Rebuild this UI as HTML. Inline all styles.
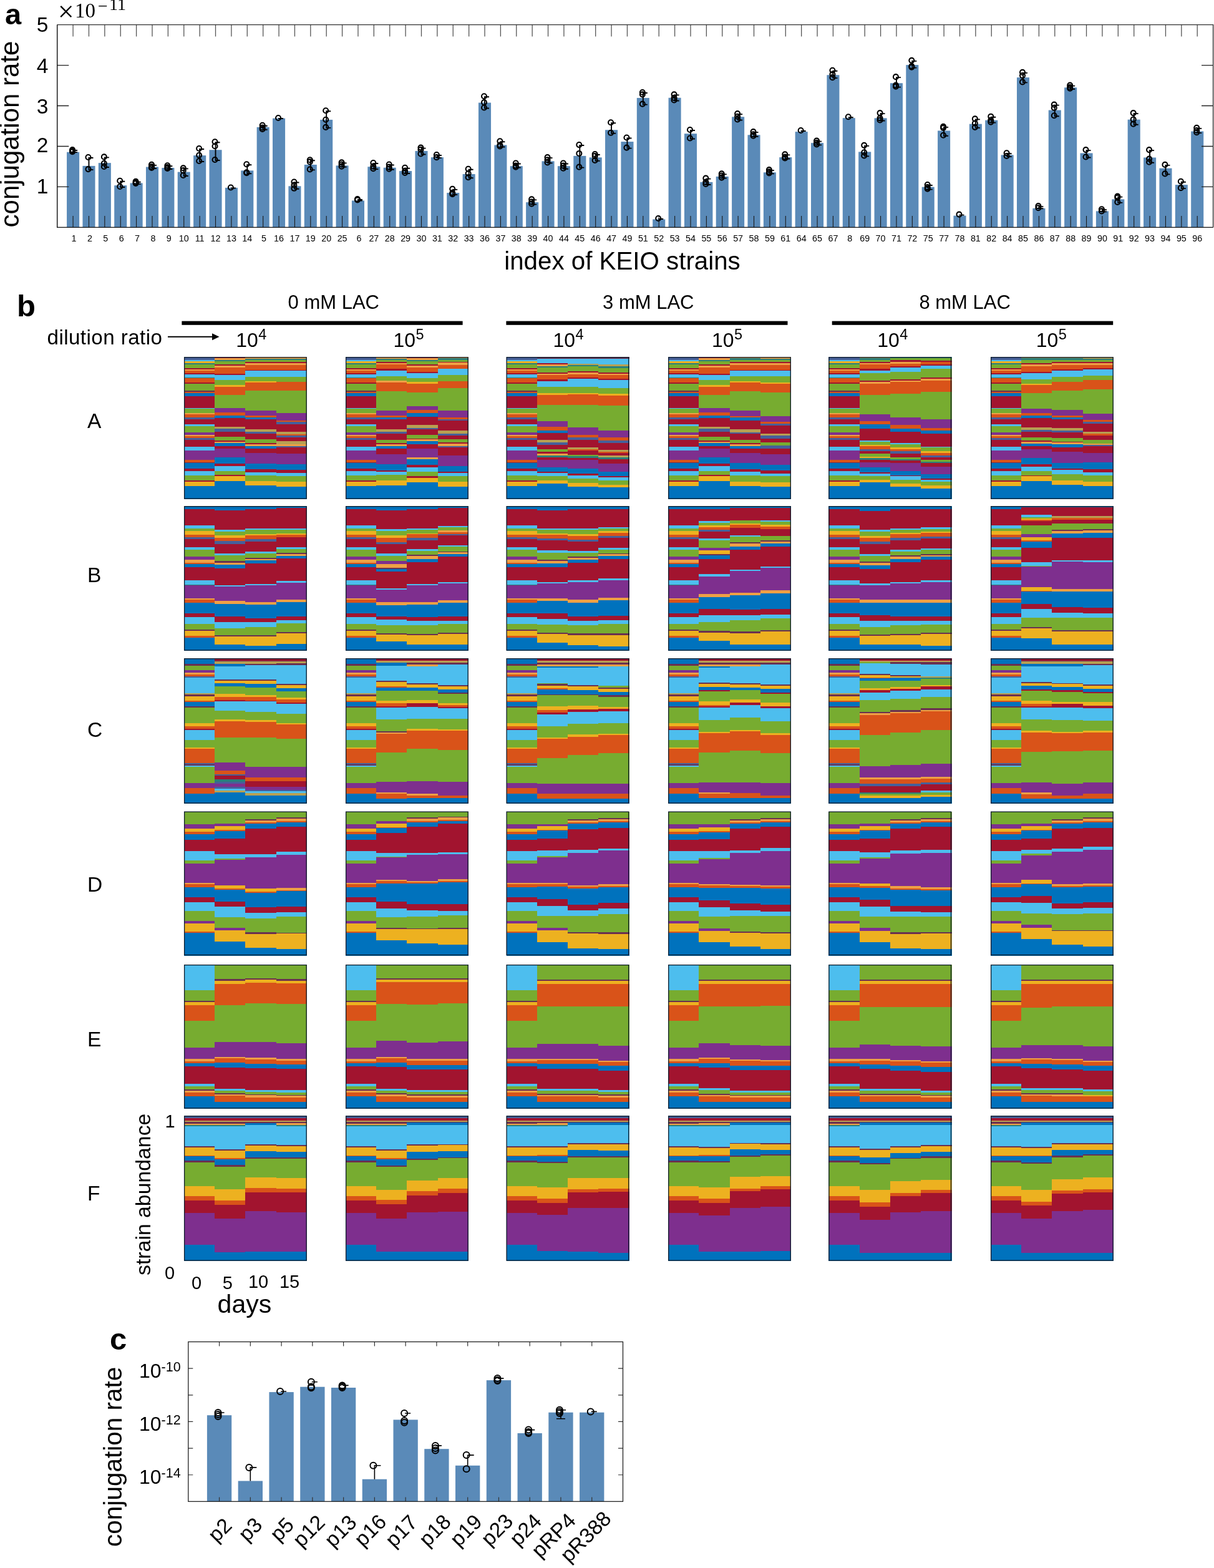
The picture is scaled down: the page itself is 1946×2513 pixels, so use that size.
<!DOCTYPE html>
<html><head><meta charset="utf-8"><title>Figure</title>
<style>html,body{margin:0;padding:0;background:#fff;} svg{display:block;}</style>
</head><body>
<svg width="1946" height="2513" viewBox="0 0 1946 2513"><text x="8" y="39" font-family="'Liberation Sans', Arial, Helvetica, sans-serif" font-weight="bold" font-size="47">a</text>
<rect x="107.06" y="243.75" width="20.05" height="120.65" fill="#5a8ab8"/>
<rect x="132.44" y="265.9" width="20.05" height="98.5" fill="#5a8ab8"/>
<rect x="157.82" y="261.14" width="20.05" height="103.26" fill="#5a8ab8"/>
<rect x="183.2" y="297.16" width="20.05" height="67.24" fill="#5a8ab8"/>
<rect x="208.58" y="293.43" width="20.05" height="70.97" fill="#5a8ab8"/>
<rect x="233.97" y="267.56" width="20.05" height="96.84" fill="#5a8ab8"/>
<rect x="259.35" y="269.01" width="20.05" height="95.39" fill="#5a8ab8"/>
<rect x="284.73" y="275.63" width="20.05" height="88.77" fill="#5a8ab8"/>
<rect x="310.11" y="249.14" width="20.05" height="115.26" fill="#5a8ab8"/>
<rect x="335.5" y="240.24" width="20.05" height="124.16" fill="#5a8ab8"/>
<rect x="360.88" y="300.89" width="20.05" height="63.51" fill="#5a8ab8"/>
<rect x="386.26" y="273.36" width="20.05" height="91.04" fill="#5a8ab8"/>
<rect x="411.64" y="203.8" width="20.05" height="160.6" fill="#5a8ab8"/>
<rect x="437.02" y="189.63" width="20.05" height="174.77" fill="#5a8ab8"/>
<rect x="462.41" y="298.3" width="20.05" height="66.1" fill="#5a8ab8"/>
<rect x="487.79" y="263.94" width="20.05" height="100.46" fill="#5a8ab8"/>
<rect x="513.17" y="191.91" width="20.05" height="172.49" fill="#5a8ab8"/>
<rect x="538.55" y="265.39" width="20.05" height="99.01" fill="#5a8ab8"/>
<rect x="563.94" y="321.49" width="20.05" height="42.91" fill="#5a8ab8"/>
<rect x="589.32" y="267.25" width="20.05" height="97.15" fill="#5a8ab8"/>
<rect x="614.7" y="268.7" width="20.05" height="95.7" fill="#5a8ab8"/>
<rect x="640.08" y="274.08" width="20.05" height="90.32" fill="#5a8ab8"/>
<rect x="665.46" y="242" width="20.05" height="122.4" fill="#5a8ab8"/>
<rect x="690.85" y="252.14" width="20.05" height="112.26" fill="#5a8ab8"/>
<rect x="716.23" y="309.07" width="20.05" height="55.33" fill="#5a8ab8"/>
<rect x="741.61" y="279.05" width="20.05" height="85.35" fill="#5a8ab8"/>
<rect x="766.99" y="164.58" width="20.05" height="199.82" fill="#5a8ab8"/>
<rect x="792.38" y="232.48" width="20.05" height="131.92" fill="#5a8ab8"/>
<rect x="817.76" y="266.22" width="20.05" height="98.18" fill="#5a8ab8"/>
<rect x="843.14" y="324.18" width="20.05" height="40.22" fill="#5a8ab8"/>
<rect x="868.52" y="258.35" width="20.05" height="106.05" fill="#5a8ab8"/>
<rect x="893.9" y="266.22" width="20.05" height="98.18" fill="#5a8ab8"/>
<rect x="919.29" y="249.87" width="20.05" height="114.53" fill="#5a8ab8"/>
<rect x="944.67" y="252.35" width="20.05" height="112.05" fill="#5a8ab8"/>
<rect x="970.05" y="208.26" width="20.05" height="156.14" fill="#5a8ab8"/>
<rect x="995.43" y="227.1" width="20.05" height="137.3" fill="#5a8ab8"/>
<rect x="1020.82" y="156.92" width="20.05" height="207.48" fill="#5a8ab8"/>
<rect x="1046.2" y="351.5" width="20.05" height="12.9" fill="#5a8ab8"/>
<rect x="1071.58" y="156.72" width="20.05" height="207.68" fill="#5a8ab8"/>
<rect x="1096.96" y="214.21" width="20.05" height="150.19" fill="#5a8ab8"/>
<rect x="1122.34" y="291.84" width="20.05" height="72.56" fill="#5a8ab8"/>
<rect x="1147.73" y="282.94" width="20.05" height="81.46" fill="#5a8ab8"/>
<rect x="1173.11" y="187.3" width="20.05" height="177.1" fill="#5a8ab8"/>
<rect x="1198.49" y="216.28" width="20.05" height="148.12" fill="#5a8ab8"/>
<rect x="1223.87" y="276.31" width="20.05" height="88.09" fill="#5a8ab8"/>
<rect x="1249.25" y="252.09" width="20.05" height="112.31" fill="#5a8ab8"/>
<rect x="1274.64" y="211.11" width="20.05" height="153.29" fill="#5a8ab8"/>
<rect x="1300.02" y="229.12" width="20.05" height="135.28" fill="#5a8ab8"/>
<rect x="1325.4" y="120.24" width="20.05" height="244.16" fill="#5a8ab8"/>
<rect x="1350.78" y="189.17" width="20.05" height="175.23" fill="#5a8ab8"/>
<rect x="1376.17" y="243.4" width="20.05" height="121" fill="#5a8ab8"/>
<rect x="1401.55" y="189.37" width="20.05" height="175.03" fill="#5a8ab8"/>
<rect x="1426.93" y="133.28" width="20.05" height="231.12" fill="#5a8ab8"/>
<rect x="1452.31" y="104.09" width="20.05" height="260.31" fill="#5a8ab8"/>
<rect x="1477.69" y="299.7" width="20.05" height="64.7" fill="#5a8ab8"/>
<rect x="1503.08" y="209.45" width="20.05" height="154.95" fill="#5a8ab8"/>
<rect x="1528.46" y="345.66" width="20.05" height="18.74" fill="#5a8ab8"/>
<rect x="1553.84" y="198.69" width="20.05" height="165.71" fill="#5a8ab8"/>
<rect x="1579.22" y="192.68" width="20.05" height="171.72" fill="#5a8ab8"/>
<rect x="1604.61" y="248.37" width="20.05" height="116.03" fill="#5a8ab8"/>
<rect x="1629.99" y="124.17" width="20.05" height="240.23" fill="#5a8ab8"/>
<rect x="1655.37" y="333.86" width="20.05" height="30.54" fill="#5a8ab8"/>
<rect x="1680.75" y="176.54" width="20.05" height="187.86" fill="#5a8ab8"/>
<rect x="1706.13" y="140.31" width="20.05" height="224.09" fill="#5a8ab8"/>
<rect x="1731.52" y="245.47" width="20.05" height="118.93" fill="#5a8ab8"/>
<rect x="1756.9" y="338.41" width="20.05" height="25.99" fill="#5a8ab8"/>
<rect x="1782.28" y="319.37" width="20.05" height="45.03" fill="#5a8ab8"/>
<rect x="1807.66" y="191.65" width="20.05" height="172.75" fill="#5a8ab8"/>
<rect x="1833.05" y="252.51" width="20.05" height="111.89" fill="#5a8ab8"/>
<rect x="1858.43" y="269.69" width="20.05" height="94.71" fill="#5a8ab8"/>
<rect x="1883.81" y="296.18" width="20.05" height="68.22" fill="#5a8ab8"/>
<rect x="1909.19" y="210.49" width="20.05" height="153.91" fill="#5a8ab8"/>
<path d="M117.08 364.4V345.9M142.46 364.4V345.9M167.85 364.4V345.9M193.23 364.4V345.9M218.61 364.4V345.9M243.99 364.4V345.9M269.38 364.4V345.9M294.76 364.4V345.9M320.14 364.4V345.9M345.52 364.4V345.9M370.9 364.4V345.9M396.29 364.4V345.9M421.67 364.4V345.9M447.05 364.4V345.9M472.43 364.4V345.9M497.82 364.4V345.9M523.2 364.4V345.9M548.58 364.4V345.9M573.96 364.4V345.9M599.34 364.4V345.9M624.73 364.4V345.9M650.11 364.4V345.9M675.49 364.4V345.9M700.87 364.4V345.9M726.25 364.4V345.9M751.64 364.4V345.9M777.02 364.4V345.9M802.4 364.4V345.9M827.78 364.4V345.9M853.17 364.4V345.9M878.55 364.4V345.9M903.93 364.4V345.9M929.31 364.4V345.9M954.69 364.4V345.9M980.08 364.4V345.9M1005.46 364.4V345.9M1030.84 364.4V345.9M1056.22 364.4V345.9M1081.61 364.4V345.9M1106.99 364.4V345.9M1132.37 364.4V345.9M1157.75 364.4V345.9M1183.13 364.4V345.9M1208.52 364.4V345.9M1233.9 364.4V345.9M1259.28 364.4V345.9M1284.66 364.4V345.9M1310.05 364.4V345.9M1335.43 364.4V345.9M1360.81 364.4V345.9M1386.19 364.4V345.9M1411.57 364.4V345.9M1436.96 364.4V345.9M1462.34 364.4V345.9M1487.72 364.4V345.9M1513.1 364.4V345.9M1538.48 364.4V345.9M1563.87 364.4V345.9M1589.25 364.4V345.9M1614.63 364.4V345.9M1640.01 364.4V345.9M1665.4 364.4V345.9M1690.78 364.4V345.9M1716.16 364.4V345.9M1741.54 364.4V345.9M1766.92 364.4V345.9M1792.31 364.4V345.9M1817.69 364.4V345.9M1843.07 364.4V345.9M1868.45 364.4V345.9M1893.84 364.4V345.9M1919.22 364.4V345.9" stroke="#1a1a1a" stroke-width="1.1" fill="none"/>
<path d="M117.08 39.6V58.4M142.46 39.6V58.4M167.85 39.6V58.4M193.23 39.6V58.4M218.61 39.6V58.4M243.99 39.6V58.4M269.38 39.6V58.4M294.76 39.6V58.4M320.14 39.6V58.4M345.52 39.6V58.4M370.9 39.6V58.4M396.29 39.6V58.4M421.67 39.6V58.4M447.05 39.6V58.4M472.43 39.6V58.4M497.82 39.6V58.4M523.2 39.6V58.4M548.58 39.6V58.4M573.96 39.6V58.4M599.34 39.6V58.4M624.73 39.6V58.4M650.11 39.6V58.4M675.49 39.6V58.4M700.87 39.6V58.4M726.25 39.6V58.4M751.64 39.6V58.4M777.02 39.6V58.4M802.4 39.6V58.4M827.78 39.6V58.4M853.17 39.6V58.4M878.55 39.6V58.4M903.93 39.6V58.4M929.31 39.6V58.4M954.69 39.6V58.4M980.08 39.6V58.4M1005.46 39.6V58.4M1030.84 39.6V58.4M1056.22 39.6V58.4M1081.61 39.6V58.4M1106.99 39.6V58.4M1132.37 39.6V58.4M1157.75 39.6V58.4M1183.13 39.6V58.4M1208.52 39.6V58.4M1233.9 39.6V58.4M1259.28 39.6V58.4M1284.66 39.6V58.4M1310.05 39.6V58.4M1335.43 39.6V58.4M1360.81 39.6V58.4M1386.19 39.6V58.4M1411.57 39.6V58.4M1436.96 39.6V58.4M1462.34 39.6V58.4M1487.72 39.6V58.4M1513.1 39.6V58.4M1538.48 39.6V58.4M1563.87 39.6V58.4M1589.25 39.6V58.4M1614.63 39.6V58.4M1640.01 39.6V58.4M1665.4 39.6V58.4M1690.78 39.6V58.4M1716.16 39.6V58.4M1741.54 39.6V58.4M1766.92 39.6V58.4M1792.31 39.6V58.4M1817.69 39.6V58.4M1843.07 39.6V58.4M1868.45 39.6V58.4M1893.84 39.6V58.4M1919.22 39.6V58.4" stroke="#555" stroke-width="1.3" fill="none"/>
<path d="M91.7 299.44H110.3M1944.6 299.44H1926M91.7 234.48H110.3M1944.6 234.48H1926M91.7 169.52H110.3M1944.6 169.52H1926M91.7 104.56H110.3M1944.6 104.56H1926" stroke="#222" stroke-width="1.3" fill="none"/>
<path d="M117.08 240.03V243.13M116.08 241.03H124.08M116.08 244.13H124.08M142.46 252.03V271.08M141.46 253.03H149.46M141.46 272.08H149.46M167.85 251.41V266.94M166.85 252.41H174.85M166.85 267.94H174.85M193.23 289.71V299.02M192.23 290.71H200.23M192.23 300.02H200.23M218.61 290.74V293.85M217.61 291.74H225.61M217.61 294.85H225.61M243.99 263.83V269.01M242.99 264.83H250.99M242.99 270.01H250.99M269.38 265.28V270.04M268.38 266.28H276.38M268.38 271.04H276.38M294.76 269.42V281.01M293.76 270.42H301.76M293.76 282.01H301.76M320.14 237.96V258.04M319.14 238.96H327.14M319.14 259.04H327.14M345.52 227.2V255.97M344.52 228.2H352.52M344.52 256.97H352.52M369.9 301.47H377.9M369.9 301.47H377.9M396.29 263.21V277.29M395.29 264.21H403.29M395.29 278.29H403.29M421.67 200.7V206.91M420.67 201.7H428.67M420.67 207.91H428.67M446.05 190.01H454.05M446.05 190.01H454.05M472.43 291.47V301.82M471.43 292.47H479.43M471.43 302.82H479.43M497.82 256.28V271.39M496.82 257.28H504.82M496.82 272.39H504.82M523.2 177.21V203.91M522.2 178.21H530.2M522.2 204.91H530.2M548.58 260.42V266.63M547.58 261.42H555.58M547.58 267.63H555.58M572.96 320H580.96M572.96 321.45H580.96M599.34 261.04V270.15M598.34 262.04H606.34M598.34 271.15H606.34M624.73 263.53V270.77M623.73 264.53H631.73M623.73 271.77H631.73M650.11 268.7V276.98M649.11 269.7H657.11M649.11 277.98H657.11M675.49 236.62V246.55M674.49 237.62H682.49M674.49 247.55H682.49M700.87 248V252.14M699.87 249H707.87M699.87 253.14H707.87M726.25 302.86V311.14M725.25 303.86H733.25M725.25 312.14H733.25M751.64 270.77V284.23M750.64 271.77H758.64M750.64 285.23H758.64M777.02 154.23V172.45M776.02 155.23H784.02M776.02 173.45H784.02M802.4 226.27V234.55M801.4 227.27H809.4M801.4 235.55H809.4M827.78 261.46V267.67M826.78 262.46H834.78M826.78 268.67H834.78M853.17 319.42V326.66M852.17 320.42H860.17M852.17 327.66H860.17M878.55 252.14V260.42M877.55 253.14H885.55M877.55 261.42H885.55M903.93 261.46V269.74M902.93 262.46H910.93M902.93 270.74H910.93M929.31 232.06V267.67M928.31 233.06H936.31M928.31 268.67H936.31M954.69 246.97V256.9M953.69 247.97H961.69M953.69 257.9H961.69M980.08 196.25V212.81M979.08 197.25H987.08M979.08 213.81H987.08M1005.46 220.47V236.62M1004.46 221.47H1012.46M1004.46 237.62H1012.46M1030.84 148.02V166.65M1029.84 149.02H1037.84M1029.84 167.65H1037.84M1055.22 351.05H1063.22M1055.22 351.05H1063.22M1081.61 151.34V160.44M1080.61 152.34H1088.61M1080.61 161.44H1088.61M1106.99 208V221.46M1105.99 209H1113.99M1105.99 222.46H1113.99M1132.37 285.63V294.94M1131.37 286.63H1139.37M1131.37 295.94H1139.37M1157.75 278.38V284.59M1156.75 279.38H1164.75M1156.75 285.59H1164.75M1183.13 182.13V191.44M1182.13 183.13H1190.13M1182.13 192.44H1190.13M1208.52 211.11V217.73M1207.52 212.11H1215.52M1207.52 218.73H1215.52M1233.9 272.17V277.35M1232.9 273.17H1240.9M1232.9 278.35H1240.9M1259.28 247.33V253.54M1258.28 248.33H1266.28M1258.28 254.54H1266.28M1283.66 210.04H1291.66M1283.66 210.04H1291.66M1310.05 225.6V231.39M1309.05 226.6H1317.05M1309.05 232.39H1317.05M1335.43 112.78V124.17M1334.43 113.78H1342.43M1334.43 125.17H1342.43M1359.81 188.3H1367.81M1359.81 188.3H1367.81M1386.19 232.84V249.4M1385.19 233.84H1393.19M1385.19 250.4H1393.19M1411.57 181.09V192.48M1410.57 182.09H1418.57M1410.57 193.48H1418.57M1436.96 123.13V138.66M1435.96 124.13H1443.96M1435.96 139.66H1443.96M1462.34 96.85V107.61M1461.34 97.85H1469.34M1461.34 108.61H1469.34M1487.72 295.98V302.6M1486.72 296.98H1494.72M1486.72 303.6H1494.72M1513.1 202.83V216.7M1512.1 203.83H1520.1M1512.1 217.7H1520.1M1537.48 344.59H1545.48M1537.48 344.59H1545.48M1563.87 190.41V203.86M1562.87 191.41H1570.87M1562.87 204.86H1570.87M1589.25 186.68V195.58M1588.25 187.68H1596.25M1588.25 196.58H1596.25M1614.63 245.26V250.02M1613.63 246.26H1621.63M1613.63 251.02H1621.63M1640.01 115.89V131.41M1639.01 116.89H1647.01M1639.01 132.41H1647.01M1665.4 330.13V333.24M1664.4 331.13H1672.4M1664.4 334.24H1672.4M1690.78 167.64V185.23M1689.78 168.64H1697.78M1689.78 186.23H1697.78M1716.16 136.59V141.76M1715.16 137.59H1723.16M1715.16 142.76H1723.16M1741.54 240.09V251.47M1740.54 241.09H1748.54M1740.54 252.47H1748.54M1766.92 335.31V338.41M1765.92 336.31H1773.92M1765.92 339.41H1773.92M1792.31 314.61V323.92M1791.31 315.61H1799.31M1791.31 324.92H1799.31M1817.69 181.09V198.69M1816.69 182.09H1824.69M1816.69 199.69H1824.69M1843.07 240.09V259.75M1842.07 241.09H1850.07M1842.07 260.75H1850.07M1868.45 263.89V278.38M1867.45 264.89H1875.45M1867.45 279.38H1875.45M1893.84 290.8V301.15M1892.84 291.8H1900.84M1892.84 302.15H1900.84M1919.22 204.9V212.14M1918.22 205.9H1926.22M1918.22 213.14H1926.22" stroke="#000" stroke-width="1.9" fill="none"/>
<g fill="none" stroke="#000" stroke-width="2.1"><circle cx="116.08" cy="240.03" r="4"/><circle cx="116.08" cy="242.1" r="4"/><circle cx="116.08" cy="243.13" r="4"/><circle cx="141.46" cy="252.03" r="4"/><circle cx="141.46" cy="271.08" r="4"/><circle cx="166.85" cy="251.41" r="4"/><circle cx="166.85" cy="261.76" r="4"/><circle cx="166.85" cy="266.94" r="4"/><circle cx="192.23" cy="289.71" r="4"/><circle cx="192.23" cy="299.02" r="4"/><circle cx="217.61" cy="290.74" r="4"/><circle cx="217.61" cy="292.81" r="4"/><circle cx="217.61" cy="293.85" r="4"/><circle cx="242.99" cy="263.83" r="4"/><circle cx="242.99" cy="266.94" r="4"/><circle cx="242.99" cy="269.01" r="4"/><circle cx="268.38" cy="265.28" r="4"/><circle cx="268.38" cy="267.97" r="4"/><circle cx="268.38" cy="270.04" r="4"/><circle cx="293.76" cy="269.42" r="4"/><circle cx="293.76" cy="273.15" r="4"/><circle cx="293.76" cy="281.01" r="4"/><circle cx="319.14" cy="237.96" r="4"/><circle cx="319.14" cy="248.72" r="4"/><circle cx="319.14" cy="258.04" r="4"/><circle cx="344.52" cy="227.2" r="4"/><circle cx="344.52" cy="234.23" r="4"/><circle cx="344.52" cy="255.97" r="4"/><circle cx="369.9" cy="300.47" r="4"/><circle cx="395.29" cy="263.21" r="4"/><circle cx="395.29" cy="276.25" r="4"/><circle cx="395.29" cy="277.29" r="4"/><circle cx="420.67" cy="200.7" r="4"/><circle cx="420.67" cy="204.43" r="4"/><circle cx="420.67" cy="206.91" r="4"/><circle cx="446.05" cy="189.01" r="4"/><circle cx="471.43" cy="291.47" r="4"/><circle cx="471.43" cy="296.65" r="4"/><circle cx="471.43" cy="301.82" r="4"/><circle cx="496.82" cy="256.28" r="4"/><circle cx="496.82" cy="259.39" r="4"/><circle cx="496.82" cy="271.39" r="4"/><circle cx="522.2" cy="177.21" r="4"/><circle cx="522.2" cy="191.7" r="4"/><circle cx="522.2" cy="203.91" r="4"/><circle cx="547.58" cy="260.42" r="4"/><circle cx="547.58" cy="263.53" r="4"/><circle cx="547.58" cy="266.63" r="4"/><circle cx="572.96" cy="319" r="4"/><circle cx="572.96" cy="320.45" r="4"/><circle cx="598.34" cy="261.04" r="4"/><circle cx="598.34" cy="266.63" r="4"/><circle cx="598.34" cy="270.15" r="4"/><circle cx="623.73" cy="263.53" r="4"/><circle cx="623.73" cy="267.67" r="4"/><circle cx="623.73" cy="270.77" r="4"/><circle cx="649.11" cy="268.7" r="4"/><circle cx="649.11" cy="273.88" r="4"/><circle cx="649.11" cy="276.98" r="4"/><circle cx="674.49" cy="236.62" r="4"/><circle cx="674.49" cy="239.72" r="4"/><circle cx="674.49" cy="246.55" r="4"/><circle cx="699.87" cy="248" r="4"/><circle cx="699.87" cy="252.14" r="4"/><circle cx="725.25" cy="302.86" r="4"/><circle cx="725.25" cy="309.07" r="4"/><circle cx="725.25" cy="311.14" r="4"/><circle cx="750.64" cy="270.77" r="4"/><circle cx="750.64" cy="278.02" r="4"/><circle cx="750.64" cy="284.23" r="4"/><circle cx="776.02" cy="154.23" r="4"/><circle cx="776.02" cy="164.17" r="4"/><circle cx="776.02" cy="172.45" r="4"/><circle cx="801.4" cy="226.27" r="4"/><circle cx="801.4" cy="232.48" r="4"/><circle cx="801.4" cy="234.55" r="4"/><circle cx="826.78" cy="261.46" r="4"/><circle cx="826.78" cy="265.6" r="4"/><circle cx="826.78" cy="267.67" r="4"/><circle cx="852.17" cy="319.42" r="4"/><circle cx="852.17" cy="323.56" r="4"/><circle cx="852.17" cy="326.66" r="4"/><circle cx="877.55" cy="252.14" r="4"/><circle cx="877.55" cy="256.28" r="4"/><circle cx="877.55" cy="260.42" r="4"/><circle cx="902.93" cy="261.46" r="4"/><circle cx="902.93" cy="265.6" r="4"/><circle cx="902.93" cy="269.74" r="4"/><circle cx="928.31" cy="232.06" r="4"/><circle cx="928.31" cy="245.93" r="4"/><circle cx="928.31" cy="267.67" r="4"/><circle cx="953.69" cy="246.97" r="4"/><circle cx="953.69" cy="250.07" r="4"/><circle cx="953.69" cy="256.9" r="4"/><circle cx="979.08" cy="196.25" r="4"/><circle cx="979.08" cy="212.81" r="4"/><circle cx="1004.46" cy="220.47" r="4"/><circle cx="1004.46" cy="236.62" r="4"/><circle cx="1029.84" cy="148.02" r="4"/><circle cx="1029.84" cy="151.34" r="4"/><circle cx="1029.84" cy="166.65" r="4"/><circle cx="1055.22" cy="350.05" r="4"/><circle cx="1080.61" cy="151.34" r="4"/><circle cx="1080.61" cy="156.92" r="4"/><circle cx="1080.61" cy="160.44" r="4"/><circle cx="1105.99" cy="208" r="4"/><circle cx="1105.99" cy="221.46" r="4"/><circle cx="1131.37" cy="285.63" r="4"/><circle cx="1131.37" cy="291.84" r="4"/><circle cx="1131.37" cy="294.94" r="4"/><circle cx="1156.75" cy="278.38" r="4"/><circle cx="1156.75" cy="281.49" r="4"/><circle cx="1156.75" cy="284.59" r="4"/><circle cx="1182.13" cy="182.13" r="4"/><circle cx="1182.13" cy="186.68" r="4"/><circle cx="1182.13" cy="191.44" r="4"/><circle cx="1207.52" cy="211.11" r="4"/><circle cx="1207.52" cy="215.25" r="4"/><circle cx="1207.52" cy="217.73" r="4"/><circle cx="1232.9" cy="272.17" r="4"/><circle cx="1232.9" cy="275.28" r="4"/><circle cx="1232.9" cy="277.35" r="4"/><circle cx="1258.28" cy="247.33" r="4"/><circle cx="1258.28" cy="251.47" r="4"/><circle cx="1258.28" cy="253.54" r="4"/><circle cx="1283.66" cy="209.04" r="4"/><circle cx="1309.05" cy="225.6" r="4"/><circle cx="1309.05" cy="228.7" r="4"/><circle cx="1309.05" cy="231.39" r="4"/><circle cx="1334.43" cy="112.78" r="4"/><circle cx="1334.43" cy="118.99" r="4"/><circle cx="1334.43" cy="124.17" r="4"/><circle cx="1359.81" cy="187.3" r="4"/><circle cx="1385.19" cy="232.84" r="4"/><circle cx="1385.19" cy="244.23" r="4"/><circle cx="1385.19" cy="249.4" r="4"/><circle cx="1410.57" cy="181.09" r="4"/><circle cx="1410.57" cy="189.37" r="4"/><circle cx="1410.57" cy="192.48" r="4"/><circle cx="1435.96" cy="123.13" r="4"/><circle cx="1435.96" cy="136.59" r="4"/><circle cx="1435.96" cy="138.66" r="4"/><circle cx="1461.34" cy="96.85" r="4"/><circle cx="1461.34" cy="105.95" r="4"/><circle cx="1461.34" cy="107.61" r="4"/><circle cx="1486.72" cy="295.98" r="4"/><circle cx="1486.72" cy="300.12" r="4"/><circle cx="1486.72" cy="302.6" r="4"/><circle cx="1512.1" cy="202.83" r="4"/><circle cx="1512.1" cy="204.9" r="4"/><circle cx="1512.1" cy="216.7" r="4"/><circle cx="1537.48" cy="343.59" r="4"/><circle cx="1562.87" cy="190.41" r="4"/><circle cx="1562.87" cy="197.65" r="4"/><circle cx="1562.87" cy="203.86" r="4"/><circle cx="1588.25" cy="186.68" r="4"/><circle cx="1588.25" cy="192.48" r="4"/><circle cx="1588.25" cy="195.58" r="4"/><circle cx="1613.63" cy="245.26" r="4"/><circle cx="1613.63" cy="250.02" r="4"/><circle cx="1639.01" cy="115.89" r="4"/><circle cx="1639.01" cy="121.06" r="4"/><circle cx="1639.01" cy="131.41" r="4"/><circle cx="1664.4" cy="330.13" r="4"/><circle cx="1664.4" cy="333.24" r="4"/><circle cx="1689.78" cy="167.64" r="4"/><circle cx="1689.78" cy="172.81" r="4"/><circle cx="1689.78" cy="185.23" r="4"/><circle cx="1715.16" cy="136.59" r="4"/><circle cx="1715.16" cy="139.69" r="4"/><circle cx="1715.16" cy="141.76" r="4"/><circle cx="1740.54" cy="240.09" r="4"/><circle cx="1740.54" cy="251.47" r="4"/><circle cx="1765.92" cy="335.31" r="4"/><circle cx="1765.92" cy="338.41" r="4"/><circle cx="1791.31" cy="314.61" r="4"/><circle cx="1791.31" cy="316.68" r="4"/><circle cx="1791.31" cy="323.92" r="4"/><circle cx="1816.69" cy="181.09" r="4"/><circle cx="1816.69" cy="191.44" r="4"/><circle cx="1816.69" cy="198.69" r="4"/><circle cx="1842.07" cy="240.09" r="4"/><circle cx="1842.07" cy="254.58" r="4"/><circle cx="1842.07" cy="259.75" r="4"/><circle cx="1867.45" cy="263.89" r="4"/><circle cx="1867.45" cy="278.38" r="4"/><circle cx="1892.84" cy="290.8" r="4"/><circle cx="1892.84" cy="301.15" r="4"/><circle cx="1918.22" cy="204.9" r="4"/><circle cx="1918.22" cy="209.04" r="4"/><circle cx="1918.22" cy="212.14" r="4"/></g>
<path d="M91.7 39.6V364.4H1944.6" stroke="#111" stroke-width="1.4" fill="none"/>
<path d="M91.7 39.6H1944.6V364.4" stroke="#333" stroke-width="1.4" fill="none"/>
<text x="77.3" y="50.8" text-anchor="end" font-family="'Liberation Sans', Arial, Helvetica, sans-serif" font-size="33.5">5</text>
<text x="77.3" y="116.6" text-anchor="end" font-family="'Liberation Sans', Arial, Helvetica, sans-serif" font-size="33.5">4</text>
<text x="77.3" y="181.7" text-anchor="end" font-family="'Liberation Sans', Arial, Helvetica, sans-serif" font-size="33.5">3</text>
<text x="77.3" y="243.6" text-anchor="end" font-family="'Liberation Sans', Arial, Helvetica, sans-serif" font-size="33.5">2</text>
<text x="77.3" y="309.5" text-anchor="end" font-family="'Liberation Sans', Arial, Helvetica, sans-serif" font-size="33.5">1</text>
<g font-family="'Liberation Sans', Arial, Helvetica, sans-serif" font-size="14.3" text-anchor="middle"><text x="118.48" y="387.4">1</text><text x="143.86" y="387.4">2</text><text x="169.25" y="387.4">5</text><text x="194.63" y="387.4">6</text><text x="220.01" y="387.4">7</text><text x="245.39" y="387.4">8</text><text x="270.78" y="387.4">9</text><text x="294.76" y="387.4">10</text><text x="320.14" y="387.4">11</text><text x="345.52" y="387.4">12</text><text x="370.9" y="387.4">13</text><text x="396.29" y="387.4">14</text><text x="423.07" y="387.4">5</text><text x="447.05" y="387.4">16</text><text x="472.43" y="387.4">17</text><text x="497.82" y="387.4">19</text><text x="523.2" y="387.4">20</text><text x="548.58" y="387.4">25</text><text x="575.36" y="387.4">6</text><text x="599.34" y="387.4">27</text><text x="624.73" y="387.4">28</text><text x="650.11" y="387.4">29</text><text x="675.49" y="387.4">30</text><text x="700.87" y="387.4">31</text><text x="726.25" y="387.4">32</text><text x="751.64" y="387.4">33</text><text x="777.02" y="387.4">36</text><text x="802.4" y="387.4">37</text><text x="827.78" y="387.4">38</text><text x="853.17" y="387.4">39</text><text x="878.55" y="387.4">40</text><text x="903.93" y="387.4">44</text><text x="929.31" y="387.4">45</text><text x="954.69" y="387.4">46</text><text x="980.08" y="387.4">47</text><text x="1005.46" y="387.4">49</text><text x="1030.84" y="387.4">51</text><text x="1056.22" y="387.4">52</text><text x="1081.61" y="387.4">53</text><text x="1106.99" y="387.4">54</text><text x="1132.37" y="387.4">55</text><text x="1157.75" y="387.4">56</text><text x="1183.13" y="387.4">57</text><text x="1208.52" y="387.4">58</text><text x="1233.9" y="387.4">59</text><text x="1259.28" y="387.4">61</text><text x="1284.66" y="387.4">64</text><text x="1310.05" y="387.4">65</text><text x="1335.43" y="387.4">67</text><text x="1362.21" y="387.4">8</text><text x="1386.19" y="387.4">69</text><text x="1411.57" y="387.4">70</text><text x="1436.96" y="387.4">71</text><text x="1462.34" y="387.4">72</text><text x="1487.72" y="387.4">75</text><text x="1513.1" y="387.4">77</text><text x="1538.48" y="387.4">78</text><text x="1563.87" y="387.4">81</text><text x="1589.25" y="387.4">82</text><text x="1614.63" y="387.4">84</text><text x="1640.01" y="387.4">85</text><text x="1665.4" y="387.4">86</text><text x="1690.78" y="387.4">87</text><text x="1716.16" y="387.4">88</text><text x="1741.54" y="387.4">89</text><text x="1766.92" y="387.4">90</text><text x="1792.31" y="387.4">91</text><text x="1817.69" y="387.4">92</text><text x="1843.07" y="387.4">93</text><text x="1868.45" y="387.4">94</text><text x="1893.84" y="387.4">95</text><text x="1919.22" y="387.4">96</text></g>
<text x="92.8" y="34.3" font-family="'Liberation Serif', 'Times New Roman', serif" font-size="46">&#215;</text>
<text x="120" y="27.6" font-family="'Liberation Serif', 'Times New Roman', serif" font-size="33">10</text>
<text x="157" y="18.5" font-family="'Liberation Serif', 'Times New Roman', serif" font-size="28">&#8722;</text>
<text x="175" y="15.6" font-family="'Liberation Serif', 'Times New Roman', serif" font-size="28">11</text>
<text transform="translate(30.3 215) rotate(-90)" text-anchor="middle" font-family="'Liberation Sans', Arial, Helvetica, sans-serif" font-size="42">conjugation rate</text>
<text x="997.5" y="431.6" text-anchor="middle" font-family="'Liberation Sans', Arial, Helvetica, sans-serif" font-size="40.3">index of KEIO strains</text>
<text x="27" y="507" font-family="'Liberation Sans', Arial, Helvetica, sans-serif" font-weight="bold" font-size="49">b</text>
<rect x="291.4" y="514.6" width="450.2" height="6.2" fill="#000"/>
<rect x="811.4" y="514.6" width="451.1" height="6.2" fill="#000"/>
<rect x="1333.7" y="514.6" width="450.5" height="6.2" fill="#000"/>
<text x="534.8" y="495.3" text-anchor="middle" font-family="'Liberation Sans', Arial, Helvetica, sans-serif" font-size="31">0 mM LAC</text>
<text x="1039.3" y="495.3" text-anchor="middle" font-family="'Liberation Sans', Arial, Helvetica, sans-serif" font-size="31">3 mM LAC</text>
<text x="1546.6" y="495.3" text-anchor="middle" font-family="'Liberation Sans', Arial, Helvetica, sans-serif" font-size="31">8 mM LAC</text>
<text x="378.3" y="556" font-family="'Liberation Sans', Arial, Helvetica, sans-serif" font-size="32">10</text><text x="414.3" y="544.3" font-family="'Liberation Sans', Arial, Helvetica, sans-serif" font-size="23.5">4</text>
<text x="630.5" y="556" font-family="'Liberation Sans', Arial, Helvetica, sans-serif" font-size="32">10</text><text x="666.5" y="544.3" font-family="'Liberation Sans', Arial, Helvetica, sans-serif" font-size="23.5">5</text>
<text x="886.4" y="556" font-family="'Liberation Sans', Arial, Helvetica, sans-serif" font-size="32">10</text><text x="922.4" y="544.3" font-family="'Liberation Sans', Arial, Helvetica, sans-serif" font-size="23.5">4</text>
<text x="1140.9" y="556" font-family="'Liberation Sans', Arial, Helvetica, sans-serif" font-size="32">10</text><text x="1176.9" y="544.3" font-family="'Liberation Sans', Arial, Helvetica, sans-serif" font-size="23.5">5</text>
<text x="1406.3" y="556" font-family="'Liberation Sans', Arial, Helvetica, sans-serif" font-size="32">10</text><text x="1442.3" y="544.3" font-family="'Liberation Sans', Arial, Helvetica, sans-serif" font-size="23.5">4</text>
<text x="1660.8" y="556" font-family="'Liberation Sans', Arial, Helvetica, sans-serif" font-size="32">10</text><text x="1696.8" y="544.3" font-family="'Liberation Sans', Arial, Helvetica, sans-serif" font-size="23.5">5</text>
<text x="75.5" y="551.6" font-family="'Liberation Sans', Arial, Helvetica, sans-serif" font-size="33.2" textLength="184.5" lengthAdjust="spacing">dilution ratio</text>
<path d="M269 539.8H342" stroke="#000" stroke-width="2"/><path d="M340 534.3L351.5 539.8L340 545.3Z" fill="#000"/>
<text x="140" y="685.8" font-family="'Liberation Sans', Arial, Helvetica, sans-serif" font-size="33.5">A</text>
<text x="140" y="932.7" font-family="'Liberation Sans', Arial, Helvetica, sans-serif" font-size="33.5">B</text>
<text x="140" y="1181.1" font-family="'Liberation Sans', Arial, Helvetica, sans-serif" font-size="33.5">C</text>
<text x="140" y="1429.1" font-family="'Liberation Sans', Arial, Helvetica, sans-serif" font-size="33.5">D</text>
<text x="140" y="1677" font-family="'Liberation Sans', Arial, Helvetica, sans-serif" font-size="33.5">E</text>
<text x="140" y="1923.8" font-family="'Liberation Sans', Arial, Helvetica, sans-serif" font-size="33.5">F</text>
<g shape-rendering="crispEdges"><rect x="295" y="572.15" width="49.7" height="5.73" fill="#46609a"/><rect x="295" y="577.38" width="49.7" height="2.24" fill="#4DBEEE"/><rect x="295" y="579.13" width="49.7" height="3.41" fill="#EDB120"/><rect x="295" y="582.03" width="49.7" height="2.83" fill="#2a7f7a"/><rect x="295" y="584.36" width="49.7" height="5.73" fill="#77AC30"/><rect x="295" y="589.59" width="49.7" height="2.59" fill="#A2142F"/><rect x="295" y="591.68" width="49.7" height="3.06" fill="#eea045"/><rect x="295" y="594.24" width="49.7" height="4.57" fill="#D95319"/><rect x="295" y="598.31" width="49.7" height="2.24" fill="#A2142F"/><rect x="295" y="600.06" width="49.7" height="5.15" fill="#4DBEEE"/><rect x="295" y="604.71" width="49.7" height="2.24" fill="#2a7f7a"/><rect x="295" y="606.45" width="49.7" height="7.48" fill="#D95319"/><rect x="295" y="613.43" width="49.7" height="1.66" fill="#A2142F"/><rect x="295" y="614.59" width="49.7" height="11.55" fill="#77AC30"/><rect x="295" y="625.64" width="49.7" height="2.59" fill="#6a3050"/><rect x="295" y="627.73" width="49.7" height="3.06" fill="#D95319"/><rect x="295" y="630.29" width="49.7" height="5.15" fill="#0072BD"/><rect x="295" y="634.94" width="49.7" height="19.1" fill="#A2142F"/><rect x="295" y="653.54" width="49.7" height="2.24" fill="#4DBEEE"/><rect x="295" y="655.29" width="49.7" height="6.9" fill="#77AC30"/><rect x="295" y="661.68" width="49.7" height="2.83" fill="#eea045"/><rect x="295" y="664.01" width="49.7" height="5.15" fill="#D95319"/><rect x="295" y="668.66" width="49.7" height="3.41" fill="#46609a"/><rect x="295" y="671.57" width="49.7" height="9.22" fill="#A2142F"/><rect x="295" y="680.29" width="49.7" height="2.83" fill="#4DBEEE"/><rect x="295" y="682.61" width="49.7" height="10.96" fill="#77AC30"/><rect x="295" y="693.08" width="49.7" height="4.57" fill="#7E2F8E"/><rect x="295" y="697.15" width="49.7" height="2.83" fill="#eea045"/><rect x="295" y="699.47" width="49.7" height="2.83" fill="#D95319"/><rect x="295" y="701.8" width="49.7" height="3.99" fill="#46609a"/><rect x="295" y="705.28" width="49.7" height="11.55" fill="#A2142F"/><rect x="295" y="716.33" width="49.7" height="5.73" fill="#4DBEEE"/><rect x="295" y="721.56" width="49.7" height="16.2" fill="#7E2F8E"/><rect x="295" y="737.26" width="49.7" height="3.99" fill="#D95319"/><rect x="295" y="740.75" width="49.7" height="2.24" fill="#6a3050"/><rect x="295" y="742.49" width="49.7" height="8.64" fill="#0072BD"/><rect x="295" y="750.63" width="49.7" height="4.57" fill="#A2142F"/><rect x="295" y="754.7" width="49.7" height="7.48" fill="#4DBEEE"/><rect x="295" y="761.68" width="49.7" height="8.64" fill="#77AC30"/><rect x="295" y="769.82" width="49.7" height="2.83" fill="#A2142F"/><rect x="295" y="772.14" width="49.7" height="7.48" fill="#EDB120"/><rect x="295" y="779.12" width="49.7" height="21.08" fill="#0072BD"/><rect x="344.2" y="572.15" width="49.7" height="2.83" fill="#A2142F"/><rect x="344.2" y="574.48" width="49.7" height="2.83" fill="#eea045"/><rect x="344.2" y="576.8" width="49.7" height="2.83" fill="#2a7f7a"/><rect x="344.2" y="579.13" width="49.7" height="5.15" fill="#77AC30"/><rect x="344.2" y="583.78" width="49.7" height="2.59" fill="#A2142F"/><rect x="344.2" y="585.87" width="49.7" height="3.64" fill="#eea045"/><rect x="344.2" y="589.01" width="49.7" height="10.38" fill="#D95319"/><rect x="344.2" y="598.89" width="49.7" height="2.24" fill="#A2142F"/><rect x="344.2" y="600.64" width="49.7" height="9.22" fill="#4DBEEE"/><rect x="344.2" y="609.36" width="49.7" height="8.06" fill="#77AC30"/><rect x="344.2" y="616.92" width="49.7" height="3.41" fill="#EDB120"/><rect x="344.2" y="619.82" width="49.7" height="13.87" fill="#D95319"/><rect x="344.2" y="633.19" width="49.7" height="21.43" fill="#77AC30"/><rect x="344.2" y="654.12" width="49.7" height="7.48" fill="#7E2F8E"/><rect x="344.2" y="661.1" width="49.7" height="5.15" fill="#D95319"/><rect x="344.2" y="665.75" width="49.7" height="5.15" fill="#0072BD"/><rect x="344.2" y="670.4" width="49.7" height="14.45" fill="#A2142F"/><rect x="344.2" y="684.36" width="49.7" height="3.41" fill="#b8a052"/><rect x="344.2" y="687.26" width="49.7" height="5.15" fill="#46609a"/><rect x="344.2" y="691.91" width="49.7" height="8.64" fill="#A2142F"/><rect x="344.2" y="700.05" width="49.7" height="6.31" fill="#77AC30"/><rect x="344.2" y="705.87" width="49.7" height="2.24" fill="#A2142F"/><rect x="344.2" y="707.61" width="49.7" height="2.83" fill="#eea045"/><rect x="344.2" y="709.94" width="49.7" height="5.15" fill="#0072BD"/><rect x="344.2" y="714.59" width="49.7" height="5.15" fill="#A2142F"/><rect x="344.2" y="719.24" width="49.7" height="14.45" fill="#7E2F8E"/><rect x="344.2" y="733.19" width="49.7" height="10.38" fill="#0072BD"/><rect x="344.2" y="743.07" width="49.7" height="4.57" fill="#A2142F"/><rect x="344.2" y="747.14" width="49.7" height="8.06" fill="#4DBEEE"/><rect x="344.2" y="754.7" width="49.7" height="6.9" fill="#77AC30"/><rect x="344.2" y="761.1" width="49.7" height="2.83" fill="#A2142F"/><rect x="344.2" y="763.42" width="49.7" height="8.06" fill="#EDB120"/><rect x="344.2" y="770.98" width="49.7" height="29.22" fill="#0072BD"/><rect x="393.4" y="572.15" width="49.7" height="3.41" fill="#eea045"/><rect x="393.4" y="575.06" width="49.7" height="2.24" fill="#2a7f7a"/><rect x="393.4" y="576.8" width="49.7" height="3.99" fill="#77AC30"/><rect x="393.4" y="580.29" width="49.7" height="2.24" fill="#A2142F"/><rect x="393.4" y="582.03" width="49.7" height="3.41" fill="#eea045"/><rect x="393.4" y="584.94" width="49.7" height="8.64" fill="#D95319"/><rect x="393.4" y="593.08" width="49.7" height="1.66" fill="#A2142F"/><rect x="393.4" y="594.24" width="49.7" height="9.8" fill="#4DBEEE"/><rect x="393.4" y="603.54" width="49.7" height="8.06" fill="#77AC30"/><rect x="393.4" y="611.1" width="49.7" height="2.83" fill="#EDB120"/><rect x="393.4" y="613.43" width="49.7" height="13.29" fill="#D95319"/><rect x="393.4" y="626.22" width="49.7" height="31.89" fill="#77AC30"/><rect x="393.4" y="657.61" width="49.7" height="9.22" fill="#7E2F8E"/><rect x="393.4" y="666.33" width="49.7" height="3.41" fill="#D95319"/><rect x="393.4" y="669.24" width="49.7" height="3.41" fill="#0072BD"/><rect x="393.4" y="672.15" width="49.7" height="16.78" fill="#A2142F"/><rect x="393.4" y="688.42" width="49.7" height="4.57" fill="#b8a052"/><rect x="393.4" y="692.49" width="49.7" height="3.41" fill="#46609a"/><rect x="393.4" y="695.4" width="49.7" height="9.22" fill="#A2142F"/><rect x="393.4" y="704.12" width="49.7" height="6.31" fill="#77AC30"/><rect x="393.4" y="709.94" width="49.7" height="2.24" fill="#A2142F"/><rect x="393.4" y="711.68" width="49.7" height="3.41" fill="#eea045"/><rect x="393.4" y="714.59" width="49.7" height="5.15" fill="#0072BD"/><rect x="393.4" y="719.24" width="49.7" height="7.48" fill="#A2142F"/><rect x="393.4" y="726.21" width="49.7" height="17.36" fill="#7E2F8E"/><rect x="393.4" y="743.07" width="49.7" height="9.22" fill="#0072BD"/><rect x="393.4" y="751.79" width="49.7" height="5.73" fill="#A2142F"/><rect x="393.4" y="757.03" width="49.7" height="5.15" fill="#4DBEEE"/><rect x="393.4" y="761.68" width="49.7" height="9.8" fill="#77AC30"/><rect x="393.4" y="770.98" width="49.7" height="7.48" fill="#EDB120"/><rect x="393.4" y="777.96" width="49.7" height="22.24" fill="#0072BD"/><rect x="442.6" y="572.15" width="49.7" height="3.41" fill="#eea045"/><rect x="442.6" y="575.06" width="49.7" height="2.24" fill="#2a7f7a"/><rect x="442.6" y="576.8" width="49.7" height="3.99" fill="#77AC30"/><rect x="442.6" y="580.29" width="49.7" height="2.24" fill="#A2142F"/><rect x="442.6" y="582.03" width="49.7" height="3.41" fill="#eea045"/><rect x="442.6" y="584.94" width="49.7" height="8.06" fill="#D95319"/><rect x="442.6" y="592.5" width="49.7" height="2.24" fill="#A2142F"/><rect x="442.6" y="594.24" width="49.7" height="9.8" fill="#4DBEEE"/><rect x="442.6" y="603.54" width="49.7" height="8.64" fill="#77AC30"/><rect x="442.6" y="611.68" width="49.7" height="14.45" fill="#D95319"/><rect x="442.6" y="625.64" width="49.7" height="36.55" fill="#77AC30"/><rect x="442.6" y="661.68" width="49.7" height="12.71" fill="#7E2F8E"/><rect x="442.6" y="673.89" width="49.7" height="2.83" fill="#D95319"/><rect x="442.6" y="676.22" width="49.7" height="3.99" fill="#46609a"/><rect x="442.6" y="679.7" width="49.7" height="13.29" fill="#A2142F"/><rect x="442.6" y="692.49" width="49.7" height="3.99" fill="#b8a052"/><rect x="442.6" y="695.98" width="49.7" height="2.83" fill="#D95319"/><rect x="442.6" y="698.31" width="49.7" height="2.83" fill="#46609a"/><rect x="442.6" y="700.63" width="49.7" height="6.9" fill="#A2142F"/><rect x="442.6" y="707.03" width="49.7" height="5.15" fill="#b8a052"/><rect x="442.6" y="711.68" width="49.7" height="3.41" fill="#eea045"/><rect x="442.6" y="714.59" width="49.7" height="3.41" fill="#46609a"/><rect x="442.6" y="717.49" width="49.7" height="9.8" fill="#A2142F"/><rect x="442.6" y="726.8" width="49.7" height="17.36" fill="#7E2F8E"/><rect x="442.6" y="743.66" width="49.7" height="9.8" fill="#0072BD"/><rect x="442.6" y="752.96" width="49.7" height="5.15" fill="#A2142F"/><rect x="442.6" y="757.61" width="49.7" height="5.73" fill="#4DBEEE"/><rect x="442.6" y="762.84" width="49.7" height="9.8" fill="#77AC30"/><rect x="442.6" y="772.14" width="49.7" height="8.06" fill="#EDB120"/><rect x="442.6" y="779.7" width="49.7" height="20.5" fill="#0072BD"/></g><rect x="295.6" y="572.75" width="195.6" height="226.35" fill="none" stroke="#0d1b2a" stroke-width="1.3"/>
<g shape-rendering="crispEdges"><rect x="554" y="572.15" width="49.7" height="5.73" fill="#46609a"/><rect x="554" y="577.38" width="49.7" height="2.24" fill="#4DBEEE"/><rect x="554" y="579.13" width="49.7" height="3.41" fill="#EDB120"/><rect x="554" y="582.03" width="49.7" height="2.83" fill="#2a7f7a"/><rect x="554" y="584.36" width="49.7" height="5.73" fill="#77AC30"/><rect x="554" y="589.59" width="49.7" height="2.59" fill="#A2142F"/><rect x="554" y="591.68" width="49.7" height="3.06" fill="#eea045"/><rect x="554" y="594.24" width="49.7" height="4.57" fill="#D95319"/><rect x="554" y="598.31" width="49.7" height="2.24" fill="#A2142F"/><rect x="554" y="600.06" width="49.7" height="5.15" fill="#4DBEEE"/><rect x="554" y="604.71" width="49.7" height="2.24" fill="#2a7f7a"/><rect x="554" y="606.45" width="49.7" height="7.48" fill="#D95319"/><rect x="554" y="613.43" width="49.7" height="1.66" fill="#A2142F"/><rect x="554" y="614.59" width="49.7" height="11.55" fill="#77AC30"/><rect x="554" y="625.64" width="49.7" height="2.59" fill="#6a3050"/><rect x="554" y="627.73" width="49.7" height="3.06" fill="#D95319"/><rect x="554" y="630.29" width="49.7" height="5.15" fill="#0072BD"/><rect x="554" y="634.94" width="49.7" height="19.1" fill="#A2142F"/><rect x="554" y="653.54" width="49.7" height="2.24" fill="#4DBEEE"/><rect x="554" y="655.29" width="49.7" height="6.9" fill="#77AC30"/><rect x="554" y="661.68" width="49.7" height="2.83" fill="#eea045"/><rect x="554" y="664.01" width="49.7" height="5.15" fill="#D95319"/><rect x="554" y="668.66" width="49.7" height="3.41" fill="#46609a"/><rect x="554" y="671.57" width="49.7" height="9.22" fill="#A2142F"/><rect x="554" y="680.29" width="49.7" height="2.83" fill="#4DBEEE"/><rect x="554" y="682.61" width="49.7" height="10.96" fill="#77AC30"/><rect x="554" y="693.08" width="49.7" height="4.57" fill="#7E2F8E"/><rect x="554" y="697.15" width="49.7" height="2.83" fill="#eea045"/><rect x="554" y="699.47" width="49.7" height="2.83" fill="#D95319"/><rect x="554" y="701.8" width="49.7" height="3.99" fill="#46609a"/><rect x="554" y="705.28" width="49.7" height="11.55" fill="#A2142F"/><rect x="554" y="716.33" width="49.7" height="5.73" fill="#4DBEEE"/><rect x="554" y="721.56" width="49.7" height="16.2" fill="#7E2F8E"/><rect x="554" y="737.26" width="49.7" height="3.99" fill="#D95319"/><rect x="554" y="740.75" width="49.7" height="2.24" fill="#6a3050"/><rect x="554" y="742.49" width="49.7" height="8.64" fill="#0072BD"/><rect x="554" y="750.63" width="49.7" height="4.57" fill="#A2142F"/><rect x="554" y="754.7" width="49.7" height="7.48" fill="#4DBEEE"/><rect x="554" y="761.68" width="49.7" height="8.64" fill="#77AC30"/><rect x="554" y="769.82" width="49.7" height="2.83" fill="#A2142F"/><rect x="554" y="772.14" width="49.7" height="7.48" fill="#EDB120"/><rect x="554" y="779.12" width="49.7" height="21.08" fill="#0072BD"/><rect x="603.2" y="572.15" width="49.7" height="3.41" fill="#eea045"/><rect x="603.2" y="575.06" width="49.7" height="2.83" fill="#2a7f7a"/><rect x="603.2" y="577.38" width="49.7" height="2.83" fill="#77AC30"/><rect x="603.2" y="579.71" width="49.7" height="2.83" fill="#A2142F"/><rect x="603.2" y="582.03" width="49.7" height="2.83" fill="#eea045"/><rect x="603.2" y="584.36" width="49.7" height="7.48" fill="#D95319"/><rect x="603.2" y="591.34" width="49.7" height="2.83" fill="#A2142F"/><rect x="603.2" y="593.66" width="49.7" height="9.8" fill="#4DBEEE"/><rect x="603.2" y="602.96" width="49.7" height="7.48" fill="#77AC30"/><rect x="603.2" y="609.94" width="49.7" height="3.41" fill="#eea045"/><rect x="603.2" y="612.85" width="49.7" height="14.45" fill="#D95319"/><rect x="603.2" y="626.8" width="49.7" height="31.31" fill="#77AC30"/><rect x="603.2" y="657.61" width="49.7" height="9.22" fill="#7E2F8E"/><rect x="603.2" y="666.33" width="49.7" height="3.41" fill="#D95319"/><rect x="603.2" y="669.24" width="49.7" height="3.41" fill="#0072BD"/><rect x="603.2" y="672.15" width="49.7" height="16.2" fill="#A2142F"/><rect x="603.2" y="687.84" width="49.7" height="5.15" fill="#b8a052"/><rect x="603.2" y="692.49" width="49.7" height="3.41" fill="#46609a"/><rect x="603.2" y="695.4" width="49.7" height="9.8" fill="#A2142F"/><rect x="603.2" y="704.7" width="49.7" height="5.73" fill="#77AC30"/><rect x="603.2" y="709.94" width="49.7" height="2.24" fill="#A2142F"/><rect x="603.2" y="711.68" width="49.7" height="3.41" fill="#eea045"/><rect x="603.2" y="714.59" width="49.7" height="5.15" fill="#0072BD"/><rect x="603.2" y="719.24" width="49.7" height="9.22" fill="#A2142F"/><rect x="603.2" y="727.96" width="49.7" height="16.78" fill="#7E2F8E"/><rect x="603.2" y="744.24" width="49.7" height="9.8" fill="#0072BD"/><rect x="603.2" y="753.54" width="49.7" height="2.83" fill="#A2142F"/><rect x="603.2" y="755.86" width="49.7" height="5.73" fill="#4DBEEE"/><rect x="603.2" y="761.1" width="49.7" height="9.22" fill="#77AC30"/><rect x="603.2" y="769.82" width="49.7" height="8.64" fill="#EDB120"/><rect x="603.2" y="777.96" width="49.7" height="22.24" fill="#0072BD"/><rect x="652.4" y="572.15" width="49.7" height="2.83" fill="#A2142F"/><rect x="652.4" y="574.48" width="49.7" height="2.83" fill="#eea045"/><rect x="652.4" y="576.8" width="49.7" height="2.24" fill="#2a7f7a"/><rect x="652.4" y="578.55" width="49.7" height="5.73" fill="#77AC30"/><rect x="652.4" y="583.78" width="49.7" height="2.83" fill="#A2142F"/><rect x="652.4" y="586.1" width="49.7" height="3.41" fill="#eea045"/><rect x="652.4" y="589.01" width="49.7" height="7.48" fill="#D95319"/><rect x="652.4" y="595.99" width="49.7" height="2.83" fill="#A2142F"/><rect x="652.4" y="598.31" width="49.7" height="8.06" fill="#4DBEEE"/><rect x="652.4" y="605.87" width="49.7" height="6.9" fill="#77AC30"/><rect x="652.4" y="612.26" width="49.7" height="3.41" fill="#EDB120"/><rect x="652.4" y="615.17" width="49.7" height="13.87" fill="#D95319"/><rect x="652.4" y="628.54" width="49.7" height="23.17" fill="#77AC30"/><rect x="652.4" y="651.22" width="49.7" height="6.31" fill="#7E2F8E"/><rect x="652.4" y="657.03" width="49.7" height="5.73" fill="#D95319"/><rect x="652.4" y="662.26" width="49.7" height="5.73" fill="#0072BD"/><rect x="652.4" y="667.5" width="49.7" height="13.87" fill="#A2142F"/><rect x="652.4" y="680.87" width="49.7" height="5.15" fill="#b8a052"/><rect x="652.4" y="685.52" width="49.7" height="3.41" fill="#46609a"/><rect x="652.4" y="688.42" width="49.7" height="9.22" fill="#A2142F"/><rect x="652.4" y="697.15" width="49.7" height="6.31" fill="#77AC30"/><rect x="652.4" y="702.96" width="49.7" height="1.66" fill="#A2142F"/><rect x="652.4" y="704.12" width="49.7" height="3.41" fill="#eea045"/><rect x="652.4" y="707.03" width="49.7" height="5.15" fill="#0072BD"/><rect x="652.4" y="711.68" width="49.7" height="8.06" fill="#A2142F"/><rect x="652.4" y="719.24" width="49.7" height="13.87" fill="#7E2F8E"/><rect x="652.4" y="732.61" width="49.7" height="3.41" fill="#eea045"/><rect x="652.4" y="735.52" width="49.7" height="9.8" fill="#0072BD"/><rect x="652.4" y="744.82" width="49.7" height="5.15" fill="#A2142F"/><rect x="652.4" y="749.47" width="49.7" height="7.48" fill="#4DBEEE"/><rect x="652.4" y="756.45" width="49.7" height="7.48" fill="#77AC30"/><rect x="652.4" y="763.42" width="49.7" height="2.83" fill="#A2142F"/><rect x="652.4" y="765.75" width="49.7" height="8.06" fill="#EDB120"/><rect x="652.4" y="773.31" width="49.7" height="26.89" fill="#0072BD"/><rect x="701.6" y="572.15" width="49.7" height="2.83" fill="#eea045"/><rect x="701.6" y="574.48" width="49.7" height="2.83" fill="#2a7f7a"/><rect x="701.6" y="576.8" width="49.7" height="3.41" fill="#77AC30"/><rect x="701.6" y="579.71" width="49.7" height="2.24" fill="#A2142F"/><rect x="701.6" y="581.45" width="49.7" height="3.99" fill="#eea045"/><rect x="701.6" y="584.94" width="49.7" height="6.31" fill="#D95319"/><rect x="701.6" y="590.75" width="49.7" height="10.96" fill="#4DBEEE"/><rect x="701.6" y="601.22" width="49.7" height="9.8" fill="#77AC30"/><rect x="701.6" y="610.52" width="49.7" height="12.13" fill="#D95319"/><rect x="701.6" y="622.15" width="49.7" height="36.55" fill="#77AC30"/><rect x="701.6" y="658.19" width="49.7" height="10.96" fill="#7E2F8E"/><rect x="701.6" y="668.66" width="49.7" height="3.41" fill="#D95319"/><rect x="701.6" y="671.57" width="49.7" height="3.41" fill="#46609a"/><rect x="701.6" y="674.47" width="49.7" height="16.2" fill="#A2142F"/><rect x="701.6" y="690.17" width="49.7" height="5.15" fill="#b8a052"/><rect x="701.6" y="694.82" width="49.7" height="3.41" fill="#46609a"/><rect x="701.6" y="697.73" width="49.7" height="6.9" fill="#A2142F"/><rect x="701.6" y="704.12" width="49.7" height="5.73" fill="#77AC30"/><rect x="701.6" y="709.35" width="49.7" height="2.24" fill="#A2142F"/><rect x="701.6" y="711.1" width="49.7" height="3.99" fill="#eea045"/><rect x="701.6" y="714.59" width="49.7" height="3.41" fill="#46609a"/><rect x="701.6" y="717.49" width="49.7" height="12.71" fill="#A2142F"/><rect x="701.6" y="729.7" width="49.7" height="17.36" fill="#7E2F8E"/><rect x="701.6" y="746.56" width="49.7" height="9.8" fill="#0072BD"/><rect x="701.6" y="755.86" width="49.7" height="2.83" fill="#A2142F"/><rect x="701.6" y="758.19" width="49.7" height="5.73" fill="#4DBEEE"/><rect x="701.6" y="763.42" width="49.7" height="9.22" fill="#77AC30"/><rect x="701.6" y="772.14" width="49.7" height="8.64" fill="#EDB120"/><rect x="701.6" y="780.28" width="49.7" height="19.92" fill="#0072BD"/></g><rect x="554.6" y="572.75" width="195.6" height="226.35" fill="none" stroke="#0d1b2a" stroke-width="1.3"/>
<g shape-rendering="crispEdges"><rect x="811.5" y="572.15" width="49.7" height="5.73" fill="#46609a"/><rect x="811.5" y="577.38" width="49.7" height="2.24" fill="#4DBEEE"/><rect x="811.5" y="579.13" width="49.7" height="3.41" fill="#EDB120"/><rect x="811.5" y="582.03" width="49.7" height="2.83" fill="#2a7f7a"/><rect x="811.5" y="584.36" width="49.7" height="5.73" fill="#77AC30"/><rect x="811.5" y="589.59" width="49.7" height="2.59" fill="#A2142F"/><rect x="811.5" y="591.68" width="49.7" height="3.06" fill="#eea045"/><rect x="811.5" y="594.24" width="49.7" height="4.57" fill="#D95319"/><rect x="811.5" y="598.31" width="49.7" height="2.24" fill="#A2142F"/><rect x="811.5" y="600.06" width="49.7" height="5.15" fill="#4DBEEE"/><rect x="811.5" y="604.71" width="49.7" height="2.24" fill="#2a7f7a"/><rect x="811.5" y="606.45" width="49.7" height="7.48" fill="#D95319"/><rect x="811.5" y="613.43" width="49.7" height="1.66" fill="#A2142F"/><rect x="811.5" y="614.59" width="49.7" height="11.55" fill="#77AC30"/><rect x="811.5" y="625.64" width="49.7" height="2.59" fill="#6a3050"/><rect x="811.5" y="627.73" width="49.7" height="3.06" fill="#D95319"/><rect x="811.5" y="630.29" width="49.7" height="5.15" fill="#0072BD"/><rect x="811.5" y="634.94" width="49.7" height="19.1" fill="#A2142F"/><rect x="811.5" y="653.54" width="49.7" height="2.24" fill="#4DBEEE"/><rect x="811.5" y="655.29" width="49.7" height="6.9" fill="#77AC30"/><rect x="811.5" y="661.68" width="49.7" height="2.83" fill="#eea045"/><rect x="811.5" y="664.01" width="49.7" height="5.15" fill="#D95319"/><rect x="811.5" y="668.66" width="49.7" height="3.41" fill="#46609a"/><rect x="811.5" y="671.57" width="49.7" height="9.22" fill="#A2142F"/><rect x="811.5" y="680.29" width="49.7" height="2.83" fill="#4DBEEE"/><rect x="811.5" y="682.61" width="49.7" height="10.96" fill="#77AC30"/><rect x="811.5" y="693.08" width="49.7" height="4.57" fill="#7E2F8E"/><rect x="811.5" y="697.15" width="49.7" height="2.83" fill="#eea045"/><rect x="811.5" y="699.47" width="49.7" height="2.83" fill="#D95319"/><rect x="811.5" y="701.8" width="49.7" height="3.99" fill="#46609a"/><rect x="811.5" y="705.28" width="49.7" height="11.55" fill="#A2142F"/><rect x="811.5" y="716.33" width="49.7" height="5.73" fill="#4DBEEE"/><rect x="811.5" y="721.56" width="49.7" height="16.2" fill="#7E2F8E"/><rect x="811.5" y="737.26" width="49.7" height="3.99" fill="#D95319"/><rect x="811.5" y="740.75" width="49.7" height="2.24" fill="#6a3050"/><rect x="811.5" y="742.49" width="49.7" height="8.64" fill="#0072BD"/><rect x="811.5" y="750.63" width="49.7" height="4.57" fill="#A2142F"/><rect x="811.5" y="754.7" width="49.7" height="7.48" fill="#4DBEEE"/><rect x="811.5" y="761.68" width="49.7" height="8.64" fill="#77AC30"/><rect x="811.5" y="769.82" width="49.7" height="2.83" fill="#A2142F"/><rect x="811.5" y="772.14" width="49.7" height="7.48" fill="#EDB120"/><rect x="811.5" y="779.12" width="49.7" height="21.08" fill="#0072BD"/><rect x="860.7" y="572.15" width="49.7" height="3.41" fill="#6a3050"/><rect x="860.7" y="575.06" width="49.7" height="7.48" fill="#4DBEEE"/><rect x="860.7" y="582.03" width="49.7" height="2.83" fill="#A2142F"/><rect x="860.7" y="584.36" width="49.7" height="2.83" fill="#eea045"/><rect x="860.7" y="586.68" width="49.7" height="2.83" fill="#2a7f7a"/><rect x="860.7" y="589.01" width="49.7" height="8.06" fill="#77AC30"/><rect x="860.7" y="596.57" width="49.7" height="2.83" fill="#A2142F"/><rect x="860.7" y="598.89" width="49.7" height="2.83" fill="#eea045"/><rect x="860.7" y="601.22" width="49.7" height="7.48" fill="#D95319"/><rect x="860.7" y="608.2" width="49.7" height="2.83" fill="#A2142F"/><rect x="860.7" y="610.52" width="49.7" height="9.8" fill="#4DBEEE"/><rect x="860.7" y="619.82" width="49.7" height="10.38" fill="#77AC30"/><rect x="860.7" y="629.71" width="49.7" height="3.41" fill="#EDB120"/><rect x="860.7" y="632.61" width="49.7" height="16.78" fill="#D95319"/><rect x="860.7" y="648.89" width="49.7" height="26.66" fill="#77AC30"/><rect x="860.7" y="675.05" width="49.7" height="9.8" fill="#7E2F8E"/><rect x="860.7" y="684.36" width="49.7" height="5.73" fill="#D95319"/><rect x="860.7" y="689.59" width="49.7" height="5.15" fill="#0072BD"/><rect x="860.7" y="694.24" width="49.7" height="11.55" fill="#A2142F"/><rect x="860.7" y="705.28" width="49.7" height="4.57" fill="#b8a052"/><rect x="860.7" y="709.35" width="49.7" height="4.57" fill="#46609a"/><rect x="860.7" y="713.42" width="49.7" height="6.9" fill="#A2142F"/><rect x="860.7" y="719.82" width="49.7" height="5.15" fill="#77AC30"/><rect x="860.7" y="724.47" width="49.7" height="3.41" fill="#A2142F"/><rect x="860.7" y="727.38" width="49.7" height="2.83" fill="#eea045"/><rect x="860.7" y="729.7" width="49.7" height="3.99" fill="#2a7f7a"/><rect x="860.7" y="733.19" width="49.7" height="4.57" fill="#A2142F"/><rect x="860.7" y="737.26" width="49.7" height="12.71" fill="#7E2F8E"/><rect x="860.7" y="749.47" width="49.7" height="6.9" fill="#0072BD"/><rect x="860.7" y="755.86" width="49.7" height="2.83" fill="#A2142F"/><rect x="860.7" y="758.19" width="49.7" height="5.15" fill="#4DBEEE"/><rect x="860.7" y="762.84" width="49.7" height="7.48" fill="#77AC30"/><rect x="860.7" y="769.82" width="49.7" height="5.73" fill="#EDB120"/><rect x="860.7" y="775.05" width="49.7" height="25.15" fill="#0072BD"/><rect x="909.9" y="572.15" width="49.7" height="3.41" fill="#6a3050"/><rect x="909.9" y="575.06" width="49.7" height="8.06" fill="#4DBEEE"/><rect x="909.9" y="582.61" width="49.7" height="2.83" fill="#b8a052"/><rect x="909.9" y="584.94" width="49.7" height="2.83" fill="#2a7f7a"/><rect x="909.9" y="587.27" width="49.7" height="8.06" fill="#77AC30"/><rect x="909.9" y="594.82" width="49.7" height="2.83" fill="#A2142F"/><rect x="909.9" y="597.15" width="49.7" height="3.41" fill="#eea045"/><rect x="909.9" y="600.06" width="49.7" height="5.73" fill="#D95319"/><rect x="909.9" y="605.29" width="49.7" height="2.24" fill="#A2142F"/><rect x="909.9" y="607.03" width="49.7" height="13.29" fill="#4DBEEE"/><rect x="909.9" y="619.82" width="49.7" height="10.38" fill="#77AC30"/><rect x="909.9" y="629.71" width="49.7" height="2.83" fill="#EDB120"/><rect x="909.9" y="632.03" width="49.7" height="17.94" fill="#D95319"/><rect x="909.9" y="649.47" width="49.7" height="35.96" fill="#77AC30"/><rect x="909.9" y="684.94" width="49.7" height="12.71" fill="#7E2F8E"/><rect x="909.9" y="697.15" width="49.7" height="4.57" fill="#D95319"/><rect x="909.9" y="701.22" width="49.7" height="3.99" fill="#46609a"/><rect x="909.9" y="704.7" width="49.7" height="12.71" fill="#A2142F"/><rect x="909.9" y="716.91" width="49.7" height="3.41" fill="#b8a052"/><rect x="909.9" y="719.82" width="49.7" height="2.24" fill="#D95319"/><rect x="909.9" y="721.56" width="49.7" height="8.06" fill="#A2142F"/><rect x="909.9" y="729.12" width="49.7" height="2.83" fill="#77AC30"/><rect x="909.9" y="731.45" width="49.7" height="3.41" fill="#2a7f7a"/><rect x="909.9" y="734.35" width="49.7" height="3.41" fill="#A2142F"/><rect x="909.9" y="737.26" width="49.7" height="14.45" fill="#7E2F8E"/><rect x="909.9" y="751.21" width="49.7" height="8.64" fill="#0072BD"/><rect x="909.9" y="759.35" width="49.7" height="2.83" fill="#A2142F"/><rect x="909.9" y="761.68" width="49.7" height="6.31" fill="#4DBEEE"/><rect x="909.9" y="767.49" width="49.7" height="7.48" fill="#77AC30"/><rect x="909.9" y="774.47" width="49.7" height="5.73" fill="#EDB120"/><rect x="909.9" y="779.7" width="49.7" height="20.5" fill="#0072BD"/><rect x="959.1" y="572.15" width="49.7" height="3.41" fill="#6a3050"/><rect x="959.1" y="575.06" width="49.7" height="9.22" fill="#4DBEEE"/><rect x="959.1" y="583.78" width="49.7" height="3.99" fill="#b8a052"/><rect x="959.1" y="587.27" width="49.7" height="2.83" fill="#2a7f7a"/><rect x="959.1" y="589.59" width="49.7" height="7.48" fill="#77AC30"/><rect x="959.1" y="596.57" width="49.7" height="2.83" fill="#A2142F"/><rect x="959.1" y="598.89" width="49.7" height="2.83" fill="#eea045"/><rect x="959.1" y="601.22" width="49.7" height="6.31" fill="#D95319"/><rect x="959.1" y="607.03" width="49.7" height="2.83" fill="#A2142F"/><rect x="959.1" y="609.36" width="49.7" height="12.71" fill="#4DBEEE"/><rect x="959.1" y="621.57" width="49.7" height="9.8" fill="#77AC30"/><rect x="959.1" y="630.87" width="49.7" height="3.41" fill="#EDB120"/><rect x="959.1" y="633.78" width="49.7" height="16.78" fill="#D95319"/><rect x="959.1" y="650.05" width="49.7" height="40.03" fill="#77AC30"/><rect x="959.1" y="689.59" width="49.7" height="12.13" fill="#7E2F8E"/><rect x="959.1" y="701.22" width="49.7" height="5.15" fill="#D95319"/><rect x="959.1" y="705.87" width="49.7" height="4.57" fill="#46609a"/><rect x="959.1" y="709.94" width="49.7" height="11.55" fill="#A2142F"/><rect x="959.1" y="720.98" width="49.7" height="3.41" fill="#b8a052"/><rect x="959.1" y="723.89" width="49.7" height="2.83" fill="#D95319"/><rect x="959.1" y="726.21" width="49.7" height="4.57" fill="#A2142F"/><rect x="959.1" y="730.28" width="49.7" height="2.83" fill="#b8a052"/><rect x="959.1" y="732.61" width="49.7" height="3.99" fill="#2a7f7a"/><rect x="959.1" y="736.1" width="49.7" height="7.48" fill="#A2142F"/><rect x="959.1" y="743.07" width="49.7" height="13.29" fill="#7E2F8E"/><rect x="959.1" y="755.86" width="49.7" height="7.48" fill="#0072BD"/><rect x="959.1" y="762.84" width="49.7" height="2.83" fill="#A2142F"/><rect x="959.1" y="765.17" width="49.7" height="5.15" fill="#4DBEEE"/><rect x="959.1" y="769.82" width="49.7" height="7.48" fill="#77AC30"/><rect x="959.1" y="776.79" width="49.7" height="5.15" fill="#EDB120"/><rect x="959.1" y="781.44" width="49.7" height="18.76" fill="#0072BD"/></g><rect x="812.1" y="572.75" width="195.6" height="226.35" fill="none" stroke="#0d1b2a" stroke-width="1.3"/>
<g shape-rendering="crispEdges"><rect x="1071.1" y="572.15" width="49.7" height="5.73" fill="#46609a"/><rect x="1071.1" y="577.38" width="49.7" height="2.24" fill="#4DBEEE"/><rect x="1071.1" y="579.13" width="49.7" height="3.41" fill="#EDB120"/><rect x="1071.1" y="582.03" width="49.7" height="2.83" fill="#2a7f7a"/><rect x="1071.1" y="584.36" width="49.7" height="5.73" fill="#77AC30"/><rect x="1071.1" y="589.59" width="49.7" height="2.59" fill="#A2142F"/><rect x="1071.1" y="591.68" width="49.7" height="3.06" fill="#eea045"/><rect x="1071.1" y="594.24" width="49.7" height="4.57" fill="#D95319"/><rect x="1071.1" y="598.31" width="49.7" height="2.24" fill="#A2142F"/><rect x="1071.1" y="600.06" width="49.7" height="5.15" fill="#4DBEEE"/><rect x="1071.1" y="604.71" width="49.7" height="2.24" fill="#2a7f7a"/><rect x="1071.1" y="606.45" width="49.7" height="7.48" fill="#D95319"/><rect x="1071.1" y="613.43" width="49.7" height="1.66" fill="#A2142F"/><rect x="1071.1" y="614.59" width="49.7" height="11.55" fill="#77AC30"/><rect x="1071.1" y="625.64" width="49.7" height="2.59" fill="#6a3050"/><rect x="1071.1" y="627.73" width="49.7" height="3.06" fill="#D95319"/><rect x="1071.1" y="630.29" width="49.7" height="5.15" fill="#0072BD"/><rect x="1071.1" y="634.94" width="49.7" height="19.1" fill="#A2142F"/><rect x="1071.1" y="653.54" width="49.7" height="2.24" fill="#4DBEEE"/><rect x="1071.1" y="655.29" width="49.7" height="6.9" fill="#77AC30"/><rect x="1071.1" y="661.68" width="49.7" height="2.83" fill="#eea045"/><rect x="1071.1" y="664.01" width="49.7" height="5.15" fill="#D95319"/><rect x="1071.1" y="668.66" width="49.7" height="3.41" fill="#46609a"/><rect x="1071.1" y="671.57" width="49.7" height="9.22" fill="#A2142F"/><rect x="1071.1" y="680.29" width="49.7" height="2.83" fill="#4DBEEE"/><rect x="1071.1" y="682.61" width="49.7" height="10.96" fill="#77AC30"/><rect x="1071.1" y="693.08" width="49.7" height="4.57" fill="#7E2F8E"/><rect x="1071.1" y="697.15" width="49.7" height="2.83" fill="#eea045"/><rect x="1071.1" y="699.47" width="49.7" height="2.83" fill="#D95319"/><rect x="1071.1" y="701.8" width="49.7" height="3.99" fill="#46609a"/><rect x="1071.1" y="705.28" width="49.7" height="11.55" fill="#A2142F"/><rect x="1071.1" y="716.33" width="49.7" height="5.73" fill="#4DBEEE"/><rect x="1071.1" y="721.56" width="49.7" height="16.2" fill="#7E2F8E"/><rect x="1071.1" y="737.26" width="49.7" height="3.99" fill="#D95319"/><rect x="1071.1" y="740.75" width="49.7" height="2.24" fill="#6a3050"/><rect x="1071.1" y="742.49" width="49.7" height="8.64" fill="#0072BD"/><rect x="1071.1" y="750.63" width="49.7" height="4.57" fill="#A2142F"/><rect x="1071.1" y="754.7" width="49.7" height="7.48" fill="#4DBEEE"/><rect x="1071.1" y="761.68" width="49.7" height="8.64" fill="#77AC30"/><rect x="1071.1" y="769.82" width="49.7" height="2.83" fill="#A2142F"/><rect x="1071.1" y="772.14" width="49.7" height="7.48" fill="#EDB120"/><rect x="1071.1" y="779.12" width="49.7" height="21.08" fill="#0072BD"/><rect x="1120.3" y="572.15" width="49.7" height="2.83" fill="#A2142F"/><rect x="1120.3" y="574.48" width="49.7" height="2.83" fill="#eea045"/><rect x="1120.3" y="576.8" width="49.7" height="2.83" fill="#2a7f7a"/><rect x="1120.3" y="579.13" width="49.7" height="5.15" fill="#77AC30"/><rect x="1120.3" y="583.78" width="49.7" height="2.59" fill="#A2142F"/><rect x="1120.3" y="585.87" width="49.7" height="3.64" fill="#eea045"/><rect x="1120.3" y="589.01" width="49.7" height="10.38" fill="#D95319"/><rect x="1120.3" y="598.89" width="49.7" height="2.24" fill="#A2142F"/><rect x="1120.3" y="600.64" width="49.7" height="9.22" fill="#4DBEEE"/><rect x="1120.3" y="609.36" width="49.7" height="8.06" fill="#77AC30"/><rect x="1120.3" y="616.92" width="49.7" height="3.41" fill="#EDB120"/><rect x="1120.3" y="619.82" width="49.7" height="13.87" fill="#D95319"/><rect x="1120.3" y="633.19" width="49.7" height="21.43" fill="#77AC30"/><rect x="1120.3" y="654.12" width="49.7" height="7.48" fill="#7E2F8E"/><rect x="1120.3" y="661.1" width="49.7" height="5.15" fill="#D95319"/><rect x="1120.3" y="665.75" width="49.7" height="5.15" fill="#0072BD"/><rect x="1120.3" y="670.4" width="49.7" height="14.45" fill="#A2142F"/><rect x="1120.3" y="684.36" width="49.7" height="3.41" fill="#b8a052"/><rect x="1120.3" y="687.26" width="49.7" height="5.15" fill="#46609a"/><rect x="1120.3" y="691.91" width="49.7" height="8.64" fill="#A2142F"/><rect x="1120.3" y="700.05" width="49.7" height="6.31" fill="#77AC30"/><rect x="1120.3" y="705.87" width="49.7" height="2.24" fill="#A2142F"/><rect x="1120.3" y="707.61" width="49.7" height="2.83" fill="#eea045"/><rect x="1120.3" y="709.94" width="49.7" height="5.15" fill="#0072BD"/><rect x="1120.3" y="714.59" width="49.7" height="5.15" fill="#A2142F"/><rect x="1120.3" y="719.24" width="49.7" height="14.45" fill="#7E2F8E"/><rect x="1120.3" y="733.19" width="49.7" height="10.38" fill="#0072BD"/><rect x="1120.3" y="743.07" width="49.7" height="4.57" fill="#A2142F"/><rect x="1120.3" y="747.14" width="49.7" height="8.06" fill="#4DBEEE"/><rect x="1120.3" y="754.7" width="49.7" height="6.9" fill="#77AC30"/><rect x="1120.3" y="761.1" width="49.7" height="2.83" fill="#A2142F"/><rect x="1120.3" y="763.42" width="49.7" height="8.06" fill="#EDB120"/><rect x="1120.3" y="770.98" width="49.7" height="29.22" fill="#0072BD"/><rect x="1169.5" y="572.15" width="49.7" height="2.24" fill="#eea045"/><rect x="1169.5" y="573.89" width="49.7" height="3.41" fill="#2a7f7a"/><rect x="1169.5" y="576.8" width="49.7" height="3.99" fill="#77AC30"/><rect x="1169.5" y="580.29" width="49.7" height="2.24" fill="#A2142F"/><rect x="1169.5" y="582.03" width="49.7" height="3.41" fill="#eea045"/><rect x="1169.5" y="584.94" width="49.7" height="8.06" fill="#D95319"/><rect x="1169.5" y="592.5" width="49.7" height="2.24" fill="#A2142F"/><rect x="1169.5" y="594.24" width="49.7" height="9.22" fill="#4DBEEE"/><rect x="1169.5" y="602.96" width="49.7" height="8.64" fill="#77AC30"/><rect x="1169.5" y="611.1" width="49.7" height="2.83" fill="#EDB120"/><rect x="1169.5" y="613.43" width="49.7" height="14.45" fill="#D95319"/><rect x="1169.5" y="627.38" width="49.7" height="31.31" fill="#77AC30"/><rect x="1169.5" y="658.19" width="49.7" height="9.22" fill="#7E2F8E"/><rect x="1169.5" y="666.91" width="49.7" height="2.83" fill="#D95319"/><rect x="1169.5" y="669.24" width="49.7" height="5.73" fill="#0072BD"/><rect x="1169.5" y="674.47" width="49.7" height="14.45" fill="#A2142F"/><rect x="1169.5" y="688.42" width="49.7" height="5.15" fill="#b8a052"/><rect x="1169.5" y="693.08" width="49.7" height="2.83" fill="#46609a"/><rect x="1169.5" y="695.4" width="49.7" height="9.8" fill="#A2142F"/><rect x="1169.5" y="704.7" width="49.7" height="5.73" fill="#77AC30"/><rect x="1169.5" y="709.94" width="49.7" height="2.24" fill="#A2142F"/><rect x="1169.5" y="711.68" width="49.7" height="3.41" fill="#eea045"/><rect x="1169.5" y="714.59" width="49.7" height="5.15" fill="#0072BD"/><rect x="1169.5" y="719.24" width="49.7" height="7.48" fill="#A2142F"/><rect x="1169.5" y="726.21" width="49.7" height="16.2" fill="#7E2F8E"/><rect x="1169.5" y="741.91" width="49.7" height="10.38" fill="#0072BD"/><rect x="1169.5" y="751.79" width="49.7" height="5.15" fill="#A2142F"/><rect x="1169.5" y="756.45" width="49.7" height="5.73" fill="#4DBEEE"/><rect x="1169.5" y="761.68" width="49.7" height="10.38" fill="#77AC30"/><rect x="1169.5" y="771.56" width="49.7" height="7.48" fill="#EDB120"/><rect x="1169.5" y="778.54" width="49.7" height="21.66" fill="#0072BD"/><rect x="1218.7" y="572.15" width="49.7" height="3.41" fill="#eea045"/><rect x="1218.7" y="575.06" width="49.7" height="2.83" fill="#2a7f7a"/><rect x="1218.7" y="577.38" width="49.7" height="3.41" fill="#77AC30"/><rect x="1218.7" y="580.29" width="49.7" height="2.24" fill="#A2142F"/><rect x="1218.7" y="582.03" width="49.7" height="3.41" fill="#eea045"/><rect x="1218.7" y="584.94" width="49.7" height="8.06" fill="#D95319"/><rect x="1218.7" y="592.5" width="49.7" height="2.24" fill="#A2142F"/><rect x="1218.7" y="594.24" width="49.7" height="9.22" fill="#4DBEEE"/><rect x="1218.7" y="602.96" width="49.7" height="10.38" fill="#77AC30"/><rect x="1218.7" y="612.85" width="49.7" height="2.83" fill="#EDB120"/><rect x="1218.7" y="615.17" width="49.7" height="14.45" fill="#D95319"/><rect x="1218.7" y="629.12" width="49.7" height="38.29" fill="#77AC30"/><rect x="1218.7" y="666.91" width="49.7" height="9.8" fill="#7E2F8E"/><rect x="1218.7" y="676.22" width="49.7" height="2.83" fill="#D95319"/><rect x="1218.7" y="678.54" width="49.7" height="3.99" fill="#46609a"/><rect x="1218.7" y="682.03" width="49.7" height="13.29" fill="#A2142F"/><rect x="1218.7" y="694.82" width="49.7" height="3.99" fill="#b8a052"/><rect x="1218.7" y="698.31" width="49.7" height="5.15" fill="#46609a"/><rect x="1218.7" y="702.96" width="49.7" height="6.9" fill="#A2142F"/><rect x="1218.7" y="709.35" width="49.7" height="5.15" fill="#77AC30"/><rect x="1218.7" y="714.01" width="49.7" height="5.15" fill="#46609a"/><rect x="1218.7" y="718.66" width="49.7" height="9.8" fill="#A2142F"/><rect x="1218.7" y="727.96" width="49.7" height="17.94" fill="#7E2F8E"/><rect x="1218.7" y="745.4" width="49.7" height="9.22" fill="#0072BD"/><rect x="1218.7" y="754.12" width="49.7" height="5.15" fill="#A2142F"/><rect x="1218.7" y="758.77" width="49.7" height="5.15" fill="#4DBEEE"/><rect x="1218.7" y="763.42" width="49.7" height="10.38" fill="#77AC30"/><rect x="1218.7" y="773.31" width="49.7" height="7.48" fill="#EDB120"/><rect x="1218.7" y="780.28" width="49.7" height="19.92" fill="#0072BD"/></g><rect x="1071.7" y="572.75" width="195.6" height="226.35" fill="none" stroke="#0d1b2a" stroke-width="1.3"/>
<g shape-rendering="crispEdges"><rect x="1328.3" y="572.15" width="49.7" height="5.73" fill="#46609a"/><rect x="1328.3" y="577.38" width="49.7" height="2.24" fill="#4DBEEE"/><rect x="1328.3" y="579.13" width="49.7" height="3.41" fill="#EDB120"/><rect x="1328.3" y="582.03" width="49.7" height="2.83" fill="#2a7f7a"/><rect x="1328.3" y="584.36" width="49.7" height="5.73" fill="#77AC30"/><rect x="1328.3" y="589.59" width="49.7" height="2.59" fill="#A2142F"/><rect x="1328.3" y="591.68" width="49.7" height="3.06" fill="#eea045"/><rect x="1328.3" y="594.24" width="49.7" height="4.57" fill="#D95319"/><rect x="1328.3" y="598.31" width="49.7" height="2.24" fill="#A2142F"/><rect x="1328.3" y="600.06" width="49.7" height="5.15" fill="#4DBEEE"/><rect x="1328.3" y="604.71" width="49.7" height="2.24" fill="#2a7f7a"/><rect x="1328.3" y="606.45" width="49.7" height="7.48" fill="#D95319"/><rect x="1328.3" y="613.43" width="49.7" height="1.66" fill="#A2142F"/><rect x="1328.3" y="614.59" width="49.7" height="11.55" fill="#77AC30"/><rect x="1328.3" y="625.64" width="49.7" height="2.59" fill="#6a3050"/><rect x="1328.3" y="627.73" width="49.7" height="3.06" fill="#D95319"/><rect x="1328.3" y="630.29" width="49.7" height="5.15" fill="#0072BD"/><rect x="1328.3" y="634.94" width="49.7" height="19.1" fill="#A2142F"/><rect x="1328.3" y="653.54" width="49.7" height="2.24" fill="#4DBEEE"/><rect x="1328.3" y="655.29" width="49.7" height="6.9" fill="#77AC30"/><rect x="1328.3" y="661.68" width="49.7" height="2.83" fill="#eea045"/><rect x="1328.3" y="664.01" width="49.7" height="5.15" fill="#D95319"/><rect x="1328.3" y="668.66" width="49.7" height="3.41" fill="#46609a"/><rect x="1328.3" y="671.57" width="49.7" height="9.22" fill="#A2142F"/><rect x="1328.3" y="680.29" width="49.7" height="2.83" fill="#4DBEEE"/><rect x="1328.3" y="682.61" width="49.7" height="10.96" fill="#77AC30"/><rect x="1328.3" y="693.08" width="49.7" height="4.57" fill="#7E2F8E"/><rect x="1328.3" y="697.15" width="49.7" height="2.83" fill="#eea045"/><rect x="1328.3" y="699.47" width="49.7" height="2.83" fill="#D95319"/><rect x="1328.3" y="701.8" width="49.7" height="3.99" fill="#46609a"/><rect x="1328.3" y="705.28" width="49.7" height="11.55" fill="#A2142F"/><rect x="1328.3" y="716.33" width="49.7" height="5.73" fill="#4DBEEE"/><rect x="1328.3" y="721.56" width="49.7" height="16.2" fill="#7E2F8E"/><rect x="1328.3" y="737.26" width="49.7" height="3.99" fill="#D95319"/><rect x="1328.3" y="740.75" width="49.7" height="2.24" fill="#6a3050"/><rect x="1328.3" y="742.49" width="49.7" height="8.64" fill="#0072BD"/><rect x="1328.3" y="750.63" width="49.7" height="4.57" fill="#A2142F"/><rect x="1328.3" y="754.7" width="49.7" height="7.48" fill="#4DBEEE"/><rect x="1328.3" y="761.68" width="49.7" height="8.64" fill="#77AC30"/><rect x="1328.3" y="769.82" width="49.7" height="2.83" fill="#A2142F"/><rect x="1328.3" y="772.14" width="49.7" height="7.48" fill="#EDB120"/><rect x="1328.3" y="779.12" width="49.7" height="21.08" fill="#0072BD"/><rect x="1377.5" y="572.15" width="49.7" height="2.83" fill="#b8a052"/><rect x="1377.5" y="574.48" width="49.7" height="2.83" fill="#2a7f7a"/><rect x="1377.5" y="576.8" width="49.7" height="3.41" fill="#77AC30"/><rect x="1377.5" y="579.71" width="49.7" height="2.83" fill="#A2142F"/><rect x="1377.5" y="582.03" width="49.7" height="2.83" fill="#eea045"/><rect x="1377.5" y="584.36" width="49.7" height="7.48" fill="#D95319"/><rect x="1377.5" y="591.34" width="49.7" height="2.83" fill="#A2142F"/><rect x="1377.5" y="593.66" width="49.7" height="5.15" fill="#4DBEEE"/><rect x="1377.5" y="598.31" width="49.7" height="12.13" fill="#77AC30"/><rect x="1377.5" y="609.94" width="49.7" height="2.83" fill="#A2142F"/><rect x="1377.5" y="612.26" width="49.7" height="3.41" fill="#eea045"/><rect x="1377.5" y="615.17" width="49.7" height="17.94" fill="#D95319"/><rect x="1377.5" y="632.61" width="49.7" height="31.89" fill="#77AC30"/><rect x="1377.5" y="664.01" width="49.7" height="11.55" fill="#7E2F8E"/><rect x="1377.5" y="675.05" width="49.7" height="5.15" fill="#D95319"/><rect x="1377.5" y="679.7" width="49.7" height="8.06" fill="#0072BD"/><rect x="1377.5" y="687.26" width="49.7" height="19.1" fill="#A2142F"/><rect x="1377.5" y="705.87" width="49.7" height="2.83" fill="#4DBEEE"/><rect x="1377.5" y="708.19" width="49.7" height="5.15" fill="#77AC30"/><rect x="1377.5" y="712.84" width="49.7" height="2.83" fill="#EDB120"/><rect x="1377.5" y="715.17" width="49.7" height="5.15" fill="#D95319"/><rect x="1377.5" y="719.82" width="49.7" height="3.41" fill="#46609a"/><rect x="1377.5" y="722.73" width="49.7" height="4.57" fill="#A2142F"/><rect x="1377.5" y="726.8" width="49.7" height="5.73" fill="#77AC30"/><rect x="1377.5" y="732.03" width="49.7" height="2.24" fill="#EDB120"/><rect x="1377.5" y="733.77" width="49.7" height="3.99" fill="#2a7f7a"/><rect x="1377.5" y="737.26" width="49.7" height="3.99" fill="#A2142F"/><rect x="1377.5" y="740.75" width="49.7" height="9.22" fill="#7E2F8E"/><rect x="1377.5" y="749.47" width="49.7" height="8.06" fill="#0072BD"/><rect x="1377.5" y="757.03" width="49.7" height="2.83" fill="#A2142F"/><rect x="1377.5" y="759.35" width="49.7" height="4.57" fill="#4DBEEE"/><rect x="1377.5" y="763.42" width="49.7" height="5.73" fill="#77AC30"/><rect x="1377.5" y="768.65" width="49.7" height="5.15" fill="#EDB120"/><rect x="1377.5" y="773.31" width="49.7" height="26.89" fill="#0072BD"/><rect x="1426.7" y="572.15" width="49.7" height="2.83" fill="#2a7f7a"/><rect x="1426.7" y="574.48" width="49.7" height="3.41" fill="#77AC30"/><rect x="1426.7" y="577.38" width="49.7" height="2.83" fill="#A2142F"/><rect x="1426.7" y="579.71" width="49.7" height="3.41" fill="#eea045"/><rect x="1426.7" y="582.61" width="49.7" height="4.57" fill="#D95319"/><rect x="1426.7" y="586.68" width="49.7" height="2.83" fill="#A2142F"/><rect x="1426.7" y="589.01" width="49.7" height="7.48" fill="#4DBEEE"/><rect x="1426.7" y="595.99" width="49.7" height="12.71" fill="#77AC30"/><rect x="1426.7" y="608.2" width="49.7" height="2.24" fill="#A2142F"/><rect x="1426.7" y="609.94" width="49.7" height="2.83" fill="#eea045"/><rect x="1426.7" y="612.26" width="49.7" height="19.1" fill="#D95319"/><rect x="1426.7" y="630.87" width="49.7" height="38.29" fill="#77AC30"/><rect x="1426.7" y="668.66" width="49.7" height="13.29" fill="#7E2F8E"/><rect x="1426.7" y="681.45" width="49.7" height="5.73" fill="#D95319"/><rect x="1426.7" y="686.68" width="49.7" height="5.73" fill="#0072BD"/><rect x="1426.7" y="691.91" width="49.7" height="18.52" fill="#A2142F"/><rect x="1426.7" y="709.94" width="49.7" height="2.83" fill="#4DBEEE"/><rect x="1426.7" y="712.26" width="49.7" height="5.15" fill="#77AC30"/><rect x="1426.7" y="716.91" width="49.7" height="3.41" fill="#EDB120"/><rect x="1426.7" y="719.82" width="49.7" height="3.99" fill="#D95319"/><rect x="1426.7" y="723.31" width="49.7" height="3.99" fill="#46609a"/><rect x="1426.7" y="726.8" width="49.7" height="6.9" fill="#A2142F"/><rect x="1426.7" y="733.19" width="49.7" height="2.83" fill="#77AC30"/><rect x="1426.7" y="735.52" width="49.7" height="3.41" fill="#2a7f7a"/><rect x="1426.7" y="738.42" width="49.7" height="4.57" fill="#A2142F"/><rect x="1426.7" y="742.49" width="49.7" height="13.29" fill="#7E2F8E"/><rect x="1426.7" y="755.28" width="49.7" height="6.9" fill="#0072BD"/><rect x="1426.7" y="761.68" width="49.7" height="2.24" fill="#A2142F"/><rect x="1426.7" y="763.42" width="49.7" height="5.73" fill="#4DBEEE"/><rect x="1426.7" y="768.65" width="49.7" height="6.9" fill="#77AC30"/><rect x="1426.7" y="775.05" width="49.7" height="5.73" fill="#EDB120"/><rect x="1426.7" y="780.28" width="49.7" height="19.92" fill="#0072BD"/><rect x="1475.9" y="572.15" width="49.7" height="2.83" fill="#2a7f7a"/><rect x="1475.9" y="574.48" width="49.7" height="3.99" fill="#77AC30"/><rect x="1475.9" y="577.96" width="49.7" height="2.24" fill="#A2142F"/><rect x="1475.9" y="579.71" width="49.7" height="5.15" fill="#D95319"/><rect x="1475.9" y="584.36" width="49.7" height="2.24" fill="#A2142F"/><rect x="1475.9" y="586.1" width="49.7" height="5.73" fill="#4DBEEE"/><rect x="1475.9" y="591.34" width="49.7" height="14.45" fill="#77AC30"/><rect x="1475.9" y="605.29" width="49.7" height="2.24" fill="#A2142F"/><rect x="1475.9" y="607.03" width="49.7" height="3.41" fill="#eea045"/><rect x="1475.9" y="609.94" width="49.7" height="18.52" fill="#D95319"/><rect x="1475.9" y="627.96" width="49.7" height="44.1" fill="#77AC30"/><rect x="1475.9" y="671.57" width="49.7" height="14.45" fill="#7E2F8E"/><rect x="1475.9" y="685.52" width="49.7" height="5.15" fill="#D95319"/><rect x="1475.9" y="690.17" width="49.7" height="5.73" fill="#0072BD"/><rect x="1475.9" y="695.4" width="49.7" height="20.85" fill="#A2142F"/><rect x="1475.9" y="715.75" width="49.7" height="2.24" fill="#4DBEEE"/><rect x="1475.9" y="717.49" width="49.7" height="6.31" fill="#77AC30"/><rect x="1475.9" y="723.31" width="49.7" height="2.83" fill="#EDB120"/><rect x="1475.9" y="725.63" width="49.7" height="4.57" fill="#D95319"/><rect x="1475.9" y="729.7" width="49.7" height="3.99" fill="#46609a"/><rect x="1475.9" y="733.19" width="49.7" height="3.99" fill="#A2142F"/><rect x="1475.9" y="736.68" width="49.7" height="3.41" fill="#77AC30"/><rect x="1475.9" y="739.59" width="49.7" height="2.83" fill="#2a7f7a"/><rect x="1475.9" y="741.91" width="49.7" height="6.9" fill="#A2142F"/><rect x="1475.9" y="748.31" width="49.7" height="12.13" fill="#7E2F8E"/><rect x="1475.9" y="759.93" width="49.7" height="7.48" fill="#0072BD"/><rect x="1475.9" y="766.91" width="49.7" height="2.24" fill="#A2142F"/><rect x="1475.9" y="768.65" width="49.7" height="3.41" fill="#4DBEEE"/><rect x="1475.9" y="771.56" width="49.7" height="6.9" fill="#77AC30"/><rect x="1475.9" y="777.96" width="49.7" height="5.73" fill="#EDB120"/><rect x="1475.9" y="783.19" width="49.7" height="17.01" fill="#0072BD"/></g><rect x="1328.9" y="572.75" width="195.6" height="226.35" fill="none" stroke="#0d1b2a" stroke-width="1.3"/>
<g shape-rendering="crispEdges"><rect x="1588" y="572.15" width="49.7" height="5.73" fill="#46609a"/><rect x="1588" y="577.38" width="49.7" height="2.24" fill="#4DBEEE"/><rect x="1588" y="579.13" width="49.7" height="3.41" fill="#EDB120"/><rect x="1588" y="582.03" width="49.7" height="2.83" fill="#2a7f7a"/><rect x="1588" y="584.36" width="49.7" height="5.73" fill="#77AC30"/><rect x="1588" y="589.59" width="49.7" height="2.59" fill="#A2142F"/><rect x="1588" y="591.68" width="49.7" height="3.06" fill="#eea045"/><rect x="1588" y="594.24" width="49.7" height="4.57" fill="#D95319"/><rect x="1588" y="598.31" width="49.7" height="2.24" fill="#A2142F"/><rect x="1588" y="600.06" width="49.7" height="5.15" fill="#4DBEEE"/><rect x="1588" y="604.71" width="49.7" height="2.24" fill="#2a7f7a"/><rect x="1588" y="606.45" width="49.7" height="7.48" fill="#D95319"/><rect x="1588" y="613.43" width="49.7" height="1.66" fill="#A2142F"/><rect x="1588" y="614.59" width="49.7" height="11.55" fill="#77AC30"/><rect x="1588" y="625.64" width="49.7" height="2.59" fill="#6a3050"/><rect x="1588" y="627.73" width="49.7" height="3.06" fill="#D95319"/><rect x="1588" y="630.29" width="49.7" height="5.15" fill="#0072BD"/><rect x="1588" y="634.94" width="49.7" height="19.1" fill="#A2142F"/><rect x="1588" y="653.54" width="49.7" height="2.24" fill="#4DBEEE"/><rect x="1588" y="655.29" width="49.7" height="6.9" fill="#77AC30"/><rect x="1588" y="661.68" width="49.7" height="2.83" fill="#eea045"/><rect x="1588" y="664.01" width="49.7" height="5.15" fill="#D95319"/><rect x="1588" y="668.66" width="49.7" height="3.41" fill="#46609a"/><rect x="1588" y="671.57" width="49.7" height="9.22" fill="#A2142F"/><rect x="1588" y="680.29" width="49.7" height="2.83" fill="#4DBEEE"/><rect x="1588" y="682.61" width="49.7" height="10.96" fill="#77AC30"/><rect x="1588" y="693.08" width="49.7" height="4.57" fill="#7E2F8E"/><rect x="1588" y="697.15" width="49.7" height="2.83" fill="#eea045"/><rect x="1588" y="699.47" width="49.7" height="2.83" fill="#D95319"/><rect x="1588" y="701.8" width="49.7" height="3.99" fill="#46609a"/><rect x="1588" y="705.28" width="49.7" height="11.55" fill="#A2142F"/><rect x="1588" y="716.33" width="49.7" height="5.73" fill="#4DBEEE"/><rect x="1588" y="721.56" width="49.7" height="16.2" fill="#7E2F8E"/><rect x="1588" y="737.26" width="49.7" height="3.99" fill="#D95319"/><rect x="1588" y="740.75" width="49.7" height="2.24" fill="#6a3050"/><rect x="1588" y="742.49" width="49.7" height="8.64" fill="#0072BD"/><rect x="1588" y="750.63" width="49.7" height="4.57" fill="#A2142F"/><rect x="1588" y="754.7" width="49.7" height="7.48" fill="#4DBEEE"/><rect x="1588" y="761.68" width="49.7" height="8.64" fill="#77AC30"/><rect x="1588" y="769.82" width="49.7" height="2.83" fill="#A2142F"/><rect x="1588" y="772.14" width="49.7" height="7.48" fill="#EDB120"/><rect x="1588" y="779.12" width="49.7" height="21.08" fill="#0072BD"/><rect x="1637.2" y="572.15" width="49.7" height="2.83" fill="#b8a052"/><rect x="1637.2" y="574.48" width="49.7" height="2.83" fill="#2a7f7a"/><rect x="1637.2" y="576.8" width="49.7" height="5.73" fill="#77AC30"/><rect x="1637.2" y="582.03" width="49.7" height="2.24" fill="#A2142F"/><rect x="1637.2" y="583.78" width="49.7" height="3.41" fill="#eea045"/><rect x="1637.2" y="586.68" width="49.7" height="9.8" fill="#D95319"/><rect x="1637.2" y="595.99" width="49.7" height="2.83" fill="#A2142F"/><rect x="1637.2" y="598.31" width="49.7" height="10.38" fill="#4DBEEE"/><rect x="1637.2" y="608.2" width="49.7" height="6.9" fill="#77AC30"/><rect x="1637.2" y="614.59" width="49.7" height="2.83" fill="#EDB120"/><rect x="1637.2" y="616.92" width="49.7" height="13.87" fill="#D95319"/><rect x="1637.2" y="630.29" width="49.7" height="24.92" fill="#77AC30"/><rect x="1637.2" y="654.71" width="49.7" height="7.48" fill="#7E2F8E"/><rect x="1637.2" y="661.68" width="49.7" height="4.57" fill="#D95319"/><rect x="1637.2" y="665.75" width="49.7" height="5.15" fill="#0072BD"/><rect x="1637.2" y="670.4" width="49.7" height="15.03" fill="#A2142F"/><rect x="1637.2" y="684.94" width="49.7" height="4.57" fill="#b8a052"/><rect x="1637.2" y="689.01" width="49.7" height="3.99" fill="#46609a"/><rect x="1637.2" y="692.49" width="49.7" height="8.64" fill="#A2142F"/><rect x="1637.2" y="700.63" width="49.7" height="5.73" fill="#77AC30"/><rect x="1637.2" y="705.87" width="49.7" height="2.24" fill="#A2142F"/><rect x="1637.2" y="707.61" width="49.7" height="3.41" fill="#eea045"/><rect x="1637.2" y="710.52" width="49.7" height="5.15" fill="#0072BD"/><rect x="1637.2" y="715.17" width="49.7" height="5.15" fill="#A2142F"/><rect x="1637.2" y="719.82" width="49.7" height="14.45" fill="#7E2F8E"/><rect x="1637.2" y="733.77" width="49.7" height="10.38" fill="#0072BD"/><rect x="1637.2" y="743.66" width="49.7" height="4.57" fill="#A2142F"/><rect x="1637.2" y="747.73" width="49.7" height="7.48" fill="#4DBEEE"/><rect x="1637.2" y="754.7" width="49.7" height="7.48" fill="#77AC30"/><rect x="1637.2" y="761.68" width="49.7" height="2.24" fill="#A2142F"/><rect x="1637.2" y="763.42" width="49.7" height="8.06" fill="#EDB120"/><rect x="1637.2" y="770.98" width="49.7" height="29.22" fill="#0072BD"/><rect x="1686.4" y="572.15" width="49.7" height="2.83" fill="#b8a052"/><rect x="1686.4" y="574.48" width="49.7" height="3.41" fill="#2a7f7a"/><rect x="1686.4" y="577.38" width="49.7" height="3.41" fill="#77AC30"/><rect x="1686.4" y="580.29" width="49.7" height="2.24" fill="#A2142F"/><rect x="1686.4" y="582.03" width="49.7" height="3.41" fill="#eea045"/><rect x="1686.4" y="584.94" width="49.7" height="7.48" fill="#D95319"/><rect x="1686.4" y="591.92" width="49.7" height="2.83" fill="#A2142F"/><rect x="1686.4" y="594.24" width="49.7" height="9.8" fill="#4DBEEE"/><rect x="1686.4" y="603.54" width="49.7" height="8.64" fill="#77AC30"/><rect x="1686.4" y="611.68" width="49.7" height="15.03" fill="#D95319"/><rect x="1686.4" y="626.22" width="49.7" height="31.31" fill="#77AC30"/><rect x="1686.4" y="657.03" width="49.7" height="9.8" fill="#7E2F8E"/><rect x="1686.4" y="666.33" width="49.7" height="3.41" fill="#D95319"/><rect x="1686.4" y="669.24" width="49.7" height="3.41" fill="#0072BD"/><rect x="1686.4" y="672.15" width="49.7" height="13.87" fill="#A2142F"/><rect x="1686.4" y="685.52" width="49.7" height="4.57" fill="#b8a052"/><rect x="1686.4" y="689.59" width="49.7" height="3.99" fill="#46609a"/><rect x="1686.4" y="693.08" width="49.7" height="9.22" fill="#A2142F"/><rect x="1686.4" y="701.8" width="49.7" height="6.31" fill="#77AC30"/><rect x="1686.4" y="707.61" width="49.7" height="2.24" fill="#A2142F"/><rect x="1686.4" y="709.35" width="49.7" height="3.41" fill="#eea045"/><rect x="1686.4" y="712.26" width="49.7" height="5.15" fill="#0072BD"/><rect x="1686.4" y="716.91" width="49.7" height="8.06" fill="#A2142F"/><rect x="1686.4" y="724.47" width="49.7" height="17.94" fill="#7E2F8E"/><rect x="1686.4" y="741.91" width="49.7" height="9.22" fill="#0072BD"/><rect x="1686.4" y="750.63" width="49.7" height="2.83" fill="#A2142F"/><rect x="1686.4" y="752.96" width="49.7" height="7.48" fill="#4DBEEE"/><rect x="1686.4" y="759.93" width="49.7" height="10.38" fill="#77AC30"/><rect x="1686.4" y="769.82" width="49.7" height="8.06" fill="#EDB120"/><rect x="1686.4" y="777.38" width="49.7" height="22.82" fill="#0072BD"/><rect x="1735.6" y="572.15" width="49.7" height="3.41" fill="#b8a052"/><rect x="1735.6" y="575.06" width="49.7" height="2.83" fill="#2a7f7a"/><rect x="1735.6" y="577.38" width="49.7" height="3.41" fill="#77AC30"/><rect x="1735.6" y="580.29" width="49.7" height="2.24" fill="#A2142F"/><rect x="1735.6" y="582.03" width="49.7" height="3.41" fill="#eea045"/><rect x="1735.6" y="584.94" width="49.7" height="5.73" fill="#D95319"/><rect x="1735.6" y="590.17" width="49.7" height="2.24" fill="#A2142F"/><rect x="1735.6" y="591.92" width="49.7" height="10.38" fill="#4DBEEE"/><rect x="1735.6" y="601.8" width="49.7" height="8.06" fill="#77AC30"/><rect x="1735.6" y="609.36" width="49.7" height="15.03" fill="#D95319"/><rect x="1735.6" y="623.89" width="49.7" height="40.03" fill="#77AC30"/><rect x="1735.6" y="663.43" width="49.7" height="10.38" fill="#7E2F8E"/><rect x="1735.6" y="673.31" width="49.7" height="2.83" fill="#D95319"/><rect x="1735.6" y="675.63" width="49.7" height="3.99" fill="#46609a"/><rect x="1735.6" y="679.12" width="49.7" height="13.87" fill="#A2142F"/><rect x="1735.6" y="692.49" width="49.7" height="3.41" fill="#b8a052"/><rect x="1735.6" y="695.4" width="49.7" height="3.41" fill="#D95319"/><rect x="1735.6" y="698.31" width="49.7" height="7.48" fill="#A2142F"/><rect x="1735.6" y="705.28" width="49.7" height="6.31" fill="#77AC30"/><rect x="1735.6" y="711.1" width="49.7" height="2.24" fill="#eea045"/><rect x="1735.6" y="712.84" width="49.7" height="2.83" fill="#46609a"/><rect x="1735.6" y="715.17" width="49.7" height="10.96" fill="#A2142F"/><rect x="1735.6" y="725.63" width="49.7" height="16.2" fill="#7E2F8E"/><rect x="1735.6" y="741.33" width="49.7" height="10.96" fill="#0072BD"/><rect x="1735.6" y="751.79" width="49.7" height="5.73" fill="#A2142F"/><rect x="1735.6" y="757.03" width="49.7" height="5.73" fill="#4DBEEE"/><rect x="1735.6" y="762.26" width="49.7" height="9.8" fill="#77AC30"/><rect x="1735.6" y="771.56" width="49.7" height="8.06" fill="#EDB120"/><rect x="1735.6" y="779.12" width="49.7" height="21.08" fill="#0072BD"/></g><rect x="1588.6" y="572.75" width="195.6" height="226.35" fill="none" stroke="#0d1b2a" stroke-width="1.3"/>
<g shape-rendering="crispEdges"><rect x="295" y="811.05" width="49.7" height="5.74" fill="#0072BD"/><rect x="295" y="816.29" width="49.7" height="26.1" fill="#A2142F"/><rect x="295" y="841.88" width="49.7" height="5.74" fill="#4DBEEE"/><rect x="295" y="847.12" width="49.7" height="4.57" fill="#77AC30"/><rect x="295" y="851.19" width="49.7" height="6.32" fill="#EDB120"/><rect x="295" y="857.01" width="49.7" height="4.57" fill="#D95319"/><rect x="295" y="861.08" width="49.7" height="3.41" fill="#46609a"/><rect x="295" y="863.99" width="49.7" height="13.88" fill="#A2142F"/><rect x="295" y="877.37" width="49.7" height="3.99" fill="#4DBEEE"/><rect x="295" y="880.86" width="49.7" height="12.13" fill="#77AC30"/><rect x="295" y="892.49" width="49.7" height="4.57" fill="#7E2F8E"/><rect x="295" y="896.57" width="49.7" height="6.32" fill="#eea045"/><rect x="295" y="902.38" width="49.7" height="2.25" fill="#D95319"/><rect x="295" y="904.13" width="49.7" height="5.74" fill="#0072BD"/><rect x="295" y="909.36" width="49.7" height="21.44" fill="#A2142F"/><rect x="295" y="930.31" width="49.7" height="6.9" fill="#4DBEEE"/><rect x="295" y="936.71" width="49.7" height="1.66" fill="#2a7f7a"/><rect x="295" y="937.87" width="49.7" height="21.44" fill="#7E2F8E"/><rect x="295" y="958.81" width="49.7" height="2.25" fill="#eea045"/><rect x="295" y="960.56" width="49.7" height="5.74" fill="#D95319"/><rect x="295" y="965.79" width="49.7" height="17.95" fill="#0072BD"/><rect x="295" y="983.25" width="49.7" height="6.32" fill="#A2142F"/><rect x="295" y="989.06" width="49.7" height="10.97" fill="#4DBEEE"/><rect x="295" y="999.53" width="49.7" height="9.81" fill="#77AC30"/><rect x="295" y="1008.84" width="49.7" height="2.83" fill="#6a3050"/><rect x="295" y="1011.17" width="49.7" height="8.64" fill="#EDB120"/><rect x="295" y="1019.31" width="49.7" height="2.83" fill="#D95319"/><rect x="295" y="1021.64" width="49.7" height="21.56" fill="#0072BD"/><rect x="344.2" y="811.05" width="49.7" height="7.48" fill="#0072BD"/><rect x="344.2" y="818.03" width="49.7" height="31.33" fill="#A2142F"/><rect x="344.2" y="848.86" width="49.7" height="3.41" fill="#4DBEEE"/><rect x="344.2" y="851.77" width="49.7" height="6.9" fill="#77AC30"/><rect x="344.2" y="858.17" width="49.7" height="3.99" fill="#EDB120"/><rect x="344.2" y="861.66" width="49.7" height="5.74" fill="#D95319"/><rect x="344.2" y="866.9" width="49.7" height="5.15" fill="#46609a"/><rect x="344.2" y="871.55" width="49.7" height="16.21" fill="#A2142F"/><rect x="344.2" y="887.26" width="49.7" height="3.41" fill="#4DBEEE"/><rect x="344.2" y="890.17" width="49.7" height="9.81" fill="#77AC30"/><rect x="344.2" y="899.47" width="49.7" height="2.83" fill="#6a3050"/><rect x="344.2" y="901.8" width="49.7" height="3.99" fill="#eea045"/><rect x="344.2" y="905.29" width="49.7" height="6.32" fill="#0072BD"/><rect x="344.2" y="911.11" width="49.7" height="27.26" fill="#A2142F"/><rect x="344.2" y="937.87" width="49.7" height="2.25" fill="#4DBEEE"/><rect x="344.2" y="939.62" width="49.7" height="24.35" fill="#7E2F8E"/><rect x="344.2" y="963.47" width="49.7" height="4.57" fill="#eea045"/><rect x="344.2" y="967.54" width="49.7" height="20.86" fill="#0072BD"/><rect x="344.2" y="987.9" width="49.7" height="9.23" fill="#A2142F"/><rect x="344.2" y="996.63" width="49.7" height="10.39" fill="#4DBEEE"/><rect x="344.2" y="1006.52" width="49.7" height="12.13" fill="#77AC30"/><rect x="344.2" y="1018.15" width="49.7" height="2.83" fill="#6a3050"/><rect x="344.2" y="1020.48" width="49.7" height="12.72" fill="#EDB120"/><rect x="344.2" y="1032.69" width="49.7" height="10.51" fill="#0072BD"/><rect x="393.4" y="811.05" width="49.7" height="5.15" fill="#0072BD"/><rect x="393.4" y="815.7" width="49.7" height="31.33" fill="#A2142F"/><rect x="393.4" y="846.54" width="49.7" height="3.41" fill="#4DBEEE"/><rect x="393.4" y="849.45" width="49.7" height="6.9" fill="#77AC30"/><rect x="393.4" y="855.84" width="49.7" height="2.83" fill="#EDB120"/><rect x="393.4" y="858.17" width="49.7" height="6.32" fill="#D95319"/><rect x="393.4" y="863.99" width="49.7" height="4.57" fill="#46609a"/><rect x="393.4" y="868.06" width="49.7" height="16.79" fill="#A2142F"/><rect x="393.4" y="884.35" width="49.7" height="3.41" fill="#4DBEEE"/><rect x="393.4" y="887.26" width="49.7" height="7.48" fill="#77AC30"/><rect x="393.4" y="894.24" width="49.7" height="2.25" fill="#6a3050"/><rect x="393.4" y="895.98" width="49.7" height="2.83" fill="#eea045"/><rect x="393.4" y="898.31" width="49.7" height="5.15" fill="#0072BD"/><rect x="393.4" y="902.97" width="49.7" height="33.08" fill="#A2142F"/><rect x="393.4" y="935.54" width="49.7" height="2.83" fill="#4DBEEE"/><rect x="393.4" y="937.87" width="49.7" height="27.26" fill="#7E2F8E"/><rect x="393.4" y="964.63" width="49.7" height="4.57" fill="#eea045"/><rect x="393.4" y="968.7" width="49.7" height="23.19" fill="#0072BD"/><rect x="393.4" y="991.39" width="49.7" height="6.32" fill="#A2142F"/><rect x="393.4" y="997.21" width="49.7" height="8.06" fill="#4DBEEE"/><rect x="393.4" y="1004.77" width="49.7" height="13.3" fill="#77AC30"/><rect x="393.4" y="1017.57" width="49.7" height="2.83" fill="#6a3050"/><rect x="393.4" y="1019.9" width="49.7" height="15.63" fill="#EDB120"/><rect x="393.4" y="1035.02" width="49.7" height="8.18" fill="#0072BD"/><rect x="442.6" y="811.05" width="49.7" height="3.41" fill="#0072BD"/><rect x="442.6" y="813.96" width="49.7" height="33.66" fill="#A2142F"/><rect x="442.6" y="847.12" width="49.7" height="2.83" fill="#4DBEEE"/><rect x="442.6" y="849.45" width="49.7" height="5.74" fill="#77AC30"/><rect x="442.6" y="854.68" width="49.7" height="2.83" fill="#EDB120"/><rect x="442.6" y="857.01" width="49.7" height="4.57" fill="#D95319"/><rect x="442.6" y="861.08" width="49.7" height="16.21" fill="#A2142F"/><rect x="442.6" y="876.79" width="49.7" height="3.41" fill="#4DBEEE"/><rect x="442.6" y="879.7" width="49.7" height="6.9" fill="#77AC30"/><rect x="442.6" y="886.09" width="49.7" height="2.25" fill="#6a3050"/><rect x="442.6" y="887.84" width="49.7" height="3.41" fill="#eea045"/><rect x="442.6" y="890.75" width="49.7" height="5.15" fill="#0072BD"/><rect x="442.6" y="895.4" width="49.7" height="36.57" fill="#A2142F"/><rect x="442.6" y="931.47" width="49.7" height="2.83" fill="#4DBEEE"/><rect x="442.6" y="933.8" width="49.7" height="27.26" fill="#7E2F8E"/><rect x="442.6" y="960.56" width="49.7" height="5.15" fill="#eea045"/><rect x="442.6" y="965.21" width="49.7" height="23.19" fill="#0072BD"/><rect x="442.6" y="987.9" width="49.7" height="6.9" fill="#A2142F"/><rect x="442.6" y="994.3" width="49.7" height="5.15" fill="#4DBEEE"/><rect x="442.6" y="998.95" width="49.7" height="14.46" fill="#77AC30"/><rect x="442.6" y="1012.91" width="49.7" height="2.83" fill="#6a3050"/><rect x="442.6" y="1015.24" width="49.7" height="17.37" fill="#EDB120"/><rect x="442.6" y="1032.11" width="49.7" height="11.09" fill="#0072BD"/></g><rect x="295.6" y="811.65" width="195.6" height="230.45" fill="none" stroke="#0d1b2a" stroke-width="1.3"/>
<g shape-rendering="crispEdges"><rect x="554" y="811.05" width="49.7" height="5.74" fill="#0072BD"/><rect x="554" y="816.29" width="49.7" height="26.1" fill="#A2142F"/><rect x="554" y="841.88" width="49.7" height="5.74" fill="#4DBEEE"/><rect x="554" y="847.12" width="49.7" height="4.57" fill="#77AC30"/><rect x="554" y="851.19" width="49.7" height="6.32" fill="#EDB120"/><rect x="554" y="857.01" width="49.7" height="4.57" fill="#D95319"/><rect x="554" y="861.08" width="49.7" height="3.41" fill="#46609a"/><rect x="554" y="863.99" width="49.7" height="13.88" fill="#A2142F"/><rect x="554" y="877.37" width="49.7" height="3.99" fill="#4DBEEE"/><rect x="554" y="880.86" width="49.7" height="12.13" fill="#77AC30"/><rect x="554" y="892.49" width="49.7" height="4.57" fill="#7E2F8E"/><rect x="554" y="896.57" width="49.7" height="6.32" fill="#eea045"/><rect x="554" y="902.38" width="49.7" height="2.25" fill="#D95319"/><rect x="554" y="904.13" width="49.7" height="5.74" fill="#0072BD"/><rect x="554" y="909.36" width="49.7" height="21.44" fill="#A2142F"/><rect x="554" y="930.31" width="49.7" height="6.9" fill="#4DBEEE"/><rect x="554" y="936.71" width="49.7" height="1.66" fill="#2a7f7a"/><rect x="554" y="937.87" width="49.7" height="21.44" fill="#7E2F8E"/><rect x="554" y="958.81" width="49.7" height="2.25" fill="#eea045"/><rect x="554" y="960.56" width="49.7" height="5.74" fill="#D95319"/><rect x="554" y="965.79" width="49.7" height="17.95" fill="#0072BD"/><rect x="554" y="983.25" width="49.7" height="6.32" fill="#A2142F"/><rect x="554" y="989.06" width="49.7" height="10.97" fill="#4DBEEE"/><rect x="554" y="999.53" width="49.7" height="9.81" fill="#77AC30"/><rect x="554" y="1008.84" width="49.7" height="2.83" fill="#6a3050"/><rect x="554" y="1011.17" width="49.7" height="8.64" fill="#EDB120"/><rect x="554" y="1019.31" width="49.7" height="2.83" fill="#D95319"/><rect x="554" y="1021.64" width="49.7" height="21.56" fill="#0072BD"/><rect x="603.2" y="811.05" width="49.7" height="7.48" fill="#0072BD"/><rect x="603.2" y="818.03" width="49.7" height="30.75" fill="#A2142F"/><rect x="603.2" y="848.28" width="49.7" height="3.41" fill="#4DBEEE"/><rect x="603.2" y="851.19" width="49.7" height="6.9" fill="#77AC30"/><rect x="603.2" y="857.59" width="49.7" height="5.15" fill="#EDB120"/><rect x="603.2" y="862.24" width="49.7" height="6.9" fill="#D95319"/><rect x="603.2" y="868.64" width="49.7" height="3.99" fill="#46609a"/><rect x="603.2" y="872.13" width="49.7" height="15.63" fill="#A2142F"/><rect x="603.2" y="887.26" width="49.7" height="3.99" fill="#4DBEEE"/><rect x="603.2" y="890.75" width="49.7" height="9.23" fill="#77AC30"/><rect x="603.2" y="899.47" width="49.7" height="4.57" fill="#7E2F8E"/><rect x="603.2" y="903.55" width="49.7" height="6.9" fill="#eea045"/><rect x="603.2" y="909.95" width="49.7" height="2.25" fill="#6a3050"/><rect x="603.2" y="911.69" width="49.7" height="4.57" fill="#0072BD"/><rect x="603.2" y="915.76" width="49.7" height="27.26" fill="#A2142F"/><rect x="603.2" y="942.52" width="49.7" height="3.41" fill="#4DBEEE"/><rect x="603.2" y="945.43" width="49.7" height="20.28" fill="#7E2F8E"/><rect x="603.2" y="965.21" width="49.7" height="5.74" fill="#eea045"/><rect x="603.2" y="970.45" width="49.7" height="17.95" fill="#0072BD"/><rect x="603.2" y="987.9" width="49.7" height="5.74" fill="#A2142F"/><rect x="603.2" y="993.14" width="49.7" height="9.23" fill="#4DBEEE"/><rect x="603.2" y="1001.86" width="49.7" height="13.88" fill="#77AC30"/><rect x="603.2" y="1015.24" width="49.7" height="2.25" fill="#6a3050"/><rect x="603.2" y="1016.99" width="49.7" height="11.55" fill="#EDB120"/><rect x="603.2" y="1028.04" width="49.7" height="15.16" fill="#0072BD"/><rect x="652.4" y="811.05" width="49.7" height="5.15" fill="#0072BD"/><rect x="652.4" y="815.7" width="49.7" height="31.33" fill="#A2142F"/><rect x="652.4" y="846.54" width="49.7" height="2.83" fill="#4DBEEE"/><rect x="652.4" y="848.86" width="49.7" height="6.32" fill="#77AC30"/><rect x="652.4" y="854.68" width="49.7" height="2.25" fill="#EDB120"/><rect x="652.4" y="856.43" width="49.7" height="6.32" fill="#D95319"/><rect x="652.4" y="862.24" width="49.7" height="3.99" fill="#46609a"/><rect x="652.4" y="865.73" width="49.7" height="15.04" fill="#A2142F"/><rect x="652.4" y="880.28" width="49.7" height="2.83" fill="#4DBEEE"/><rect x="652.4" y="882.6" width="49.7" height="6.9" fill="#77AC30"/><rect x="652.4" y="889" width="49.7" height="2.25" fill="#6a3050"/><rect x="652.4" y="890.75" width="49.7" height="5.74" fill="#eea045"/><rect x="652.4" y="895.98" width="49.7" height="5.15" fill="#0072BD"/><rect x="652.4" y="900.64" width="49.7" height="35.4" fill="#A2142F"/><rect x="652.4" y="935.54" width="49.7" height="2.83" fill="#4DBEEE"/><rect x="652.4" y="937.87" width="49.7" height="27.26" fill="#7E2F8E"/><rect x="652.4" y="964.63" width="49.7" height="5.15" fill="#eea045"/><rect x="652.4" y="969.28" width="49.7" height="20.28" fill="#0072BD"/><rect x="652.4" y="989.06" width="49.7" height="6.32" fill="#A2142F"/><rect x="652.4" y="994.88" width="49.7" height="7.48" fill="#4DBEEE"/><rect x="652.4" y="1001.86" width="49.7" height="14.46" fill="#77AC30"/><rect x="652.4" y="1015.82" width="49.7" height="2.83" fill="#6a3050"/><rect x="652.4" y="1018.15" width="49.7" height="15.63" fill="#EDB120"/><rect x="652.4" y="1033.28" width="49.7" height="9.92" fill="#0072BD"/><rect x="701.6" y="811.05" width="49.7" height="3.41" fill="#0072BD"/><rect x="701.6" y="813.96" width="49.7" height="29.59" fill="#A2142F"/><rect x="701.6" y="843.05" width="49.7" height="2.83" fill="#4DBEEE"/><rect x="701.6" y="845.37" width="49.7" height="5.15" fill="#77AC30"/><rect x="701.6" y="850.03" width="49.7" height="3.41" fill="#eea045"/><rect x="701.6" y="852.94" width="49.7" height="3.41" fill="#D95319"/><rect x="701.6" y="855.84" width="49.7" height="2.83" fill="#46609a"/><rect x="701.6" y="858.17" width="49.7" height="16.21" fill="#A2142F"/><rect x="701.6" y="873.88" width="49.7" height="2.83" fill="#4DBEEE"/><rect x="701.6" y="876.21" width="49.7" height="8.06" fill="#77AC30"/><rect x="701.6" y="883.77" width="49.7" height="1.66" fill="#6a3050"/><rect x="701.6" y="884.93" width="49.7" height="3.41" fill="#eea045"/><rect x="701.6" y="887.84" width="49.7" height="4.57" fill="#0072BD"/><rect x="701.6" y="891.91" width="49.7" height="41.22" fill="#A2142F"/><rect x="701.6" y="932.63" width="49.7" height="2.83" fill="#4DBEEE"/><rect x="701.6" y="934.96" width="49.7" height="27.26" fill="#7E2F8E"/><rect x="701.6" y="961.72" width="49.7" height="4.57" fill="#eea045"/><rect x="701.6" y="965.79" width="49.7" height="23.19" fill="#0072BD"/><rect x="701.6" y="988.48" width="49.7" height="6.9" fill="#A2142F"/><rect x="701.6" y="994.88" width="49.7" height="5.15" fill="#4DBEEE"/><rect x="701.6" y="999.53" width="49.7" height="14.46" fill="#77AC30"/><rect x="701.6" y="1013.5" width="49.7" height="2.83" fill="#6a3050"/><rect x="701.6" y="1015.82" width="49.7" height="17.95" fill="#EDB120"/><rect x="701.6" y="1033.28" width="49.7" height="9.92" fill="#0072BD"/></g><rect x="554.6" y="811.65" width="195.6" height="230.45" fill="none" stroke="#0d1b2a" stroke-width="1.3"/>
<g shape-rendering="crispEdges"><rect x="811.5" y="811.05" width="49.7" height="5.74" fill="#0072BD"/><rect x="811.5" y="816.29" width="49.7" height="26.1" fill="#A2142F"/><rect x="811.5" y="841.88" width="49.7" height="5.74" fill="#4DBEEE"/><rect x="811.5" y="847.12" width="49.7" height="4.57" fill="#77AC30"/><rect x="811.5" y="851.19" width="49.7" height="6.32" fill="#EDB120"/><rect x="811.5" y="857.01" width="49.7" height="4.57" fill="#D95319"/><rect x="811.5" y="861.08" width="49.7" height="3.41" fill="#46609a"/><rect x="811.5" y="863.99" width="49.7" height="13.88" fill="#A2142F"/><rect x="811.5" y="877.37" width="49.7" height="3.99" fill="#4DBEEE"/><rect x="811.5" y="880.86" width="49.7" height="12.13" fill="#77AC30"/><rect x="811.5" y="892.49" width="49.7" height="4.57" fill="#7E2F8E"/><rect x="811.5" y="896.57" width="49.7" height="6.32" fill="#eea045"/><rect x="811.5" y="902.38" width="49.7" height="2.25" fill="#D95319"/><rect x="811.5" y="904.13" width="49.7" height="5.74" fill="#0072BD"/><rect x="811.5" y="909.36" width="49.7" height="21.44" fill="#A2142F"/><rect x="811.5" y="930.31" width="49.7" height="6.9" fill="#4DBEEE"/><rect x="811.5" y="936.71" width="49.7" height="1.66" fill="#2a7f7a"/><rect x="811.5" y="937.87" width="49.7" height="21.44" fill="#7E2F8E"/><rect x="811.5" y="958.81" width="49.7" height="2.25" fill="#eea045"/><rect x="811.5" y="960.56" width="49.7" height="5.74" fill="#D95319"/><rect x="811.5" y="965.79" width="49.7" height="17.95" fill="#0072BD"/><rect x="811.5" y="983.25" width="49.7" height="6.32" fill="#A2142F"/><rect x="811.5" y="989.06" width="49.7" height="10.97" fill="#4DBEEE"/><rect x="811.5" y="999.53" width="49.7" height="9.81" fill="#77AC30"/><rect x="811.5" y="1008.84" width="49.7" height="2.83" fill="#6a3050"/><rect x="811.5" y="1011.17" width="49.7" height="8.64" fill="#EDB120"/><rect x="811.5" y="1019.31" width="49.7" height="2.83" fill="#D95319"/><rect x="811.5" y="1021.64" width="49.7" height="21.56" fill="#0072BD"/><rect x="860.7" y="811.05" width="49.7" height="7.48" fill="#0072BD"/><rect x="860.7" y="818.03" width="49.7" height="29.01" fill="#A2142F"/><rect x="860.7" y="846.54" width="49.7" height="3.41" fill="#4DBEEE"/><rect x="860.7" y="849.45" width="49.7" height="5.74" fill="#77AC30"/><rect x="860.7" y="854.68" width="49.7" height="2.83" fill="#EDB120"/><rect x="860.7" y="857.01" width="49.7" height="6.9" fill="#D95319"/><rect x="860.7" y="863.41" width="49.7" height="3.41" fill="#46609a"/><rect x="860.7" y="866.32" width="49.7" height="16.21" fill="#A2142F"/><rect x="860.7" y="882.02" width="49.7" height="3.99" fill="#4DBEEE"/><rect x="860.7" y="885.51" width="49.7" height="11.55" fill="#77AC30"/><rect x="860.7" y="896.57" width="49.7" height="3.41" fill="#6a3050"/><rect x="860.7" y="899.47" width="49.7" height="3.99" fill="#eea045"/><rect x="860.7" y="902.97" width="49.7" height="6.9" fill="#0072BD"/><rect x="860.7" y="909.36" width="49.7" height="23.77" fill="#A2142F"/><rect x="860.7" y="932.63" width="49.7" height="2.83" fill="#4DBEEE"/><rect x="860.7" y="934.96" width="49.7" height="24.93" fill="#7E2F8E"/><rect x="860.7" y="959.39" width="49.7" height="3.99" fill="#eea045"/><rect x="860.7" y="962.88" width="49.7" height="20.86" fill="#0072BD"/><rect x="860.7" y="983.25" width="49.7" height="9.23" fill="#A2142F"/><rect x="860.7" y="991.97" width="49.7" height="9.23" fill="#4DBEEE"/><rect x="860.7" y="1000.7" width="49.7" height="13.3" fill="#77AC30"/><rect x="860.7" y="1013.5" width="49.7" height="3.41" fill="#6a3050"/><rect x="860.7" y="1016.41" width="49.7" height="13.88" fill="#EDB120"/><rect x="860.7" y="1029.79" width="49.7" height="13.41" fill="#0072BD"/><rect x="909.9" y="811.05" width="49.7" height="5.15" fill="#0072BD"/><rect x="909.9" y="815.7" width="49.7" height="31.33" fill="#A2142F"/><rect x="909.9" y="846.54" width="49.7" height="3.41" fill="#4DBEEE"/><rect x="909.9" y="849.45" width="49.7" height="6.9" fill="#77AC30"/><rect x="909.9" y="855.84" width="49.7" height="3.41" fill="#EDB120"/><rect x="909.9" y="858.75" width="49.7" height="6.32" fill="#D95319"/><rect x="909.9" y="864.57" width="49.7" height="3.99" fill="#46609a"/><rect x="909.9" y="868.06" width="49.7" height="15.04" fill="#A2142F"/><rect x="909.9" y="882.6" width="49.7" height="3.41" fill="#4DBEEE"/><rect x="909.9" y="885.51" width="49.7" height="6.9" fill="#77AC30"/><rect x="909.9" y="891.91" width="49.7" height="2.83" fill="#6a3050"/><rect x="909.9" y="894.24" width="49.7" height="3.41" fill="#eea045"/><rect x="909.9" y="897.15" width="49.7" height="5.15" fill="#0072BD"/><rect x="909.9" y="901.8" width="49.7" height="28.42" fill="#A2142F"/><rect x="909.9" y="929.73" width="49.7" height="3.41" fill="#4DBEEE"/><rect x="909.9" y="932.63" width="49.7" height="29.01" fill="#7E2F8E"/><rect x="909.9" y="961.14" width="49.7" height="5.15" fill="#eea045"/><rect x="909.9" y="965.79" width="49.7" height="23.19" fill="#0072BD"/><rect x="909.9" y="988.48" width="49.7" height="6.9" fill="#A2142F"/><rect x="909.9" y="994.88" width="49.7" height="7.48" fill="#4DBEEE"/><rect x="909.9" y="1001.86" width="49.7" height="13.88" fill="#77AC30"/><rect x="909.9" y="1015.24" width="49.7" height="2.83" fill="#6a3050"/><rect x="909.9" y="1017.57" width="49.7" height="16.79" fill="#EDB120"/><rect x="909.9" y="1033.86" width="49.7" height="9.34" fill="#0072BD"/><rect x="959.1" y="811.05" width="49.7" height="5.15" fill="#0072BD"/><rect x="959.1" y="815.7" width="49.7" height="29.59" fill="#A2142F"/><rect x="959.1" y="844.79" width="49.7" height="2.83" fill="#4DBEEE"/><rect x="959.1" y="847.12" width="49.7" height="4.57" fill="#77AC30"/><rect x="959.1" y="851.19" width="49.7" height="3.41" fill="#EDB120"/><rect x="959.1" y="854.1" width="49.7" height="5.74" fill="#D95319"/><rect x="959.1" y="859.33" width="49.7" height="3.41" fill="#46609a"/><rect x="959.1" y="862.24" width="49.7" height="16.21" fill="#A2142F"/><rect x="959.1" y="877.95" width="49.7" height="3.41" fill="#4DBEEE"/><rect x="959.1" y="880.86" width="49.7" height="6.32" fill="#77AC30"/><rect x="959.1" y="886.68" width="49.7" height="2.25" fill="#6a3050"/><rect x="959.1" y="888.42" width="49.7" height="3.41" fill="#eea045"/><rect x="959.1" y="891.33" width="49.7" height="5.15" fill="#0072BD"/><rect x="959.1" y="895.98" width="49.7" height="31.33" fill="#A2142F"/><rect x="959.1" y="926.82" width="49.7" height="3.41" fill="#4DBEEE"/><rect x="959.1" y="929.73" width="49.7" height="28.42" fill="#7E2F8E"/><rect x="959.1" y="957.65" width="49.7" height="5.15" fill="#eea045"/><rect x="959.1" y="962.3" width="49.7" height="25.51" fill="#0072BD"/><rect x="959.1" y="987.32" width="49.7" height="6.9" fill="#A2142F"/><rect x="959.1" y="993.72" width="49.7" height="6.9" fill="#4DBEEE"/><rect x="959.1" y="1000.12" width="49.7" height="15.63" fill="#77AC30"/><rect x="959.1" y="1015.24" width="49.7" height="2.83" fill="#6a3050"/><rect x="959.1" y="1017.57" width="49.7" height="18.53" fill="#EDB120"/><rect x="959.1" y="1035.6" width="49.7" height="7.6" fill="#0072BD"/></g><rect x="812.1" y="811.65" width="195.6" height="230.45" fill="none" stroke="#0d1b2a" stroke-width="1.3"/>
<g shape-rendering="crispEdges"><rect x="1071.1" y="811.05" width="49.7" height="5.74" fill="#0072BD"/><rect x="1071.1" y="816.29" width="49.7" height="26.1" fill="#A2142F"/><rect x="1071.1" y="841.88" width="49.7" height="5.74" fill="#4DBEEE"/><rect x="1071.1" y="847.12" width="49.7" height="4.57" fill="#77AC30"/><rect x="1071.1" y="851.19" width="49.7" height="6.32" fill="#EDB120"/><rect x="1071.1" y="857.01" width="49.7" height="4.57" fill="#D95319"/><rect x="1071.1" y="861.08" width="49.7" height="3.41" fill="#46609a"/><rect x="1071.1" y="863.99" width="49.7" height="13.88" fill="#A2142F"/><rect x="1071.1" y="877.37" width="49.7" height="3.99" fill="#4DBEEE"/><rect x="1071.1" y="880.86" width="49.7" height="12.13" fill="#77AC30"/><rect x="1071.1" y="892.49" width="49.7" height="4.57" fill="#7E2F8E"/><rect x="1071.1" y="896.57" width="49.7" height="6.32" fill="#eea045"/><rect x="1071.1" y="902.38" width="49.7" height="2.25" fill="#D95319"/><rect x="1071.1" y="904.13" width="49.7" height="5.74" fill="#0072BD"/><rect x="1071.1" y="909.36" width="49.7" height="21.44" fill="#A2142F"/><rect x="1071.1" y="930.31" width="49.7" height="6.9" fill="#4DBEEE"/><rect x="1071.1" y="936.71" width="49.7" height="1.66" fill="#2a7f7a"/><rect x="1071.1" y="937.87" width="49.7" height="21.44" fill="#7E2F8E"/><rect x="1071.1" y="958.81" width="49.7" height="2.25" fill="#eea045"/><rect x="1071.1" y="960.56" width="49.7" height="5.74" fill="#D95319"/><rect x="1071.1" y="965.79" width="49.7" height="17.95" fill="#0072BD"/><rect x="1071.1" y="983.25" width="49.7" height="6.32" fill="#A2142F"/><rect x="1071.1" y="989.06" width="49.7" height="10.97" fill="#4DBEEE"/><rect x="1071.1" y="999.53" width="49.7" height="9.81" fill="#77AC30"/><rect x="1071.1" y="1008.84" width="49.7" height="2.83" fill="#6a3050"/><rect x="1071.1" y="1011.17" width="49.7" height="8.64" fill="#EDB120"/><rect x="1071.1" y="1019.31" width="49.7" height="2.83" fill="#D95319"/><rect x="1071.1" y="1021.64" width="49.7" height="21.56" fill="#0072BD"/><rect x="1120.3" y="811.05" width="49.7" height="5.74" fill="#0072BD"/><rect x="1120.3" y="816.29" width="49.7" height="19.12" fill="#A2142F"/><rect x="1120.3" y="834.9" width="49.7" height="3.41" fill="#4DBEEE"/><rect x="1120.3" y="837.81" width="49.7" height="4.57" fill="#77AC30"/><rect x="1120.3" y="841.88" width="49.7" height="3.99" fill="#EDB120"/><rect x="1120.3" y="845.37" width="49.7" height="3.99" fill="#D95319"/><rect x="1120.3" y="848.86" width="49.7" height="3.99" fill="#46609a"/><rect x="1120.3" y="852.35" width="49.7" height="10.97" fill="#A2142F"/><rect x="1120.3" y="862.83" width="49.7" height="3.41" fill="#4DBEEE"/><rect x="1120.3" y="865.73" width="49.7" height="12.72" fill="#77AC30"/><rect x="1120.3" y="877.95" width="49.7" height="4.57" fill="#7E2F8E"/><rect x="1120.3" y="882.02" width="49.7" height="6.32" fill="#EDB120"/><rect x="1120.3" y="887.84" width="49.7" height="2.83" fill="#6a3050"/><rect x="1120.3" y="890.17" width="49.7" height="6.32" fill="#0072BD"/><rect x="1120.3" y="895.98" width="49.7" height="24.35" fill="#A2142F"/><rect x="1120.3" y="919.84" width="49.7" height="5.15" fill="#4DBEEE"/><rect x="1120.3" y="924.49" width="49.7" height="28.42" fill="#7E2F8E"/><rect x="1120.3" y="952.41" width="49.7" height="5.15" fill="#eea045"/><rect x="1120.3" y="957.07" width="49.7" height="19.7" fill="#0072BD"/><rect x="1120.3" y="976.26" width="49.7" height="10.39" fill="#A2142F"/><rect x="1120.3" y="986.15" width="49.7" height="11.55" fill="#4DBEEE"/><rect x="1120.3" y="997.21" width="49.7" height="14.46" fill="#77AC30"/><rect x="1120.3" y="1011.17" width="49.7" height="3.41" fill="#6a3050"/><rect x="1120.3" y="1014.08" width="49.7" height="13.88" fill="#EDB120"/><rect x="1120.3" y="1027.46" width="49.7" height="15.74" fill="#0072BD"/><rect x="1169.5" y="811.05" width="49.7" height="3.41" fill="#0072BD"/><rect x="1169.5" y="813.96" width="49.7" height="20.86" fill="#A2142F"/><rect x="1169.5" y="834.32" width="49.7" height="5.15" fill="#77AC30"/><rect x="1169.5" y="838.97" width="49.7" height="2.83" fill="#EDB120"/><rect x="1169.5" y="841.3" width="49.7" height="5.15" fill="#D95319"/><rect x="1169.5" y="845.95" width="49.7" height="12.13" fill="#A2142F"/><rect x="1169.5" y="857.59" width="49.7" height="2.83" fill="#4DBEEE"/><rect x="1169.5" y="859.92" width="49.7" height="9.23" fill="#77AC30"/><rect x="1169.5" y="868.64" width="49.7" height="2.83" fill="#6a3050"/><rect x="1169.5" y="870.97" width="49.7" height="5.15" fill="#eea045"/><rect x="1169.5" y="875.62" width="49.7" height="5.74" fill="#0072BD"/><rect x="1169.5" y="880.86" width="49.7" height="32.5" fill="#A2142F"/><rect x="1169.5" y="912.85" width="49.7" height="2.83" fill="#4DBEEE"/><rect x="1169.5" y="915.18" width="49.7" height="34.82" fill="#7E2F8E"/><rect x="1169.5" y="949.5" width="49.7" height="5.15" fill="#eea045"/><rect x="1169.5" y="954.16" width="49.7" height="23.77" fill="#0072BD"/><rect x="1169.5" y="977.43" width="49.7" height="9.23" fill="#A2142F"/><rect x="1169.5" y="986.15" width="49.7" height="8.06" fill="#4DBEEE"/><rect x="1169.5" y="993.72" width="49.7" height="19.12" fill="#77AC30"/><rect x="1169.5" y="1012.33" width="49.7" height="2.83" fill="#6a3050"/><rect x="1169.5" y="1014.66" width="49.7" height="19.12" fill="#EDB120"/><rect x="1169.5" y="1033.28" width="49.7" height="9.92" fill="#0072BD"/><rect x="1218.7" y="811.05" width="49.7" height="3.41" fill="#0072BD"/><rect x="1218.7" y="813.96" width="49.7" height="20.28" fill="#A2142F"/><rect x="1218.7" y="833.74" width="49.7" height="2.83" fill="#4DBEEE"/><rect x="1218.7" y="836.06" width="49.7" height="5.15" fill="#77AC30"/><rect x="1218.7" y="840.72" width="49.7" height="3.41" fill="#EDB120"/><rect x="1218.7" y="843.63" width="49.7" height="4.57" fill="#D95319"/><rect x="1218.7" y="847.7" width="49.7" height="11.55" fill="#A2142F"/><rect x="1218.7" y="858.75" width="49.7" height="8.06" fill="#77AC30"/><rect x="1218.7" y="866.32" width="49.7" height="2.25" fill="#6a3050"/><rect x="1218.7" y="868.06" width="49.7" height="3.41" fill="#eea045"/><rect x="1218.7" y="870.97" width="49.7" height="5.15" fill="#0072BD"/><rect x="1218.7" y="875.62" width="49.7" height="32.5" fill="#A2142F"/><rect x="1218.7" y="907.62" width="49.7" height="2.83" fill="#4DBEEE"/><rect x="1218.7" y="909.95" width="49.7" height="36.57" fill="#7E2F8E"/><rect x="1218.7" y="946.01" width="49.7" height="5.15" fill="#eea045"/><rect x="1218.7" y="950.67" width="49.7" height="26.1" fill="#0072BD"/><rect x="1218.7" y="976.26" width="49.7" height="9.23" fill="#A2142F"/><rect x="1218.7" y="984.99" width="49.7" height="6.9" fill="#4DBEEE"/><rect x="1218.7" y="991.39" width="49.7" height="19.12" fill="#77AC30"/><rect x="1218.7" y="1010.01" width="49.7" height="2.83" fill="#6a3050"/><rect x="1218.7" y="1012.33" width="49.7" height="21.44" fill="#EDB120"/><rect x="1218.7" y="1033.28" width="49.7" height="9.92" fill="#0072BD"/></g><rect x="1071.7" y="811.65" width="195.6" height="230.45" fill="none" stroke="#0d1b2a" stroke-width="1.3"/>
<g shape-rendering="crispEdges"><rect x="1328.3" y="811.05" width="49.7" height="5.74" fill="#0072BD"/><rect x="1328.3" y="816.29" width="49.7" height="26.1" fill="#A2142F"/><rect x="1328.3" y="841.88" width="49.7" height="5.74" fill="#4DBEEE"/><rect x="1328.3" y="847.12" width="49.7" height="4.57" fill="#77AC30"/><rect x="1328.3" y="851.19" width="49.7" height="6.32" fill="#EDB120"/><rect x="1328.3" y="857.01" width="49.7" height="4.57" fill="#D95319"/><rect x="1328.3" y="861.08" width="49.7" height="3.41" fill="#46609a"/><rect x="1328.3" y="863.99" width="49.7" height="13.88" fill="#A2142F"/><rect x="1328.3" y="877.37" width="49.7" height="3.99" fill="#4DBEEE"/><rect x="1328.3" y="880.86" width="49.7" height="12.13" fill="#77AC30"/><rect x="1328.3" y="892.49" width="49.7" height="4.57" fill="#7E2F8E"/><rect x="1328.3" y="896.57" width="49.7" height="6.32" fill="#eea045"/><rect x="1328.3" y="902.38" width="49.7" height="2.25" fill="#D95319"/><rect x="1328.3" y="904.13" width="49.7" height="5.74" fill="#0072BD"/><rect x="1328.3" y="909.36" width="49.7" height="21.44" fill="#A2142F"/><rect x="1328.3" y="930.31" width="49.7" height="6.9" fill="#4DBEEE"/><rect x="1328.3" y="936.71" width="49.7" height="1.66" fill="#2a7f7a"/><rect x="1328.3" y="937.87" width="49.7" height="21.44" fill="#7E2F8E"/><rect x="1328.3" y="958.81" width="49.7" height="2.25" fill="#eea045"/><rect x="1328.3" y="960.56" width="49.7" height="5.74" fill="#D95319"/><rect x="1328.3" y="965.79" width="49.7" height="17.95" fill="#0072BD"/><rect x="1328.3" y="983.25" width="49.7" height="6.32" fill="#A2142F"/><rect x="1328.3" y="989.06" width="49.7" height="10.97" fill="#4DBEEE"/><rect x="1328.3" y="999.53" width="49.7" height="9.81" fill="#77AC30"/><rect x="1328.3" y="1008.84" width="49.7" height="2.83" fill="#6a3050"/><rect x="1328.3" y="1011.17" width="49.7" height="8.64" fill="#EDB120"/><rect x="1328.3" y="1019.31" width="49.7" height="2.83" fill="#D95319"/><rect x="1328.3" y="1021.64" width="49.7" height="21.56" fill="#0072BD"/><rect x="1377.5" y="811.05" width="49.7" height="8.06" fill="#0072BD"/><rect x="1377.5" y="818.61" width="49.7" height="31.33" fill="#A2142F"/><rect x="1377.5" y="849.45" width="49.7" height="3.41" fill="#4DBEEE"/><rect x="1377.5" y="852.35" width="49.7" height="6.9" fill="#77AC30"/><rect x="1377.5" y="858.75" width="49.7" height="3.99" fill="#EDB120"/><rect x="1377.5" y="862.24" width="49.7" height="6.32" fill="#D95319"/><rect x="1377.5" y="868.06" width="49.7" height="3.99" fill="#46609a"/><rect x="1377.5" y="871.55" width="49.7" height="16.79" fill="#A2142F"/><rect x="1377.5" y="887.84" width="49.7" height="3.99" fill="#4DBEEE"/><rect x="1377.5" y="891.33" width="49.7" height="9.23" fill="#77AC30"/><rect x="1377.5" y="900.06" width="49.7" height="2.83" fill="#6a3050"/><rect x="1377.5" y="902.38" width="49.7" height="3.99" fill="#eea045"/><rect x="1377.5" y="905.87" width="49.7" height="6.32" fill="#0072BD"/><rect x="1377.5" y="911.69" width="49.7" height="23.77" fill="#A2142F"/><rect x="1377.5" y="934.96" width="49.7" height="3.41" fill="#4DBEEE"/><rect x="1377.5" y="937.87" width="49.7" height="23.77" fill="#7E2F8E"/><rect x="1377.5" y="961.14" width="49.7" height="5.15" fill="#eea045"/><rect x="1377.5" y="965.79" width="49.7" height="20.28" fill="#0072BD"/><rect x="1377.5" y="985.57" width="49.7" height="9.81" fill="#A2142F"/><rect x="1377.5" y="994.88" width="49.7" height="10.39" fill="#4DBEEE"/><rect x="1377.5" y="1004.77" width="49.7" height="12.72" fill="#77AC30"/><rect x="1377.5" y="1016.99" width="49.7" height="2.83" fill="#6a3050"/><rect x="1377.5" y="1019.31" width="49.7" height="13.88" fill="#EDB120"/><rect x="1377.5" y="1032.69" width="49.7" height="10.51" fill="#0072BD"/><rect x="1426.7" y="811.05" width="49.7" height="5.74" fill="#0072BD"/><rect x="1426.7" y="816.29" width="49.7" height="31.33" fill="#A2142F"/><rect x="1426.7" y="847.12" width="49.7" height="2.83" fill="#4DBEEE"/><rect x="1426.7" y="849.45" width="49.7" height="5.15" fill="#77AC30"/><rect x="1426.7" y="854.1" width="49.7" height="2.83" fill="#EDB120"/><rect x="1426.7" y="856.43" width="49.7" height="6.32" fill="#D95319"/><rect x="1426.7" y="862.24" width="49.7" height="4.57" fill="#46609a"/><rect x="1426.7" y="866.32" width="49.7" height="15.04" fill="#A2142F"/><rect x="1426.7" y="880.86" width="49.7" height="3.41" fill="#4DBEEE"/><rect x="1426.7" y="883.77" width="49.7" height="6.9" fill="#77AC30"/><rect x="1426.7" y="890.17" width="49.7" height="2.25" fill="#6a3050"/><rect x="1426.7" y="891.91" width="49.7" height="4.57" fill="#eea045"/><rect x="1426.7" y="895.98" width="49.7" height="5.74" fill="#0072BD"/><rect x="1426.7" y="901.22" width="49.7" height="31.91" fill="#A2142F"/><rect x="1426.7" y="932.63" width="49.7" height="2.83" fill="#4DBEEE"/><rect x="1426.7" y="934.96" width="49.7" height="26.68" fill="#7E2F8E"/><rect x="1426.7" y="961.14" width="49.7" height="5.15" fill="#eea045"/><rect x="1426.7" y="965.79" width="49.7" height="23.19" fill="#0072BD"/><rect x="1426.7" y="988.48" width="49.7" height="7.48" fill="#A2142F"/><rect x="1426.7" y="995.46" width="49.7" height="6.9" fill="#4DBEEE"/><rect x="1426.7" y="1001.86" width="49.7" height="14.46" fill="#77AC30"/><rect x="1426.7" y="1015.82" width="49.7" height="2.83" fill="#6a3050"/><rect x="1426.7" y="1018.15" width="49.7" height="15.63" fill="#EDB120"/><rect x="1426.7" y="1033.28" width="49.7" height="9.92" fill="#0072BD"/><rect x="1475.9" y="811.05" width="49.7" height="5.74" fill="#0072BD"/><rect x="1475.9" y="816.29" width="49.7" height="29.59" fill="#A2142F"/><rect x="1475.9" y="845.37" width="49.7" height="2.83" fill="#4DBEEE"/><rect x="1475.9" y="847.7" width="49.7" height="4.57" fill="#77AC30"/><rect x="1475.9" y="851.77" width="49.7" height="2.83" fill="#EDB120"/><rect x="1475.9" y="854.1" width="49.7" height="6.32" fill="#D95319"/><rect x="1475.9" y="859.92" width="49.7" height="3.99" fill="#46609a"/><rect x="1475.9" y="863.41" width="49.7" height="16.21" fill="#A2142F"/><rect x="1475.9" y="879.11" width="49.7" height="2.83" fill="#4DBEEE"/><rect x="1475.9" y="881.44" width="49.7" height="7.48" fill="#77AC30"/><rect x="1475.9" y="888.42" width="49.7" height="2.25" fill="#6a3050"/><rect x="1475.9" y="890.17" width="49.7" height="2.83" fill="#eea045"/><rect x="1475.9" y="892.49" width="49.7" height="5.15" fill="#0072BD"/><rect x="1475.9" y="897.15" width="49.7" height="33.66" fill="#A2142F"/><rect x="1475.9" y="930.31" width="49.7" height="2.83" fill="#4DBEEE"/><rect x="1475.9" y="932.63" width="49.7" height="29.01" fill="#7E2F8E"/><rect x="1475.9" y="961.14" width="49.7" height="5.15" fill="#eea045"/><rect x="1475.9" y="965.79" width="49.7" height="23.19" fill="#0072BD"/><rect x="1475.9" y="988.48" width="49.7" height="7.48" fill="#A2142F"/><rect x="1475.9" y="995.46" width="49.7" height="5.74" fill="#4DBEEE"/><rect x="1475.9" y="1000.7" width="49.7" height="13.88" fill="#77AC30"/><rect x="1475.9" y="1014.08" width="49.7" height="2.83" fill="#6a3050"/><rect x="1475.9" y="1016.41" width="49.7" height="19.12" fill="#EDB120"/><rect x="1475.9" y="1035.02" width="49.7" height="8.18" fill="#0072BD"/></g><rect x="1328.9" y="811.65" width="195.6" height="230.45" fill="none" stroke="#0d1b2a" stroke-width="1.3"/>
<g shape-rendering="crispEdges"><rect x="1588" y="811.05" width="49.7" height="5.74" fill="#0072BD"/><rect x="1588" y="816.29" width="49.7" height="26.1" fill="#A2142F"/><rect x="1588" y="841.88" width="49.7" height="5.74" fill="#4DBEEE"/><rect x="1588" y="847.12" width="49.7" height="4.57" fill="#77AC30"/><rect x="1588" y="851.19" width="49.7" height="6.32" fill="#EDB120"/><rect x="1588" y="857.01" width="49.7" height="4.57" fill="#D95319"/><rect x="1588" y="861.08" width="49.7" height="3.41" fill="#46609a"/><rect x="1588" y="863.99" width="49.7" height="13.88" fill="#A2142F"/><rect x="1588" y="877.37" width="49.7" height="3.99" fill="#4DBEEE"/><rect x="1588" y="880.86" width="49.7" height="12.13" fill="#77AC30"/><rect x="1588" y="892.49" width="49.7" height="4.57" fill="#7E2F8E"/><rect x="1588" y="896.57" width="49.7" height="6.32" fill="#eea045"/><rect x="1588" y="902.38" width="49.7" height="2.25" fill="#D95319"/><rect x="1588" y="904.13" width="49.7" height="5.74" fill="#0072BD"/><rect x="1588" y="909.36" width="49.7" height="21.44" fill="#A2142F"/><rect x="1588" y="930.31" width="49.7" height="6.9" fill="#4DBEEE"/><rect x="1588" y="936.71" width="49.7" height="1.66" fill="#2a7f7a"/><rect x="1588" y="937.87" width="49.7" height="21.44" fill="#7E2F8E"/><rect x="1588" y="958.81" width="49.7" height="2.25" fill="#eea045"/><rect x="1588" y="960.56" width="49.7" height="5.74" fill="#D95319"/><rect x="1588" y="965.79" width="49.7" height="17.95" fill="#0072BD"/><rect x="1588" y="983.25" width="49.7" height="6.32" fill="#A2142F"/><rect x="1588" y="989.06" width="49.7" height="10.97" fill="#4DBEEE"/><rect x="1588" y="999.53" width="49.7" height="9.81" fill="#77AC30"/><rect x="1588" y="1008.84" width="49.7" height="2.83" fill="#6a3050"/><rect x="1588" y="1011.17" width="49.7" height="8.64" fill="#EDB120"/><rect x="1588" y="1019.31" width="49.7" height="2.83" fill="#D95319"/><rect x="1588" y="1021.64" width="49.7" height="21.56" fill="#0072BD"/><rect x="1637.2" y="811.05" width="49.7" height="2.83" fill="#0072BD"/><rect x="1637.2" y="813.38" width="49.7" height="12.13" fill="#A2142F"/><rect x="1637.2" y="825.01" width="49.7" height="3.99" fill="#4DBEEE"/><rect x="1637.2" y="828.5" width="49.7" height="2.83" fill="#77AC30"/><rect x="1637.2" y="830.83" width="49.7" height="2.83" fill="#EDB120"/><rect x="1637.2" y="833.16" width="49.7" height="2.25" fill="#D95319"/><rect x="1637.2" y="834.9" width="49.7" height="7.48" fill="#A2142F"/><rect x="1637.2" y="841.88" width="49.7" height="14.46" fill="#77AC30"/><rect x="1637.2" y="855.84" width="49.7" height="5.74" fill="#7E2F8E"/><rect x="1637.2" y="861.08" width="49.7" height="5.74" fill="#EDB120"/><rect x="1637.2" y="866.32" width="49.7" height="2.25" fill="#D95319"/><rect x="1637.2" y="868.06" width="49.7" height="10.39" fill="#0072BD"/><rect x="1637.2" y="877.95" width="49.7" height="23.77" fill="#A2142F"/><rect x="1637.2" y="901.22" width="49.7" height="6.32" fill="#4DBEEE"/><rect x="1637.2" y="907.04" width="49.7" height="1.66" fill="#77AC30"/><rect x="1637.2" y="908.2" width="49.7" height="33.66" fill="#7E2F8E"/><rect x="1637.2" y="941.36" width="49.7" height="5.74" fill="#EDB120"/><rect x="1637.2" y="946.6" width="49.7" height="2.25" fill="#D95319"/><rect x="1637.2" y="948.34" width="49.7" height="19.7" fill="#0072BD"/><rect x="1637.2" y="967.54" width="49.7" height="9.23" fill="#A2142F"/><rect x="1637.2" y="976.26" width="49.7" height="14.46" fill="#4DBEEE"/><rect x="1637.2" y="990.23" width="49.7" height="15.04" fill="#77AC30"/><rect x="1637.2" y="1004.77" width="49.7" height="2.83" fill="#6a3050"/><rect x="1637.2" y="1007.1" width="49.7" height="16.79" fill="#EDB120"/><rect x="1637.2" y="1023.39" width="49.7" height="19.81" fill="#0072BD"/><rect x="1686.4" y="811.05" width="49.7" height="2.83" fill="#0072BD"/><rect x="1686.4" y="813.38" width="49.7" height="14.46" fill="#A2142F"/><rect x="1686.4" y="827.34" width="49.7" height="3.41" fill="#b8a052"/><rect x="1686.4" y="830.25" width="49.7" height="2.83" fill="#D95319"/><rect x="1686.4" y="832.57" width="49.7" height="6.9" fill="#A2142F"/><rect x="1686.4" y="838.97" width="49.7" height="10.39" fill="#77AC30"/><rect x="1686.4" y="848.86" width="49.7" height="2.83" fill="#6a3050"/><rect x="1686.4" y="851.19" width="49.7" height="3.99" fill="#eea045"/><rect x="1686.4" y="854.68" width="49.7" height="8.06" fill="#0072BD"/><rect x="1686.4" y="862.24" width="49.7" height="35.99" fill="#A2142F"/><rect x="1686.4" y="897.73" width="49.7" height="2.83" fill="#4DBEEE"/><rect x="1686.4" y="900.06" width="49.7" height="44.13" fill="#7E2F8E"/><rect x="1686.4" y="943.69" width="49.7" height="5.15" fill="#eea045"/><rect x="1686.4" y="948.34" width="49.7" height="24.93" fill="#0072BD"/><rect x="1686.4" y="972.77" width="49.7" height="9.81" fill="#A2142F"/><rect x="1686.4" y="982.08" width="49.7" height="8.06" fill="#4DBEEE"/><rect x="1686.4" y="989.65" width="49.7" height="20.86" fill="#77AC30"/><rect x="1686.4" y="1010.01" width="49.7" height="2.83" fill="#6a3050"/><rect x="1686.4" y="1012.33" width="49.7" height="21.44" fill="#EDB120"/><rect x="1686.4" y="1033.28" width="49.7" height="9.92" fill="#0072BD"/><rect x="1735.6" y="811.05" width="49.7" height="2.83" fill="#0072BD"/><rect x="1735.6" y="813.38" width="49.7" height="14.46" fill="#A2142F"/><rect x="1735.6" y="827.34" width="49.7" height="3.41" fill="#b8a052"/><rect x="1735.6" y="830.25" width="49.7" height="2.83" fill="#D95319"/><rect x="1735.6" y="832.57" width="49.7" height="6.9" fill="#A2142F"/><rect x="1735.6" y="838.97" width="49.7" height="9.81" fill="#77AC30"/><rect x="1735.6" y="848.28" width="49.7" height="2.25" fill="#6a3050"/><rect x="1735.6" y="850.03" width="49.7" height="4.57" fill="#eea045"/><rect x="1735.6" y="854.1" width="49.7" height="8.64" fill="#0072BD"/><rect x="1735.6" y="862.24" width="49.7" height="36.57" fill="#A2142F"/><rect x="1735.6" y="898.31" width="49.7" height="3.41" fill="#4DBEEE"/><rect x="1735.6" y="901.22" width="49.7" height="42.97" fill="#7E2F8E"/><rect x="1735.6" y="943.69" width="49.7" height="4.57" fill="#eea045"/><rect x="1735.6" y="947.76" width="49.7" height="26.68" fill="#0072BD"/><rect x="1735.6" y="973.94" width="49.7" height="9.23" fill="#A2142F"/><rect x="1735.6" y="982.66" width="49.7" height="8.06" fill="#4DBEEE"/><rect x="1735.6" y="990.23" width="49.7" height="20.28" fill="#77AC30"/><rect x="1735.6" y="1010.01" width="49.7" height="2.83" fill="#6a3050"/><rect x="1735.6" y="1012.33" width="49.7" height="21.44" fill="#EDB120"/><rect x="1735.6" y="1033.28" width="49.7" height="9.92" fill="#0072BD"/></g><rect x="1588.6" y="811.65" width="195.6" height="230.45" fill="none" stroke="#0d1b2a" stroke-width="1.3"/>
<g shape-rendering="crispEdges"><rect x="295" y="1055.1" width="49.7" height="9.8" fill="#0072BD"/><rect x="295" y="1064.4" width="49.7" height="3.41" fill="#6a3050"/><rect x="295" y="1067.31" width="49.7" height="6.89" fill="#77AC30"/><rect x="295" y="1073.7" width="49.7" height="5.15" fill="#7E2F8E"/><rect x="295" y="1078.35" width="49.7" height="3.41" fill="#eea045"/><rect x="295" y="1081.26" width="49.7" height="2.83" fill="#D95319"/><rect x="295" y="1083.58" width="49.7" height="2.83" fill="#46609a"/><rect x="295" y="1085.91" width="49.7" height="25.49" fill="#4DBEEE"/><rect x="295" y="1110.9" width="49.7" height="2.24" fill="#b8a052"/><rect x="295" y="1112.64" width="49.7" height="3.41" fill="#6a3050"/><rect x="295" y="1115.55" width="49.7" height="7.47" fill="#EDB120"/><rect x="295" y="1122.52" width="49.7" height="2.83" fill="#D95319"/><rect x="295" y="1124.85" width="49.7" height="7.47" fill="#0072BD"/><rect x="295" y="1131.82" width="49.7" height="2.83" fill="#6a3050"/><rect x="295" y="1134.15" width="49.7" height="24.91" fill="#77AC30"/><rect x="295" y="1158.56" width="49.7" height="5.73" fill="#EDB120"/><rect x="295" y="1163.79" width="49.7" height="4.57" fill="#D95319"/><rect x="295" y="1167.86" width="49.7" height="2.83" fill="#A2142F"/><rect x="295" y="1170.19" width="49.7" height="16.77" fill="#4DBEEE"/><rect x="295" y="1186.46" width="49.7" height="12.12" fill="#77AC30"/><rect x="295" y="1198.09" width="49.7" height="2.83" fill="#EDB120"/><rect x="295" y="1200.41" width="49.7" height="22.59" fill="#D95319"/><rect x="295" y="1222.5" width="49.7" height="2.82" fill="#46609a"/><rect x="295" y="1224.82" width="49.7" height="2.83" fill="#6a3050"/><rect x="295" y="1227.15" width="49.7" height="2.83" fill="#4DBEEE"/><rect x="295" y="1229.47" width="49.7" height="26.08" fill="#77AC30"/><rect x="295" y="1255.05" width="49.7" height="8.64" fill="#7E2F8E"/><rect x="295" y="1263.19" width="49.7" height="9.8" fill="#D95319"/><rect x="295" y="1272.49" width="49.7" height="15.61" fill="#0072BD"/><rect x="344.2" y="1055.1" width="49.7" height="3.99" fill="#A2142F"/><rect x="344.2" y="1058.59" width="49.7" height="2.24" fill="#6a3050"/><rect x="344.2" y="1060.33" width="49.7" height="3.99" fill="#b8a052"/><rect x="344.2" y="1063.82" width="49.7" height="4.57" fill="#0072BD"/><rect x="344.2" y="1067.89" width="49.7" height="21.43" fill="#4DBEEE"/><rect x="344.2" y="1088.81" width="49.7" height="2.24" fill="#6a3050"/><rect x="344.2" y="1090.56" width="49.7" height="5.15" fill="#EDB120"/><rect x="344.2" y="1095.21" width="49.7" height="5.15" fill="#0072BD"/><rect x="344.2" y="1099.86" width="49.7" height="12.71" fill="#77AC30"/><rect x="344.2" y="1112.06" width="49.7" height="5.15" fill="#EDB120"/><rect x="344.2" y="1116.71" width="49.7" height="5.73" fill="#D95319"/><rect x="344.2" y="1121.94" width="49.7" height="2.24" fill="#A2142F"/><rect x="344.2" y="1123.69" width="49.7" height="15.61" fill="#4DBEEE"/><rect x="344.2" y="1138.8" width="49.7" height="15.03" fill="#77AC30"/><rect x="344.2" y="1153.33" width="49.7" height="2.83" fill="#EDB120"/><rect x="344.2" y="1155.66" width="49.7" height="26.66" fill="#D95319"/><rect x="344.2" y="1181.81" width="49.7" height="40.61" fill="#77AC30"/><rect x="344.2" y="1221.92" width="49.7" height="13.87" fill="#7E2F8E"/><rect x="344.2" y="1235.29" width="49.7" height="5.73" fill="#D95319"/><rect x="344.2" y="1240.52" width="49.7" height="3.41" fill="#46609a"/><rect x="344.2" y="1243.42" width="49.7" height="6.31" fill="#A2142F"/><rect x="344.2" y="1249.24" width="49.7" height="3.99" fill="#2a7f7a"/><rect x="344.2" y="1252.72" width="49.7" height="3.41" fill="#46609a"/><rect x="344.2" y="1255.63" width="49.7" height="5.73" fill="#7E2F8E"/><rect x="344.2" y="1260.86" width="49.7" height="3.99" fill="#46609a"/><rect x="344.2" y="1264.35" width="49.7" height="2.83" fill="#4DBEEE"/><rect x="344.2" y="1266.67" width="49.7" height="3.99" fill="#b8a052"/><rect x="344.2" y="1270.16" width="49.7" height="17.94" fill="#0072BD"/><rect x="393.4" y="1055.1" width="49.7" height="3.99" fill="#A2142F"/><rect x="393.4" y="1058.59" width="49.7" height="2.24" fill="#6a3050"/><rect x="393.4" y="1060.33" width="49.7" height="3.99" fill="#b8a052"/><rect x="393.4" y="1063.82" width="49.7" height="2.83" fill="#6a3050"/><rect x="393.4" y="1066.14" width="49.7" height="23.75" fill="#4DBEEE"/><rect x="393.4" y="1089.39" width="49.7" height="2.24" fill="#6a3050"/><rect x="393.4" y="1091.14" width="49.7" height="5.15" fill="#EDB120"/><rect x="393.4" y="1095.79" width="49.7" height="6.31" fill="#0072BD"/><rect x="393.4" y="1101.6" width="49.7" height="13.29" fill="#77AC30"/><rect x="393.4" y="1114.39" width="49.7" height="2.83" fill="#EDB120"/><rect x="393.4" y="1116.71" width="49.7" height="6.89" fill="#D95319"/><rect x="393.4" y="1123.11" width="49.7" height="1.66" fill="#A2142F"/><rect x="393.4" y="1124.27" width="49.7" height="16.77" fill="#4DBEEE"/><rect x="393.4" y="1140.54" width="49.7" height="14.45" fill="#77AC30"/><rect x="393.4" y="1154.49" width="49.7" height="3.41" fill="#EDB120"/><rect x="393.4" y="1157.4" width="49.7" height="25.49" fill="#D95319"/><rect x="393.4" y="1182.39" width="49.7" height="47" fill="#77AC30"/><rect x="393.4" y="1228.89" width="49.7" height="17.36" fill="#7E2F8E"/><rect x="393.4" y="1245.75" width="49.7" height="6.31" fill="#D95319"/><rect x="393.4" y="1251.56" width="49.7" height="9.8" fill="#A2142F"/><rect x="393.4" y="1260.86" width="49.7" height="5.15" fill="#7E2F8E"/><rect x="393.4" y="1265.51" width="49.7" height="3.41" fill="#46609a"/><rect x="393.4" y="1268.42" width="49.7" height="3.41" fill="#4DBEEE"/><rect x="393.4" y="1271.32" width="49.7" height="4.57" fill="#b8a052"/><rect x="393.4" y="1275.39" width="49.7" height="12.71" fill="#0072BD"/><rect x="442.6" y="1055.1" width="49.7" height="3.99" fill="#A2142F"/><rect x="442.6" y="1058.59" width="49.7" height="2.24" fill="#6a3050"/><rect x="442.6" y="1060.33" width="49.7" height="3.41" fill="#b8a052"/><rect x="442.6" y="1063.24" width="49.7" height="3.41" fill="#6a3050"/><rect x="442.6" y="1066.14" width="49.7" height="30.72" fill="#4DBEEE"/><rect x="442.6" y="1096.37" width="49.7" height="2.24" fill="#6a3050"/><rect x="442.6" y="1098.11" width="49.7" height="5.73" fill="#EDB120"/><rect x="442.6" y="1103.34" width="49.7" height="5.15" fill="#0072BD"/><rect x="442.6" y="1107.99" width="49.7" height="10.96" fill="#77AC30"/><rect x="442.6" y="1118.46" width="49.7" height="2.83" fill="#EDB120"/><rect x="442.6" y="1120.78" width="49.7" height="5.73" fill="#D95319"/><rect x="442.6" y="1126.01" width="49.7" height="2.83" fill="#A2142F"/><rect x="442.6" y="1128.34" width="49.7" height="16.19" fill="#4DBEEE"/><rect x="442.6" y="1144.03" width="49.7" height="15.61" fill="#77AC30"/><rect x="442.6" y="1159.14" width="49.7" height="2.83" fill="#EDB120"/><rect x="442.6" y="1161.47" width="49.7" height="22.59" fill="#D95319"/><rect x="442.6" y="1183.56" width="49.7" height="45.84" fill="#77AC30"/><rect x="442.6" y="1228.89" width="49.7" height="17.36" fill="#7E2F8E"/><rect x="442.6" y="1245.75" width="49.7" height="6.31" fill="#D95319"/><rect x="442.6" y="1251.56" width="49.7" height="9.8" fill="#A2142F"/><rect x="442.6" y="1260.86" width="49.7" height="5.15" fill="#7E2F8E"/><rect x="442.6" y="1265.51" width="49.7" height="3.41" fill="#46609a"/><rect x="442.6" y="1268.42" width="49.7" height="3.41" fill="#4DBEEE"/><rect x="442.6" y="1271.32" width="49.7" height="4.57" fill="#b8a052"/><rect x="442.6" y="1275.39" width="49.7" height="12.71" fill="#0072BD"/></g><rect x="295.6" y="1055.7" width="195.6" height="231.3" fill="none" stroke="#0d1b2a" stroke-width="1.3"/>
<g shape-rendering="crispEdges"><rect x="554" y="1055.1" width="49.7" height="9.8" fill="#0072BD"/><rect x="554" y="1064.4" width="49.7" height="3.41" fill="#6a3050"/><rect x="554" y="1067.31" width="49.7" height="6.89" fill="#77AC30"/><rect x="554" y="1073.7" width="49.7" height="5.15" fill="#7E2F8E"/><rect x="554" y="1078.35" width="49.7" height="3.41" fill="#eea045"/><rect x="554" y="1081.26" width="49.7" height="2.83" fill="#D95319"/><rect x="554" y="1083.58" width="49.7" height="2.83" fill="#46609a"/><rect x="554" y="1085.91" width="49.7" height="25.49" fill="#4DBEEE"/><rect x="554" y="1110.9" width="49.7" height="2.24" fill="#b8a052"/><rect x="554" y="1112.64" width="49.7" height="3.41" fill="#6a3050"/><rect x="554" y="1115.55" width="49.7" height="7.47" fill="#EDB120"/><rect x="554" y="1122.52" width="49.7" height="2.83" fill="#D95319"/><rect x="554" y="1124.85" width="49.7" height="7.47" fill="#0072BD"/><rect x="554" y="1131.82" width="49.7" height="2.83" fill="#6a3050"/><rect x="554" y="1134.15" width="49.7" height="24.91" fill="#77AC30"/><rect x="554" y="1158.56" width="49.7" height="5.73" fill="#EDB120"/><rect x="554" y="1163.79" width="49.7" height="4.57" fill="#D95319"/><rect x="554" y="1167.86" width="49.7" height="2.83" fill="#A2142F"/><rect x="554" y="1170.19" width="49.7" height="16.77" fill="#4DBEEE"/><rect x="554" y="1186.46" width="49.7" height="12.12" fill="#77AC30"/><rect x="554" y="1198.09" width="49.7" height="2.83" fill="#EDB120"/><rect x="554" y="1200.41" width="49.7" height="22.59" fill="#D95319"/><rect x="554" y="1222.5" width="49.7" height="2.82" fill="#46609a"/><rect x="554" y="1224.82" width="49.7" height="2.83" fill="#6a3050"/><rect x="554" y="1227.15" width="49.7" height="2.83" fill="#4DBEEE"/><rect x="554" y="1229.47" width="49.7" height="26.08" fill="#77AC30"/><rect x="554" y="1255.05" width="49.7" height="8.64" fill="#7E2F8E"/><rect x="554" y="1263.19" width="49.7" height="9.8" fill="#D95319"/><rect x="554" y="1272.49" width="49.7" height="15.61" fill="#0072BD"/><rect x="603.2" y="1055.1" width="49.7" height="3.99" fill="#A2142F"/><rect x="603.2" y="1058.59" width="49.7" height="3.99" fill="#b8a052"/><rect x="603.2" y="1062.07" width="49.7" height="5.15" fill="#0072BD"/><rect x="603.2" y="1066.72" width="49.7" height="24.91" fill="#4DBEEE"/><rect x="603.2" y="1091.14" width="49.7" height="2.24" fill="#6a3050"/><rect x="603.2" y="1092.88" width="49.7" height="8.06" fill="#EDB120"/><rect x="603.2" y="1100.44" width="49.7" height="1.66" fill="#D95319"/><rect x="603.2" y="1101.6" width="49.7" height="5.73" fill="#0072BD"/><rect x="603.2" y="1106.83" width="49.7" height="16.19" fill="#77AC30"/><rect x="603.2" y="1122.52" width="49.7" height="5.15" fill="#EDB120"/><rect x="603.2" y="1127.17" width="49.7" height="5.15" fill="#D95319"/><rect x="603.2" y="1131.82" width="49.7" height="2.83" fill="#A2142F"/><rect x="603.2" y="1134.15" width="49.7" height="19.1" fill="#4DBEEE"/><rect x="603.2" y="1152.75" width="49.7" height="19.68" fill="#77AC30"/><rect x="603.2" y="1171.93" width="49.7" height="2.24" fill="#6a3050"/><rect x="603.2" y="1173.67" width="49.7" height="2.83" fill="#eea045"/><rect x="603.2" y="1176" width="49.7" height="30.72" fill="#D95319"/><rect x="603.2" y="1206.22" width="49.7" height="47" fill="#77AC30"/><rect x="603.2" y="1252.72" width="49.7" height="17.94" fill="#7E2F8E"/><rect x="603.2" y="1270.16" width="49.7" height="2.83" fill="#eea045"/><rect x="603.2" y="1272.49" width="49.7" height="8.06" fill="#D95319"/><rect x="603.2" y="1280.04" width="49.7" height="8.06" fill="#0072BD"/><rect x="652.4" y="1055.1" width="49.7" height="3.99" fill="#A2142F"/><rect x="652.4" y="1058.59" width="49.7" height="3.99" fill="#b8a052"/><rect x="652.4" y="1062.07" width="49.7" height="3.41" fill="#6a3050"/><rect x="652.4" y="1064.98" width="49.7" height="3.41" fill="#eea045"/><rect x="652.4" y="1067.89" width="49.7" height="27.82" fill="#4DBEEE"/><rect x="652.4" y="1095.21" width="49.7" height="2.24" fill="#6a3050"/><rect x="652.4" y="1096.95" width="49.7" height="5.15" fill="#EDB120"/><rect x="652.4" y="1101.6" width="49.7" height="5.73" fill="#0072BD"/><rect x="652.4" y="1106.83" width="49.7" height="15.61" fill="#77AC30"/><rect x="652.4" y="1121.94" width="49.7" height="5.73" fill="#EDB120"/><rect x="652.4" y="1127.17" width="49.7" height="6.31" fill="#A2142F"/><rect x="652.4" y="1132.99" width="49.7" height="19.1" fill="#4DBEEE"/><rect x="652.4" y="1151.59" width="49.7" height="16.78" fill="#77AC30"/><rect x="652.4" y="1167.86" width="49.7" height="3.41" fill="#EDB120"/><rect x="652.4" y="1170.77" width="49.7" height="29.56" fill="#D95319"/><rect x="652.4" y="1199.83" width="49.7" height="52.23" fill="#77AC30"/><rect x="652.4" y="1251.56" width="49.7" height="21.42" fill="#7E2F8E"/><rect x="652.4" y="1272.49" width="49.7" height="2.83" fill="#eea045"/><rect x="652.4" y="1274.81" width="49.7" height="5.15" fill="#D95319"/><rect x="652.4" y="1279.46" width="49.7" height="8.64" fill="#0072BD"/><rect x="701.6" y="1055.1" width="49.7" height="3.99" fill="#A2142F"/><rect x="701.6" y="1058.59" width="49.7" height="3.99" fill="#b8a052"/><rect x="701.6" y="1062.07" width="49.7" height="3.41" fill="#6a3050"/><rect x="701.6" y="1064.98" width="49.7" height="33.63" fill="#4DBEEE"/><rect x="701.6" y="1098.11" width="49.7" height="2.24" fill="#6a3050"/><rect x="701.6" y="1099.86" width="49.7" height="5.15" fill="#EDB120"/><rect x="701.6" y="1104.51" width="49.7" height="6.31" fill="#0072BD"/><rect x="701.6" y="1110.32" width="49.7" height="2.24" fill="#6a3050"/><rect x="701.6" y="1112.06" width="49.7" height="15.61" fill="#77AC30"/><rect x="701.6" y="1127.17" width="49.7" height="3.41" fill="#EDB120"/><rect x="701.6" y="1130.08" width="49.7" height="3.41" fill="#D95319"/><rect x="701.6" y="1132.99" width="49.7" height="2.24" fill="#A2142F"/><rect x="701.6" y="1134.73" width="49.7" height="17.94" fill="#4DBEEE"/><rect x="701.6" y="1152.17" width="49.7" height="17.36" fill="#77AC30"/><rect x="701.6" y="1169.02" width="49.7" height="2.83" fill="#EDB120"/><rect x="701.6" y="1171.35" width="49.7" height="30.72" fill="#D95319"/><rect x="701.6" y="1201.57" width="49.7" height="51.65" fill="#77AC30"/><rect x="701.6" y="1252.72" width="49.7" height="22.59" fill="#7E2F8E"/><rect x="701.6" y="1274.81" width="49.7" height="5.15" fill="#D95319"/><rect x="701.6" y="1279.46" width="49.7" height="8.64" fill="#0072BD"/></g><rect x="554.6" y="1055.7" width="195.6" height="231.3" fill="none" stroke="#0d1b2a" stroke-width="1.3"/>
<g shape-rendering="crispEdges"><rect x="811.5" y="1055.1" width="49.7" height="9.8" fill="#0072BD"/><rect x="811.5" y="1064.4" width="49.7" height="3.41" fill="#6a3050"/><rect x="811.5" y="1067.31" width="49.7" height="6.89" fill="#77AC30"/><rect x="811.5" y="1073.7" width="49.7" height="5.15" fill="#7E2F8E"/><rect x="811.5" y="1078.35" width="49.7" height="3.41" fill="#eea045"/><rect x="811.5" y="1081.26" width="49.7" height="2.83" fill="#D95319"/><rect x="811.5" y="1083.58" width="49.7" height="2.83" fill="#46609a"/><rect x="811.5" y="1085.91" width="49.7" height="25.49" fill="#4DBEEE"/><rect x="811.5" y="1110.9" width="49.7" height="2.24" fill="#b8a052"/><rect x="811.5" y="1112.64" width="49.7" height="3.41" fill="#6a3050"/><rect x="811.5" y="1115.55" width="49.7" height="7.47" fill="#EDB120"/><rect x="811.5" y="1122.52" width="49.7" height="2.83" fill="#D95319"/><rect x="811.5" y="1124.85" width="49.7" height="7.47" fill="#0072BD"/><rect x="811.5" y="1131.82" width="49.7" height="2.83" fill="#6a3050"/><rect x="811.5" y="1134.15" width="49.7" height="24.91" fill="#77AC30"/><rect x="811.5" y="1158.56" width="49.7" height="5.73" fill="#EDB120"/><rect x="811.5" y="1163.79" width="49.7" height="4.57" fill="#D95319"/><rect x="811.5" y="1167.86" width="49.7" height="2.83" fill="#A2142F"/><rect x="811.5" y="1170.19" width="49.7" height="16.77" fill="#4DBEEE"/><rect x="811.5" y="1186.46" width="49.7" height="12.12" fill="#77AC30"/><rect x="811.5" y="1198.09" width="49.7" height="2.83" fill="#EDB120"/><rect x="811.5" y="1200.41" width="49.7" height="22.59" fill="#D95319"/><rect x="811.5" y="1222.5" width="49.7" height="2.82" fill="#46609a"/><rect x="811.5" y="1224.82" width="49.7" height="2.83" fill="#6a3050"/><rect x="811.5" y="1227.15" width="49.7" height="2.83" fill="#4DBEEE"/><rect x="811.5" y="1229.47" width="49.7" height="26.08" fill="#77AC30"/><rect x="811.5" y="1255.05" width="49.7" height="8.64" fill="#7E2F8E"/><rect x="811.5" y="1263.19" width="49.7" height="9.8" fill="#D95319"/><rect x="811.5" y="1272.49" width="49.7" height="15.61" fill="#0072BD"/><rect x="860.7" y="1055.1" width="49.7" height="3.99" fill="#A2142F"/><rect x="860.7" y="1058.59" width="49.7" height="3.99" fill="#b8a052"/><rect x="860.7" y="1062.07" width="49.7" height="3.41" fill="#6a3050"/><rect x="860.7" y="1064.98" width="49.7" height="3.41" fill="#eea045"/><rect x="860.7" y="1067.89" width="49.7" height="2.83" fill="#0072BD"/><rect x="860.7" y="1070.21" width="49.7" height="24.91" fill="#4DBEEE"/><rect x="860.7" y="1094.62" width="49.7" height="2.24" fill="#77AC30"/><rect x="860.7" y="1096.37" width="49.7" height="2.83" fill="#6a3050"/><rect x="860.7" y="1098.69" width="49.7" height="5.15" fill="#EDB120"/><rect x="860.7" y="1103.34" width="49.7" height="2.24" fill="#D95319"/><rect x="860.7" y="1105.09" width="49.7" height="8.06" fill="#0072BD"/><rect x="860.7" y="1112.64" width="49.7" height="2.24" fill="#6a3050"/><rect x="860.7" y="1114.39" width="49.7" height="18.52" fill="#77AC30"/><rect x="860.7" y="1132.41" width="49.7" height="5.73" fill="#EDB120"/><rect x="860.7" y="1137.64" width="49.7" height="5.15" fill="#D95319"/><rect x="860.7" y="1142.29" width="49.7" height="2.83" fill="#A2142F"/><rect x="860.7" y="1144.61" width="49.7" height="19.68" fill="#4DBEEE"/><rect x="860.7" y="1163.79" width="49.7" height="18.52" fill="#77AC30"/><rect x="860.7" y="1181.81" width="49.7" height="2.82" fill="#EDB120"/><rect x="860.7" y="1184.14" width="49.7" height="31.31" fill="#D95319"/><rect x="860.7" y="1214.94" width="49.7" height="41.19" fill="#77AC30"/><rect x="860.7" y="1255.63" width="49.7" height="17.36" fill="#7E2F8E"/><rect x="860.7" y="1272.49" width="49.7" height="8.06" fill="#D95319"/><rect x="860.7" y="1280.04" width="49.7" height="8.06" fill="#0072BD"/><rect x="909.9" y="1055.1" width="49.7" height="3.99" fill="#A2142F"/><rect x="909.9" y="1058.59" width="49.7" height="3.99" fill="#b8a052"/><rect x="909.9" y="1062.07" width="49.7" height="3.41" fill="#6a3050"/><rect x="909.9" y="1064.98" width="49.7" height="3.41" fill="#eea045"/><rect x="909.9" y="1067.89" width="49.7" height="2.83" fill="#0072BD"/><rect x="909.9" y="1070.21" width="49.7" height="27.82" fill="#4DBEEE"/><rect x="909.9" y="1097.53" width="49.7" height="2.82" fill="#6a3050"/><rect x="909.9" y="1099.86" width="49.7" height="6.89" fill="#EDB120"/><rect x="909.9" y="1106.25" width="49.7" height="6.89" fill="#0072BD"/><rect x="909.9" y="1112.64" width="49.7" height="2.24" fill="#6a3050"/><rect x="909.9" y="1114.39" width="49.7" height="17.36" fill="#77AC30"/><rect x="909.9" y="1131.24" width="49.7" height="6.31" fill="#EDB120"/><rect x="909.9" y="1137.06" width="49.7" height="4.57" fill="#A2142F"/><rect x="909.9" y="1141.12" width="49.7" height="19.68" fill="#4DBEEE"/><rect x="909.9" y="1160.31" width="49.7" height="17.36" fill="#77AC30"/><rect x="909.9" y="1177.16" width="49.7" height="3.99" fill="#EDB120"/><rect x="909.9" y="1180.65" width="49.7" height="29.56" fill="#D95319"/><rect x="909.9" y="1209.71" width="49.7" height="46.42" fill="#77AC30"/><rect x="909.9" y="1255.63" width="49.7" height="17.36" fill="#7E2F8E"/><rect x="909.9" y="1272.49" width="49.7" height="8.06" fill="#D95319"/><rect x="909.9" y="1280.04" width="49.7" height="8.06" fill="#0072BD"/><rect x="959.1" y="1055.1" width="49.7" height="3.99" fill="#A2142F"/><rect x="959.1" y="1058.59" width="49.7" height="3.99" fill="#b8a052"/><rect x="959.1" y="1062.07" width="49.7" height="3.41" fill="#6a3050"/><rect x="959.1" y="1064.98" width="49.7" height="3.41" fill="#eea045"/><rect x="959.1" y="1067.89" width="49.7" height="31.89" fill="#4DBEEE"/><rect x="959.1" y="1099.27" width="49.7" height="2.83" fill="#77AC30"/><rect x="959.1" y="1101.6" width="49.7" height="2.83" fill="#6a3050"/><rect x="959.1" y="1103.92" width="49.7" height="5.15" fill="#EDB120"/><rect x="959.1" y="1108.57" width="49.7" height="6.31" fill="#0072BD"/><rect x="959.1" y="1114.39" width="49.7" height="2.83" fill="#6a3050"/><rect x="959.1" y="1116.71" width="49.7" height="16.78" fill="#77AC30"/><rect x="959.1" y="1132.99" width="49.7" height="3.41" fill="#EDB120"/><rect x="959.1" y="1135.89" width="49.7" height="4.57" fill="#A2142F"/><rect x="959.1" y="1139.96" width="49.7" height="19.68" fill="#4DBEEE"/><rect x="959.1" y="1159.14" width="49.7" height="17.36" fill="#77AC30"/><rect x="959.1" y="1176" width="49.7" height="2.82" fill="#EDB120"/><rect x="959.1" y="1178.32" width="49.7" height="29.56" fill="#D95319"/><rect x="959.1" y="1207.39" width="49.7" height="48.74" fill="#77AC30"/><rect x="959.1" y="1255.63" width="49.7" height="17.36" fill="#7E2F8E"/><rect x="959.1" y="1272.49" width="49.7" height="8.06" fill="#D95319"/><rect x="959.1" y="1280.04" width="49.7" height="8.06" fill="#0072BD"/></g><rect x="812.1" y="1055.7" width="195.6" height="231.3" fill="none" stroke="#0d1b2a" stroke-width="1.3"/>
<g shape-rendering="crispEdges"><rect x="1071.1" y="1055.1" width="49.7" height="9.8" fill="#0072BD"/><rect x="1071.1" y="1064.4" width="49.7" height="3.41" fill="#6a3050"/><rect x="1071.1" y="1067.31" width="49.7" height="6.89" fill="#77AC30"/><rect x="1071.1" y="1073.7" width="49.7" height="5.15" fill="#7E2F8E"/><rect x="1071.1" y="1078.35" width="49.7" height="3.41" fill="#eea045"/><rect x="1071.1" y="1081.26" width="49.7" height="2.83" fill="#D95319"/><rect x="1071.1" y="1083.58" width="49.7" height="2.83" fill="#46609a"/><rect x="1071.1" y="1085.91" width="49.7" height="25.49" fill="#4DBEEE"/><rect x="1071.1" y="1110.9" width="49.7" height="2.24" fill="#b8a052"/><rect x="1071.1" y="1112.64" width="49.7" height="3.41" fill="#6a3050"/><rect x="1071.1" y="1115.55" width="49.7" height="7.47" fill="#EDB120"/><rect x="1071.1" y="1122.52" width="49.7" height="2.83" fill="#D95319"/><rect x="1071.1" y="1124.85" width="49.7" height="7.47" fill="#0072BD"/><rect x="1071.1" y="1131.82" width="49.7" height="2.83" fill="#6a3050"/><rect x="1071.1" y="1134.15" width="49.7" height="24.91" fill="#77AC30"/><rect x="1071.1" y="1158.56" width="49.7" height="5.73" fill="#EDB120"/><rect x="1071.1" y="1163.79" width="49.7" height="4.57" fill="#D95319"/><rect x="1071.1" y="1167.86" width="49.7" height="2.83" fill="#A2142F"/><rect x="1071.1" y="1170.19" width="49.7" height="16.77" fill="#4DBEEE"/><rect x="1071.1" y="1186.46" width="49.7" height="12.12" fill="#77AC30"/><rect x="1071.1" y="1198.09" width="49.7" height="2.83" fill="#EDB120"/><rect x="1071.1" y="1200.41" width="49.7" height="22.59" fill="#D95319"/><rect x="1071.1" y="1222.5" width="49.7" height="2.82" fill="#46609a"/><rect x="1071.1" y="1224.82" width="49.7" height="2.83" fill="#6a3050"/><rect x="1071.1" y="1227.15" width="49.7" height="2.83" fill="#4DBEEE"/><rect x="1071.1" y="1229.47" width="49.7" height="26.08" fill="#77AC30"/><rect x="1071.1" y="1255.05" width="49.7" height="8.64" fill="#7E2F8E"/><rect x="1071.1" y="1263.19" width="49.7" height="9.8" fill="#D95319"/><rect x="1071.1" y="1272.49" width="49.7" height="15.61" fill="#0072BD"/><rect x="1120.3" y="1055.1" width="49.7" height="3.99" fill="#A2142F"/><rect x="1120.3" y="1058.59" width="49.7" height="3.99" fill="#b8a052"/><rect x="1120.3" y="1062.07" width="49.7" height="3.41" fill="#6a3050"/><rect x="1120.3" y="1064.98" width="49.7" height="3.41" fill="#eea045"/><rect x="1120.3" y="1067.89" width="49.7" height="2.83" fill="#0072BD"/><rect x="1120.3" y="1070.21" width="49.7" height="24.33" fill="#4DBEEE"/><rect x="1120.3" y="1094.04" width="49.7" height="2.83" fill="#6a3050"/><rect x="1120.3" y="1096.37" width="49.7" height="5.15" fill="#EDB120"/><rect x="1120.3" y="1101.02" width="49.7" height="5.73" fill="#0072BD"/><rect x="1120.3" y="1106.25" width="49.7" height="2.24" fill="#A2142F"/><rect x="1120.3" y="1107.99" width="49.7" height="16.78" fill="#77AC30"/><rect x="1120.3" y="1124.27" width="49.7" height="5.73" fill="#EDB120"/><rect x="1120.3" y="1129.5" width="49.7" height="2.82" fill="#D95319"/><rect x="1120.3" y="1131.82" width="49.7" height="2.83" fill="#A2142F"/><rect x="1120.3" y="1134.15" width="49.7" height="20.26" fill="#4DBEEE"/><rect x="1120.3" y="1153.91" width="49.7" height="19.1" fill="#77AC30"/><rect x="1120.3" y="1172.51" width="49.7" height="2.83" fill="#EDB120"/><rect x="1120.3" y="1174.84" width="49.7" height="31.31" fill="#D95319"/><rect x="1120.3" y="1205.64" width="49.7" height="48.74" fill="#77AC30"/><rect x="1120.3" y="1253.89" width="49.7" height="16.78" fill="#7E2F8E"/><rect x="1120.3" y="1270.16" width="49.7" height="2.83" fill="#eea045"/><rect x="1120.3" y="1272.49" width="49.7" height="7.47" fill="#D95319"/><rect x="1120.3" y="1279.46" width="49.7" height="8.64" fill="#0072BD"/><rect x="1169.5" y="1055.1" width="49.7" height="3.99" fill="#A2142F"/><rect x="1169.5" y="1058.59" width="49.7" height="3.99" fill="#b8a052"/><rect x="1169.5" y="1062.07" width="49.7" height="3.41" fill="#6a3050"/><rect x="1169.5" y="1064.98" width="49.7" height="3.41" fill="#eea045"/><rect x="1169.5" y="1067.89" width="49.7" height="27.24" fill="#4DBEEE"/><rect x="1169.5" y="1094.62" width="49.7" height="2.82" fill="#6a3050"/><rect x="1169.5" y="1096.95" width="49.7" height="5.15" fill="#EDB120"/><rect x="1169.5" y="1101.6" width="49.7" height="5.15" fill="#0072BD"/><rect x="1169.5" y="1106.25" width="49.7" height="15.03" fill="#77AC30"/><rect x="1169.5" y="1120.78" width="49.7" height="5.73" fill="#EDB120"/><rect x="1169.5" y="1126.01" width="49.7" height="4.57" fill="#A2142F"/><rect x="1169.5" y="1130.08" width="49.7" height="20.84" fill="#4DBEEE"/><rect x="1169.5" y="1150.42" width="49.7" height="19.68" fill="#77AC30"/><rect x="1169.5" y="1169.61" width="49.7" height="2.83" fill="#EDB120"/><rect x="1169.5" y="1171.93" width="49.7" height="31.89" fill="#D95319"/><rect x="1169.5" y="1203.32" width="49.7" height="51.07" fill="#77AC30"/><rect x="1169.5" y="1253.89" width="49.7" height="17.94" fill="#7E2F8E"/><rect x="1169.5" y="1271.32" width="49.7" height="8.64" fill="#D95319"/><rect x="1169.5" y="1279.46" width="49.7" height="8.64" fill="#0072BD"/><rect x="1218.7" y="1055.1" width="49.7" height="3.99" fill="#A2142F"/><rect x="1218.7" y="1058.59" width="49.7" height="3.99" fill="#b8a052"/><rect x="1218.7" y="1062.07" width="49.7" height="3.41" fill="#6a3050"/><rect x="1218.7" y="1064.98" width="49.7" height="32.47" fill="#4DBEEE"/><rect x="1218.7" y="1096.95" width="49.7" height="2.83" fill="#6a3050"/><rect x="1218.7" y="1099.27" width="49.7" height="5.15" fill="#EDB120"/><rect x="1218.7" y="1103.92" width="49.7" height="6.89" fill="#0072BD"/><rect x="1218.7" y="1110.32" width="49.7" height="2.24" fill="#A2142F"/><rect x="1218.7" y="1112.06" width="49.7" height="14.45" fill="#77AC30"/><rect x="1218.7" y="1126.01" width="49.7" height="6.31" fill="#EDB120"/><rect x="1218.7" y="1131.82" width="49.7" height="3.99" fill="#A2142F"/><rect x="1218.7" y="1135.31" width="49.7" height="20.84" fill="#4DBEEE"/><rect x="1218.7" y="1155.66" width="49.7" height="19.68" fill="#77AC30"/><rect x="1218.7" y="1174.84" width="49.7" height="3.41" fill="#EDB120"/><rect x="1218.7" y="1177.74" width="49.7" height="29.56" fill="#D95319"/><rect x="1218.7" y="1206.81" width="49.7" height="48.74" fill="#77AC30"/><rect x="1218.7" y="1255.05" width="49.7" height="20.26" fill="#7E2F8E"/><rect x="1218.7" y="1274.81" width="49.7" height="5.15" fill="#D95319"/><rect x="1218.7" y="1279.46" width="49.7" height="8.64" fill="#0072BD"/></g><rect x="1071.7" y="1055.7" width="195.6" height="231.3" fill="none" stroke="#0d1b2a" stroke-width="1.3"/>
<g shape-rendering="crispEdges"><rect x="1328.3" y="1055.1" width="49.7" height="9.8" fill="#0072BD"/><rect x="1328.3" y="1064.4" width="49.7" height="3.41" fill="#6a3050"/><rect x="1328.3" y="1067.31" width="49.7" height="6.89" fill="#77AC30"/><rect x="1328.3" y="1073.7" width="49.7" height="5.15" fill="#7E2F8E"/><rect x="1328.3" y="1078.35" width="49.7" height="3.41" fill="#eea045"/><rect x="1328.3" y="1081.26" width="49.7" height="2.83" fill="#D95319"/><rect x="1328.3" y="1083.58" width="49.7" height="2.83" fill="#46609a"/><rect x="1328.3" y="1085.91" width="49.7" height="25.49" fill="#4DBEEE"/><rect x="1328.3" y="1110.9" width="49.7" height="2.24" fill="#b8a052"/><rect x="1328.3" y="1112.64" width="49.7" height="3.41" fill="#6a3050"/><rect x="1328.3" y="1115.55" width="49.7" height="7.47" fill="#EDB120"/><rect x="1328.3" y="1122.52" width="49.7" height="2.83" fill="#D95319"/><rect x="1328.3" y="1124.85" width="49.7" height="7.47" fill="#0072BD"/><rect x="1328.3" y="1131.82" width="49.7" height="2.83" fill="#6a3050"/><rect x="1328.3" y="1134.15" width="49.7" height="24.91" fill="#77AC30"/><rect x="1328.3" y="1158.56" width="49.7" height="5.73" fill="#EDB120"/><rect x="1328.3" y="1163.79" width="49.7" height="4.57" fill="#D95319"/><rect x="1328.3" y="1167.86" width="49.7" height="2.83" fill="#A2142F"/><rect x="1328.3" y="1170.19" width="49.7" height="16.77" fill="#4DBEEE"/><rect x="1328.3" y="1186.46" width="49.7" height="12.12" fill="#77AC30"/><rect x="1328.3" y="1198.09" width="49.7" height="2.83" fill="#EDB120"/><rect x="1328.3" y="1200.41" width="49.7" height="22.59" fill="#D95319"/><rect x="1328.3" y="1222.5" width="49.7" height="2.82" fill="#46609a"/><rect x="1328.3" y="1224.82" width="49.7" height="2.83" fill="#6a3050"/><rect x="1328.3" y="1227.15" width="49.7" height="2.83" fill="#4DBEEE"/><rect x="1328.3" y="1229.47" width="49.7" height="26.08" fill="#77AC30"/><rect x="1328.3" y="1255.05" width="49.7" height="8.64" fill="#7E2F8E"/><rect x="1328.3" y="1263.19" width="49.7" height="9.8" fill="#D95319"/><rect x="1328.3" y="1272.49" width="49.7" height="15.61" fill="#0072BD"/><rect x="1377.5" y="1055.1" width="49.7" height="3.99" fill="#A2142F"/><rect x="1377.5" y="1058.59" width="49.7" height="3.41" fill="#b8a052"/><rect x="1377.5" y="1061.49" width="49.7" height="2.24" fill="#77AC30"/><rect x="1377.5" y="1063.24" width="49.7" height="17.36" fill="#4DBEEE"/><rect x="1377.5" y="1080.09" width="49.7" height="2.24" fill="#6a3050"/><rect x="1377.5" y="1081.84" width="49.7" height="4.57" fill="#EDB120"/><rect x="1377.5" y="1085.91" width="49.7" height="1.66" fill="#D95319"/><rect x="1377.5" y="1087.07" width="49.7" height="4.57" fill="#0072BD"/><rect x="1377.5" y="1091.14" width="49.7" height="12.12" fill="#77AC30"/><rect x="1377.5" y="1102.76" width="49.7" height="3.99" fill="#EDB120"/><rect x="1377.5" y="1106.25" width="49.7" height="3.99" fill="#A2142F"/><rect x="1377.5" y="1109.74" width="49.7" height="12.71" fill="#4DBEEE"/><rect x="1377.5" y="1121.94" width="49.7" height="19.68" fill="#77AC30"/><rect x="1377.5" y="1141.12" width="49.7" height="2.82" fill="#6a3050"/><rect x="1377.5" y="1143.45" width="49.7" height="2.83" fill="#eea045"/><rect x="1377.5" y="1145.77" width="49.7" height="33.05" fill="#D95319"/><rect x="1377.5" y="1178.32" width="49.7" height="50.49" fill="#77AC30"/><rect x="1377.5" y="1228.31" width="49.7" height="17.94" fill="#7E2F8E"/><rect x="1377.5" y="1245.75" width="49.7" height="3.99" fill="#eea045"/><rect x="1377.5" y="1249.24" width="49.7" height="7.47" fill="#D95319"/><rect x="1377.5" y="1256.21" width="49.7" height="3.99" fill="#46609a"/><rect x="1377.5" y="1259.7" width="49.7" height="10.38" fill="#A2142F"/><rect x="1377.5" y="1269.58" width="49.7" height="3.41" fill="#2a7f7a"/><rect x="1377.5" y="1272.49" width="49.7" height="3.41" fill="#77AC30"/><rect x="1377.5" y="1275.39" width="49.7" height="4.57" fill="#EDB120"/><rect x="1377.5" y="1279.46" width="49.7" height="8.64" fill="#0072BD"/><rect x="1426.7" y="1055.1" width="49.7" height="3.99" fill="#A2142F"/><rect x="1426.7" y="1058.59" width="49.7" height="3.41" fill="#b8a052"/><rect x="1426.7" y="1061.49" width="49.7" height="3.41" fill="#6a3050"/><rect x="1426.7" y="1064.4" width="49.7" height="18.52" fill="#4DBEEE"/><rect x="1426.7" y="1082.42" width="49.7" height="2.24" fill="#6a3050"/><rect x="1426.7" y="1084.16" width="49.7" height="2.83" fill="#EDB120"/><rect x="1426.7" y="1086.49" width="49.7" height="5.15" fill="#0072BD"/><rect x="1426.7" y="1091.14" width="49.7" height="10.38" fill="#77AC30"/><rect x="1426.7" y="1101.02" width="49.7" height="3.41" fill="#EDB120"/><rect x="1426.7" y="1103.92" width="49.7" height="3.99" fill="#A2142F"/><rect x="1426.7" y="1107.41" width="49.7" height="12.71" fill="#4DBEEE"/><rect x="1426.7" y="1119.62" width="49.7" height="19.1" fill="#77AC30"/><rect x="1426.7" y="1138.22" width="49.7" height="2.82" fill="#6a3050"/><rect x="1426.7" y="1140.54" width="49.7" height="2.83" fill="#eea045"/><rect x="1426.7" y="1142.87" width="49.7" height="31.89" fill="#D95319"/><rect x="1426.7" y="1174.26" width="49.7" height="52.23" fill="#77AC30"/><rect x="1426.7" y="1225.99" width="49.7" height="20.26" fill="#7E2F8E"/><rect x="1426.7" y="1245.75" width="49.7" height="3.99" fill="#eea045"/><rect x="1426.7" y="1249.24" width="49.7" height="7.47" fill="#D95319"/><rect x="1426.7" y="1256.21" width="49.7" height="3.99" fill="#46609a"/><rect x="1426.7" y="1259.7" width="49.7" height="10.38" fill="#A2142F"/><rect x="1426.7" y="1269.58" width="49.7" height="3.41" fill="#2a7f7a"/><rect x="1426.7" y="1272.49" width="49.7" height="3.41" fill="#77AC30"/><rect x="1426.7" y="1275.39" width="49.7" height="4.57" fill="#EDB120"/><rect x="1426.7" y="1279.46" width="49.7" height="8.64" fill="#0072BD"/><rect x="1475.9" y="1055.1" width="49.7" height="3.99" fill="#A2142F"/><rect x="1475.9" y="1058.59" width="49.7" height="3.41" fill="#b8a052"/><rect x="1475.9" y="1061.49" width="49.7" height="3.99" fill="#6a3050"/><rect x="1475.9" y="1064.98" width="49.7" height="19.1" fill="#4DBEEE"/><rect x="1475.9" y="1083.58" width="49.7" height="2.83" fill="#b8a052"/><rect x="1475.9" y="1085.91" width="49.7" height="2.82" fill="#2a7f7a"/><rect x="1475.9" y="1088.23" width="49.7" height="10.38" fill="#77AC30"/><rect x="1475.9" y="1098.11" width="49.7" height="2.83" fill="#EDB120"/><rect x="1475.9" y="1100.44" width="49.7" height="4.57" fill="#A2142F"/><rect x="1475.9" y="1104.51" width="49.7" height="12.71" fill="#4DBEEE"/><rect x="1475.9" y="1116.71" width="49.7" height="19.1" fill="#77AC30"/><rect x="1475.9" y="1135.31" width="49.7" height="2.82" fill="#6a3050"/><rect x="1475.9" y="1137.64" width="49.7" height="2.83" fill="#eea045"/><rect x="1475.9" y="1139.96" width="49.7" height="30.73" fill="#D95319"/><rect x="1475.9" y="1170.19" width="49.7" height="54.56" fill="#77AC30"/><rect x="1475.9" y="1224.24" width="49.7" height="20.84" fill="#7E2F8E"/><rect x="1475.9" y="1244.59" width="49.7" height="3.99" fill="#eea045"/><rect x="1475.9" y="1248.07" width="49.7" height="6.31" fill="#D95319"/><rect x="1475.9" y="1253.89" width="49.7" height="3.99" fill="#46609a"/><rect x="1475.9" y="1257.38" width="49.7" height="9.8" fill="#A2142F"/><rect x="1475.9" y="1266.67" width="49.7" height="3.99" fill="#4DBEEE"/><rect x="1475.9" y="1270.16" width="49.7" height="3.99" fill="#77AC30"/><rect x="1475.9" y="1273.65" width="49.7" height="3.99" fill="#EDB120"/><rect x="1475.9" y="1277.14" width="49.7" height="10.96" fill="#0072BD"/></g><rect x="1328.9" y="1055.7" width="195.6" height="231.3" fill="none" stroke="#0d1b2a" stroke-width="1.3"/>
<g shape-rendering="crispEdges"><rect x="1588" y="1055.1" width="49.7" height="9.8" fill="#0072BD"/><rect x="1588" y="1064.4" width="49.7" height="3.41" fill="#6a3050"/><rect x="1588" y="1067.31" width="49.7" height="6.89" fill="#77AC30"/><rect x="1588" y="1073.7" width="49.7" height="5.15" fill="#7E2F8E"/><rect x="1588" y="1078.35" width="49.7" height="3.41" fill="#eea045"/><rect x="1588" y="1081.26" width="49.7" height="2.83" fill="#D95319"/><rect x="1588" y="1083.58" width="49.7" height="2.83" fill="#46609a"/><rect x="1588" y="1085.91" width="49.7" height="25.49" fill="#4DBEEE"/><rect x="1588" y="1110.9" width="49.7" height="2.24" fill="#b8a052"/><rect x="1588" y="1112.64" width="49.7" height="3.41" fill="#6a3050"/><rect x="1588" y="1115.55" width="49.7" height="7.47" fill="#EDB120"/><rect x="1588" y="1122.52" width="49.7" height="2.83" fill="#D95319"/><rect x="1588" y="1124.85" width="49.7" height="7.47" fill="#0072BD"/><rect x="1588" y="1131.82" width="49.7" height="2.83" fill="#6a3050"/><rect x="1588" y="1134.15" width="49.7" height="24.91" fill="#77AC30"/><rect x="1588" y="1158.56" width="49.7" height="5.73" fill="#EDB120"/><rect x="1588" y="1163.79" width="49.7" height="4.57" fill="#D95319"/><rect x="1588" y="1167.86" width="49.7" height="2.83" fill="#A2142F"/><rect x="1588" y="1170.19" width="49.7" height="16.77" fill="#4DBEEE"/><rect x="1588" y="1186.46" width="49.7" height="12.12" fill="#77AC30"/><rect x="1588" y="1198.09" width="49.7" height="2.83" fill="#EDB120"/><rect x="1588" y="1200.41" width="49.7" height="22.59" fill="#D95319"/><rect x="1588" y="1222.5" width="49.7" height="2.82" fill="#46609a"/><rect x="1588" y="1224.82" width="49.7" height="2.83" fill="#6a3050"/><rect x="1588" y="1227.15" width="49.7" height="2.83" fill="#4DBEEE"/><rect x="1588" y="1229.47" width="49.7" height="26.08" fill="#77AC30"/><rect x="1588" y="1255.05" width="49.7" height="8.64" fill="#7E2F8E"/><rect x="1588" y="1263.19" width="49.7" height="9.8" fill="#D95319"/><rect x="1588" y="1272.49" width="49.7" height="15.61" fill="#0072BD"/><rect x="1637.2" y="1055.1" width="49.7" height="3.99" fill="#A2142F"/><rect x="1637.2" y="1058.59" width="49.7" height="2.24" fill="#6a3050"/><rect x="1637.2" y="1060.33" width="49.7" height="3.99" fill="#b8a052"/><rect x="1637.2" y="1063.82" width="49.7" height="4.57" fill="#0072BD"/><rect x="1637.2" y="1067.89" width="49.7" height="25.49" fill="#4DBEEE"/><rect x="1637.2" y="1092.88" width="49.7" height="2.24" fill="#6a3050"/><rect x="1637.2" y="1094.62" width="49.7" height="5.15" fill="#EDB120"/><rect x="1637.2" y="1099.27" width="49.7" height="5.73" fill="#0072BD"/><rect x="1637.2" y="1104.51" width="49.7" height="2.83" fill="#A2142F"/><rect x="1637.2" y="1106.83" width="49.7" height="16.77" fill="#77AC30"/><rect x="1637.2" y="1123.11" width="49.7" height="5.15" fill="#EDB120"/><rect x="1637.2" y="1127.76" width="49.7" height="4.57" fill="#D95319"/><rect x="1637.2" y="1131.82" width="49.7" height="2.24" fill="#A2142F"/><rect x="1637.2" y="1133.57" width="49.7" height="19.68" fill="#4DBEEE"/><rect x="1637.2" y="1152.75" width="49.7" height="19.1" fill="#77AC30"/><rect x="1637.2" y="1171.35" width="49.7" height="3.41" fill="#EDB120"/><rect x="1637.2" y="1174.26" width="49.7" height="31.31" fill="#D95319"/><rect x="1637.2" y="1205.06" width="49.7" height="49.91" fill="#77AC30"/><rect x="1637.2" y="1254.47" width="49.7" height="16.19" fill="#7E2F8E"/><rect x="1637.2" y="1270.16" width="49.7" height="3.41" fill="#eea045"/><rect x="1637.2" y="1273.07" width="49.7" height="7.47" fill="#D95319"/><rect x="1637.2" y="1280.04" width="49.7" height="8.06" fill="#0072BD"/><rect x="1686.4" y="1055.1" width="49.7" height="3.99" fill="#A2142F"/><rect x="1686.4" y="1058.59" width="49.7" height="2.24" fill="#6a3050"/><rect x="1686.4" y="1060.33" width="49.7" height="3.99" fill="#b8a052"/><rect x="1686.4" y="1063.82" width="49.7" height="4.57" fill="#0072BD"/><rect x="1686.4" y="1067.89" width="49.7" height="27.24" fill="#4DBEEE"/><rect x="1686.4" y="1094.62" width="49.7" height="2.24" fill="#6a3050"/><rect x="1686.4" y="1096.37" width="49.7" height="5.15" fill="#EDB120"/><rect x="1686.4" y="1101.02" width="49.7" height="5.73" fill="#0072BD"/><rect x="1686.4" y="1106.25" width="49.7" height="2.82" fill="#A2142F"/><rect x="1686.4" y="1108.57" width="49.7" height="16.78" fill="#77AC30"/><rect x="1686.4" y="1124.85" width="49.7" height="3.41" fill="#EDB120"/><rect x="1686.4" y="1127.76" width="49.7" height="6.89" fill="#A2142F"/><rect x="1686.4" y="1134.15" width="49.7" height="20.26" fill="#4DBEEE"/><rect x="1686.4" y="1153.91" width="49.7" height="19.1" fill="#77AC30"/><rect x="1686.4" y="1172.51" width="49.7" height="2.83" fill="#EDB120"/><rect x="1686.4" y="1174.84" width="49.7" height="29.56" fill="#D95319"/><rect x="1686.4" y="1203.9" width="49.7" height="52.81" fill="#77AC30"/><rect x="1686.4" y="1256.21" width="49.7" height="19.1" fill="#7E2F8E"/><rect x="1686.4" y="1274.81" width="49.7" height="5.73" fill="#D95319"/><rect x="1686.4" y="1280.04" width="49.7" height="8.06" fill="#0072BD"/><rect x="1735.6" y="1055.1" width="49.7" height="3.99" fill="#A2142F"/><rect x="1735.6" y="1058.59" width="49.7" height="2.24" fill="#6a3050"/><rect x="1735.6" y="1060.33" width="49.7" height="3.99" fill="#b8a052"/><rect x="1735.6" y="1063.82" width="49.7" height="2.24" fill="#6a3050"/><rect x="1735.6" y="1065.56" width="49.7" height="31.89" fill="#4DBEEE"/><rect x="1735.6" y="1096.95" width="49.7" height="2.24" fill="#6a3050"/><rect x="1735.6" y="1098.69" width="49.7" height="5.73" fill="#EDB120"/><rect x="1735.6" y="1103.92" width="49.7" height="5.73" fill="#0072BD"/><rect x="1735.6" y="1109.16" width="49.7" height="2.82" fill="#A2142F"/><rect x="1735.6" y="1111.48" width="49.7" height="13.87" fill="#77AC30"/><rect x="1735.6" y="1124.85" width="49.7" height="6.31" fill="#EDB120"/><rect x="1735.6" y="1130.66" width="49.7" height="4.57" fill="#A2142F"/><rect x="1735.6" y="1134.73" width="49.7" height="20.84" fill="#4DBEEE"/><rect x="1735.6" y="1155.07" width="49.7" height="16.78" fill="#77AC30"/><rect x="1735.6" y="1171.35" width="49.7" height="2.83" fill="#EDB120"/><rect x="1735.6" y="1173.67" width="49.7" height="29.56" fill="#D95319"/><rect x="1735.6" y="1202.74" width="49.7" height="51.65" fill="#77AC30"/><rect x="1735.6" y="1253.89" width="49.7" height="19.1" fill="#7E2F8E"/><rect x="1735.6" y="1272.49" width="49.7" height="8.06" fill="#D95319"/><rect x="1735.6" y="1280.04" width="49.7" height="8.06" fill="#0072BD"/></g><rect x="1588.6" y="1055.7" width="195.6" height="231.3" fill="none" stroke="#0d1b2a" stroke-width="1.3"/>
<g shape-rendering="crispEdges"><rect x="295" y="1300.5" width="49.7" height="21.43" fill="#77AC30"/><rect x="295" y="1321.43" width="49.7" height="6.9" fill="#7E2F8E"/><rect x="295" y="1327.83" width="49.7" height="5.73" fill="#EDB120"/><rect x="295" y="1333.06" width="49.7" height="4.57" fill="#D95319"/><rect x="295" y="1337.13" width="49.7" height="9.22" fill="#0072BD"/><rect x="295" y="1345.85" width="49.7" height="18.52" fill="#A2142F"/><rect x="295" y="1363.88" width="49.7" height="15.62" fill="#4DBEEE"/><rect x="295" y="1378.99" width="49.7" height="5.73" fill="#77AC30"/><rect x="295" y="1384.23" width="49.7" height="31.32" fill="#7E2F8E"/><rect x="295" y="1415.04" width="49.7" height="2.83" fill="#eea045"/><rect x="295" y="1417.37" width="49.7" height="5.15" fill="#D95319"/><rect x="295" y="1422.02" width="49.7" height="16.2" fill="#0072BD"/><rect x="295" y="1437.72" width="49.7" height="8.64" fill="#A2142F"/><rect x="295" y="1445.86" width="49.7" height="14.45" fill="#4DBEEE"/><rect x="295" y="1459.82" width="49.7" height="16.2" fill="#77AC30"/><rect x="295" y="1475.51" width="49.7" height="4.57" fill="#7E2F8E"/><rect x="295" y="1479.58" width="49.7" height="13.87" fill="#EDB120"/><rect x="295" y="1492.96" width="49.7" height="2.24" fill="#D95319"/><rect x="295" y="1494.7" width="49.7" height="36.9" fill="#0072BD"/><rect x="344.2" y="1300.5" width="49.7" height="20.27" fill="#77AC30"/><rect x="344.2" y="1320.27" width="49.7" height="4.57" fill="#7E2F8E"/><rect x="344.2" y="1324.34" width="49.7" height="6.31" fill="#EDB120"/><rect x="344.2" y="1330.15" width="49.7" height="2.24" fill="#D95319"/><rect x="344.2" y="1331.9" width="49.7" height="12.71" fill="#0072BD"/><rect x="344.2" y="1344.11" width="49.7" height="25.5" fill="#A2142F"/><rect x="344.2" y="1369.11" width="49.7" height="7.48" fill="#4DBEEE"/><rect x="344.2" y="1376.09" width="49.7" height="2.83" fill="#77AC30"/><rect x="344.2" y="1378.41" width="49.7" height="40.62" fill="#7E2F8E"/><rect x="344.2" y="1418.53" width="49.7" height="5.73" fill="#EDB120"/><rect x="344.2" y="1423.77" width="49.7" height="2.24" fill="#D95319"/><rect x="344.2" y="1425.51" width="49.7" height="19.69" fill="#0072BD"/><rect x="344.2" y="1444.7" width="49.7" height="9.22" fill="#A2142F"/><rect x="344.2" y="1453.42" width="49.7" height="17.36" fill="#4DBEEE"/><rect x="344.2" y="1470.28" width="49.7" height="17.36" fill="#77AC30"/><rect x="344.2" y="1487.14" width="49.7" height="4.57" fill="#7E2F8E"/><rect x="344.2" y="1491.21" width="49.7" height="18.52" fill="#EDB120"/><rect x="344.2" y="1509.24" width="49.7" height="22.36" fill="#0072BD"/><rect x="393.4" y="1300.5" width="49.7" height="12.71" fill="#77AC30"/><rect x="393.4" y="1312.71" width="49.7" height="2.83" fill="#6a3050"/><rect x="393.4" y="1315.04" width="49.7" height="3.41" fill="#eea045"/><rect x="393.4" y="1317.94" width="49.7" height="2.24" fill="#D95319"/><rect x="393.4" y="1319.69" width="49.7" height="9.22" fill="#0072BD"/><rect x="393.4" y="1328.41" width="49.7" height="41.2" fill="#A2142F"/><rect x="393.4" y="1369.11" width="49.7" height="5.73" fill="#4DBEEE"/><rect x="393.4" y="1374.34" width="49.7" height="49.92" fill="#7E2F8E"/><rect x="393.4" y="1423.77" width="49.7" height="5.73" fill="#EDB120"/><rect x="393.4" y="1429" width="49.7" height="2.24" fill="#D95319"/><rect x="393.4" y="1430.74" width="49.7" height="23.76" fill="#0072BD"/><rect x="393.4" y="1454" width="49.7" height="9.22" fill="#A2142F"/><rect x="393.4" y="1462.72" width="49.7" height="9.8" fill="#4DBEEE"/><rect x="393.4" y="1472.03" width="49.7" height="22.59" fill="#77AC30"/><rect x="393.4" y="1494.12" width="49.7" height="3.41" fill="#6a3050"/><rect x="393.4" y="1497.03" width="49.7" height="22.59" fill="#EDB120"/><rect x="393.4" y="1519.12" width="49.7" height="12.48" fill="#0072BD"/><rect x="442.6" y="1300.5" width="49.7" height="10.38" fill="#77AC30"/><rect x="442.6" y="1310.38" width="49.7" height="2.24" fill="#6a3050"/><rect x="442.6" y="1312.13" width="49.7" height="4.57" fill="#eea045"/><rect x="442.6" y="1316.2" width="49.7" height="2.24" fill="#D95319"/><rect x="442.6" y="1317.94" width="49.7" height="7.48" fill="#0072BD"/><rect x="442.6" y="1324.92" width="49.7" height="40.62" fill="#A2142F"/><rect x="442.6" y="1365.04" width="49.7" height="5.73" fill="#4DBEEE"/><rect x="442.6" y="1370.27" width="49.7" height="52.83" fill="#7E2F8E"/><rect x="442.6" y="1422.6" width="49.7" height="5.15" fill="#eea045"/><rect x="442.6" y="1427.25" width="49.7" height="1.66" fill="#D95319"/><rect x="442.6" y="1428.42" width="49.7" height="25.5" fill="#0072BD"/><rect x="442.6" y="1453.42" width="49.7" height="9.22" fill="#A2142F"/><rect x="442.6" y="1462.14" width="49.7" height="7.48" fill="#4DBEEE"/><rect x="442.6" y="1469.12" width="49.7" height="26.08" fill="#77AC30"/><rect x="442.6" y="1494.7" width="49.7" height="2.24" fill="#6a3050"/><rect x="442.6" y="1496.45" width="49.7" height="25.5" fill="#EDB120"/><rect x="442.6" y="1521.45" width="49.7" height="10.15" fill="#0072BD"/></g><rect x="295.6" y="1301.1" width="195.6" height="229.4" fill="none" stroke="#0d1b2a" stroke-width="1.3"/>
<g shape-rendering="crispEdges"><rect x="554" y="1300.5" width="49.7" height="21.43" fill="#77AC30"/><rect x="554" y="1321.43" width="49.7" height="6.9" fill="#7E2F8E"/><rect x="554" y="1327.83" width="49.7" height="5.73" fill="#EDB120"/><rect x="554" y="1333.06" width="49.7" height="4.57" fill="#D95319"/><rect x="554" y="1337.13" width="49.7" height="9.22" fill="#0072BD"/><rect x="554" y="1345.85" width="49.7" height="18.52" fill="#A2142F"/><rect x="554" y="1363.88" width="49.7" height="15.62" fill="#4DBEEE"/><rect x="554" y="1378.99" width="49.7" height="5.73" fill="#77AC30"/><rect x="554" y="1384.23" width="49.7" height="31.32" fill="#7E2F8E"/><rect x="554" y="1415.04" width="49.7" height="2.83" fill="#eea045"/><rect x="554" y="1417.37" width="49.7" height="5.15" fill="#D95319"/><rect x="554" y="1422.02" width="49.7" height="16.2" fill="#0072BD"/><rect x="554" y="1437.72" width="49.7" height="8.64" fill="#A2142F"/><rect x="554" y="1445.86" width="49.7" height="14.45" fill="#4DBEEE"/><rect x="554" y="1459.82" width="49.7" height="16.2" fill="#77AC30"/><rect x="554" y="1475.51" width="49.7" height="4.57" fill="#7E2F8E"/><rect x="554" y="1479.58" width="49.7" height="13.87" fill="#EDB120"/><rect x="554" y="1492.96" width="49.7" height="2.24" fill="#D95319"/><rect x="554" y="1494.7" width="49.7" height="36.9" fill="#0072BD"/><rect x="603.2" y="1300.5" width="49.7" height="15.62" fill="#77AC30"/><rect x="603.2" y="1315.62" width="49.7" height="5.15" fill="#7E2F8E"/><rect x="603.2" y="1320.27" width="49.7" height="5.73" fill="#EDB120"/><rect x="603.2" y="1325.5" width="49.7" height="2.24" fill="#D95319"/><rect x="603.2" y="1327.25" width="49.7" height="8.06" fill="#0072BD"/><rect x="603.2" y="1334.81" width="49.7" height="32.48" fill="#A2142F"/><rect x="603.2" y="1366.78" width="49.7" height="6.31" fill="#4DBEEE"/><rect x="603.2" y="1372.6" width="49.7" height="2.24" fill="#77AC30"/><rect x="603.2" y="1374.34" width="49.7" height="35.97" fill="#7E2F8E"/><rect x="603.2" y="1409.81" width="49.7" height="2.24" fill="#eea045"/><rect x="603.2" y="1411.56" width="49.7" height="5.15" fill="#D95319"/><rect x="603.2" y="1416.21" width="49.7" height="28.99" fill="#0072BD"/><rect x="603.2" y="1444.7" width="49.7" height="11.55" fill="#A2142F"/><rect x="603.2" y="1455.75" width="49.7" height="14.45" fill="#4DBEEE"/><rect x="603.2" y="1469.7" width="49.7" height="17.36" fill="#77AC30"/><rect x="603.2" y="1486.56" width="49.7" height="2.83" fill="#6a3050"/><rect x="603.2" y="1488.89" width="49.7" height="18.52" fill="#EDB120"/><rect x="603.2" y="1506.91" width="49.7" height="24.69" fill="#0072BD"/><rect x="652.4" y="1300.5" width="49.7" height="10.38" fill="#77AC30"/><rect x="652.4" y="1310.38" width="49.7" height="2.24" fill="#6a3050"/><rect x="652.4" y="1312.13" width="49.7" height="3.99" fill="#eea045"/><rect x="652.4" y="1315.62" width="49.7" height="2.83" fill="#D95319"/><rect x="652.4" y="1317.94" width="49.7" height="7.48" fill="#0072BD"/><rect x="652.4" y="1324.92" width="49.7" height="42.95" fill="#A2142F"/><rect x="652.4" y="1367.37" width="49.7" height="3.41" fill="#4DBEEE"/><rect x="652.4" y="1370.27" width="49.7" height="42.36" fill="#7E2F8E"/><rect x="652.4" y="1412.14" width="49.7" height="2.24" fill="#eea045"/><rect x="652.4" y="1413.88" width="49.7" height="2.83" fill="#D95319"/><rect x="652.4" y="1416.21" width="49.7" height="33.06" fill="#0072BD"/><rect x="652.4" y="1448.77" width="49.7" height="10.97" fill="#A2142F"/><rect x="652.4" y="1459.23" width="49.7" height="10.38" fill="#4DBEEE"/><rect x="652.4" y="1469.12" width="49.7" height="19.11" fill="#77AC30"/><rect x="652.4" y="1487.72" width="49.7" height="2.24" fill="#6a3050"/><rect x="652.4" y="1489.47" width="49.7" height="23.18" fill="#EDB120"/><rect x="652.4" y="1512.14" width="49.7" height="19.46" fill="#0072BD"/><rect x="701.6" y="1300.5" width="49.7" height="8.64" fill="#77AC30"/><rect x="701.6" y="1308.64" width="49.7" height="2.24" fill="#6a3050"/><rect x="701.6" y="1310.38" width="49.7" height="3.99" fill="#eea045"/><rect x="701.6" y="1313.87" width="49.7" height="2.24" fill="#D95319"/><rect x="701.6" y="1315.62" width="49.7" height="5.15" fill="#0072BD"/><rect x="701.6" y="1320.27" width="49.7" height="46.43" fill="#A2142F"/><rect x="701.6" y="1366.2" width="49.7" height="2.83" fill="#4DBEEE"/><rect x="701.6" y="1368.53" width="49.7" height="41.2" fill="#7E2F8E"/><rect x="701.6" y="1409.23" width="49.7" height="2.83" fill="#eea045"/><rect x="701.6" y="1411.56" width="49.7" height="3.41" fill="#D95319"/><rect x="701.6" y="1414.46" width="49.7" height="34.81" fill="#0072BD"/><rect x="701.6" y="1448.77" width="49.7" height="11.55" fill="#A2142F"/><rect x="701.6" y="1459.82" width="49.7" height="7.48" fill="#4DBEEE"/><rect x="701.6" y="1466.79" width="49.7" height="20.85" fill="#77AC30"/><rect x="701.6" y="1487.14" width="49.7" height="2.83" fill="#6a3050"/><rect x="701.6" y="1489.47" width="49.7" height="24.92" fill="#EDB120"/><rect x="701.6" y="1513.89" width="49.7" height="17.71" fill="#0072BD"/></g><rect x="554.6" y="1301.1" width="195.6" height="229.4" fill="none" stroke="#0d1b2a" stroke-width="1.3"/>
<g shape-rendering="crispEdges"><rect x="811.5" y="1300.5" width="49.7" height="21.43" fill="#77AC30"/><rect x="811.5" y="1321.43" width="49.7" height="6.9" fill="#7E2F8E"/><rect x="811.5" y="1327.83" width="49.7" height="5.73" fill="#EDB120"/><rect x="811.5" y="1333.06" width="49.7" height="4.57" fill="#D95319"/><rect x="811.5" y="1337.13" width="49.7" height="9.22" fill="#0072BD"/><rect x="811.5" y="1345.85" width="49.7" height="18.52" fill="#A2142F"/><rect x="811.5" y="1363.88" width="49.7" height="15.62" fill="#4DBEEE"/><rect x="811.5" y="1378.99" width="49.7" height="5.73" fill="#77AC30"/><rect x="811.5" y="1384.23" width="49.7" height="31.32" fill="#7E2F8E"/><rect x="811.5" y="1415.04" width="49.7" height="2.83" fill="#eea045"/><rect x="811.5" y="1417.37" width="49.7" height="5.15" fill="#D95319"/><rect x="811.5" y="1422.02" width="49.7" height="16.2" fill="#0072BD"/><rect x="811.5" y="1437.72" width="49.7" height="8.64" fill="#A2142F"/><rect x="811.5" y="1445.86" width="49.7" height="14.45" fill="#4DBEEE"/><rect x="811.5" y="1459.82" width="49.7" height="16.2" fill="#77AC30"/><rect x="811.5" y="1475.51" width="49.7" height="4.57" fill="#7E2F8E"/><rect x="811.5" y="1479.58" width="49.7" height="13.87" fill="#EDB120"/><rect x="811.5" y="1492.96" width="49.7" height="2.24" fill="#D95319"/><rect x="811.5" y="1494.7" width="49.7" height="36.9" fill="#0072BD"/><rect x="860.7" y="1300.5" width="49.7" height="20.85" fill="#77AC30"/><rect x="860.7" y="1320.85" width="49.7" height="3.99" fill="#7E2F8E"/><rect x="860.7" y="1324.34" width="49.7" height="5.73" fill="#EDB120"/><rect x="860.7" y="1329.57" width="49.7" height="2.24" fill="#D95319"/><rect x="860.7" y="1331.32" width="49.7" height="12.71" fill="#0072BD"/><rect x="860.7" y="1343.53" width="49.7" height="20.27" fill="#A2142F"/><rect x="860.7" y="1363.3" width="49.7" height="9.22" fill="#4DBEEE"/><rect x="860.7" y="1372.02" width="49.7" height="2.24" fill="#77AC30"/><rect x="860.7" y="1373.76" width="49.7" height="41.78" fill="#7E2F8E"/><rect x="860.7" y="1415.04" width="49.7" height="2.83" fill="#eea045"/><rect x="860.7" y="1417.37" width="49.7" height="4.57" fill="#D95319"/><rect x="860.7" y="1421.44" width="49.7" height="19.69" fill="#0072BD"/><rect x="860.7" y="1440.63" width="49.7" height="11.55" fill="#A2142F"/><rect x="860.7" y="1451.67" width="49.7" height="16.78" fill="#4DBEEE"/><rect x="860.7" y="1467.96" width="49.7" height="19.69" fill="#77AC30"/><rect x="860.7" y="1487.14" width="49.7" height="4.57" fill="#7E2F8E"/><rect x="860.7" y="1491.21" width="49.7" height="19.11" fill="#EDB120"/><rect x="860.7" y="1509.82" width="49.7" height="21.78" fill="#0072BD"/><rect x="909.9" y="1300.5" width="49.7" height="13.29" fill="#77AC30"/><rect x="909.9" y="1313.29" width="49.7" height="2.24" fill="#6a3050"/><rect x="909.9" y="1315.04" width="49.7" height="3.41" fill="#eea045"/><rect x="909.9" y="1317.94" width="49.7" height="2.24" fill="#D95319"/><rect x="909.9" y="1319.69" width="49.7" height="9.8" fill="#0072BD"/><rect x="909.9" y="1328.99" width="49.7" height="33.06" fill="#A2142F"/><rect x="909.9" y="1361.55" width="49.7" height="5.73" fill="#4DBEEE"/><rect x="909.9" y="1366.78" width="49.7" height="52.25" fill="#7E2F8E"/><rect x="909.9" y="1418.53" width="49.7" height="3.41" fill="#eea045"/><rect x="909.9" y="1421.44" width="49.7" height="2.83" fill="#D95319"/><rect x="909.9" y="1423.77" width="49.7" height="26.66" fill="#0072BD"/><rect x="909.9" y="1449.93" width="49.7" height="9.8" fill="#A2142F"/><rect x="909.9" y="1459.23" width="49.7" height="9.22" fill="#4DBEEE"/><rect x="909.9" y="1467.96" width="49.7" height="26.66" fill="#77AC30"/><rect x="909.9" y="1494.12" width="49.7" height="2.24" fill="#6a3050"/><rect x="909.9" y="1495.86" width="49.7" height="24.34" fill="#EDB120"/><rect x="909.9" y="1519.7" width="49.7" height="11.9" fill="#0072BD"/><rect x="959.1" y="1300.5" width="49.7" height="10.97" fill="#77AC30"/><rect x="959.1" y="1310.97" width="49.7" height="2.24" fill="#6a3050"/><rect x="959.1" y="1312.71" width="49.7" height="3.99" fill="#eea045"/><rect x="959.1" y="1316.2" width="49.7" height="2.24" fill="#D95319"/><rect x="959.1" y="1317.94" width="49.7" height="9.22" fill="#0072BD"/><rect x="959.1" y="1326.66" width="49.7" height="34.22" fill="#A2142F"/><rect x="959.1" y="1360.39" width="49.7" height="2.83" fill="#4DBEEE"/><rect x="959.1" y="1362.71" width="49.7" height="54.57" fill="#7E2F8E"/><rect x="959.1" y="1416.79" width="49.7" height="3.41" fill="#eea045"/><rect x="959.1" y="1419.7" width="49.7" height="2.83" fill="#D95319"/><rect x="959.1" y="1422.02" width="49.7" height="25.5" fill="#0072BD"/><rect x="959.1" y="1447.02" width="49.7" height="9.22" fill="#A2142F"/><rect x="959.1" y="1455.75" width="49.7" height="9.8" fill="#4DBEEE"/><rect x="959.1" y="1465.05" width="49.7" height="29.57" fill="#77AC30"/><rect x="959.1" y="1494.12" width="49.7" height="3.41" fill="#6a3050"/><rect x="959.1" y="1497.03" width="49.7" height="24.92" fill="#EDB120"/><rect x="959.1" y="1521.45" width="49.7" height="10.15" fill="#0072BD"/></g><rect x="812.1" y="1301.1" width="195.6" height="229.4" fill="none" stroke="#0d1b2a" stroke-width="1.3"/>
<g shape-rendering="crispEdges"><rect x="1071.1" y="1300.5" width="49.7" height="21.43" fill="#77AC30"/><rect x="1071.1" y="1321.43" width="49.7" height="6.9" fill="#7E2F8E"/><rect x="1071.1" y="1327.83" width="49.7" height="5.73" fill="#EDB120"/><rect x="1071.1" y="1333.06" width="49.7" height="4.57" fill="#D95319"/><rect x="1071.1" y="1337.13" width="49.7" height="9.22" fill="#0072BD"/><rect x="1071.1" y="1345.85" width="49.7" height="18.52" fill="#A2142F"/><rect x="1071.1" y="1363.88" width="49.7" height="15.62" fill="#4DBEEE"/><rect x="1071.1" y="1378.99" width="49.7" height="5.73" fill="#77AC30"/><rect x="1071.1" y="1384.23" width="49.7" height="31.32" fill="#7E2F8E"/><rect x="1071.1" y="1415.04" width="49.7" height="2.83" fill="#eea045"/><rect x="1071.1" y="1417.37" width="49.7" height="5.15" fill="#D95319"/><rect x="1071.1" y="1422.02" width="49.7" height="16.2" fill="#0072BD"/><rect x="1071.1" y="1437.72" width="49.7" height="8.64" fill="#A2142F"/><rect x="1071.1" y="1445.86" width="49.7" height="14.45" fill="#4DBEEE"/><rect x="1071.1" y="1459.82" width="49.7" height="16.2" fill="#77AC30"/><rect x="1071.1" y="1475.51" width="49.7" height="4.57" fill="#7E2F8E"/><rect x="1071.1" y="1479.58" width="49.7" height="13.87" fill="#EDB120"/><rect x="1071.1" y="1492.96" width="49.7" height="2.24" fill="#D95319"/><rect x="1071.1" y="1494.7" width="49.7" height="36.9" fill="#0072BD"/><rect x="1120.3" y="1300.5" width="49.7" height="21.43" fill="#77AC30"/><rect x="1120.3" y="1321.43" width="49.7" height="5.15" fill="#7E2F8E"/><rect x="1120.3" y="1326.08" width="49.7" height="6.31" fill="#EDB120"/><rect x="1120.3" y="1331.9" width="49.7" height="2.24" fill="#D95319"/><rect x="1120.3" y="1333.64" width="49.7" height="11.55" fill="#0072BD"/><rect x="1120.3" y="1344.69" width="49.7" height="20.27" fill="#A2142F"/><rect x="1120.3" y="1364.46" width="49.7" height="10.97" fill="#4DBEEE"/><rect x="1120.3" y="1374.92" width="49.7" height="2.24" fill="#77AC30"/><rect x="1120.3" y="1376.67" width="49.7" height="40.62" fill="#7E2F8E"/><rect x="1120.3" y="1416.79" width="49.7" height="2.83" fill="#eea045"/><rect x="1120.3" y="1419.11" width="49.7" height="4.57" fill="#D95319"/><rect x="1120.3" y="1423.18" width="49.7" height="20.27" fill="#0072BD"/><rect x="1120.3" y="1442.95" width="49.7" height="11.55" fill="#A2142F"/><rect x="1120.3" y="1454" width="49.7" height="15.62" fill="#4DBEEE"/><rect x="1120.3" y="1469.12" width="49.7" height="19.69" fill="#77AC30"/><rect x="1120.3" y="1488.31" width="49.7" height="3.99" fill="#7E2F8E"/><rect x="1120.3" y="1491.79" width="49.7" height="19.11" fill="#EDB120"/><rect x="1120.3" y="1510.4" width="49.7" height="21.2" fill="#0072BD"/><rect x="1169.5" y="1300.5" width="49.7" height="12.71" fill="#77AC30"/><rect x="1169.5" y="1312.71" width="49.7" height="2.83" fill="#6a3050"/><rect x="1169.5" y="1315.04" width="49.7" height="3.41" fill="#eea045"/><rect x="1169.5" y="1317.94" width="49.7" height="2.24" fill="#D95319"/><rect x="1169.5" y="1319.69" width="49.7" height="9.22" fill="#0072BD"/><rect x="1169.5" y="1328.41" width="49.7" height="34.81" fill="#A2142F"/><rect x="1169.5" y="1362.71" width="49.7" height="5.15" fill="#4DBEEE"/><rect x="1169.5" y="1367.37" width="49.7" height="51.09" fill="#7E2F8E"/><rect x="1169.5" y="1417.95" width="49.7" height="2.83" fill="#eea045"/><rect x="1169.5" y="1420.28" width="49.7" height="2.83" fill="#D95319"/><rect x="1169.5" y="1422.6" width="49.7" height="26.08" fill="#0072BD"/><rect x="1169.5" y="1448.19" width="49.7" height="10.97" fill="#A2142F"/><rect x="1169.5" y="1458.65" width="49.7" height="9.8" fill="#4DBEEE"/><rect x="1169.5" y="1467.96" width="49.7" height="25.5" fill="#77AC30"/><rect x="1169.5" y="1492.96" width="49.7" height="2.83" fill="#6a3050"/><rect x="1169.5" y="1495.28" width="49.7" height="22.01" fill="#EDB120"/><rect x="1169.5" y="1516.8" width="49.7" height="14.8" fill="#0072BD"/><rect x="1218.7" y="1300.5" width="49.7" height="10.97" fill="#77AC30"/><rect x="1218.7" y="1310.97" width="49.7" height="2.24" fill="#6a3050"/><rect x="1218.7" y="1312.71" width="49.7" height="3.99" fill="#eea045"/><rect x="1218.7" y="1316.2" width="49.7" height="2.24" fill="#D95319"/><rect x="1218.7" y="1317.94" width="49.7" height="7.48" fill="#0072BD"/><rect x="1218.7" y="1324.92" width="49.7" height="34.81" fill="#A2142F"/><rect x="1218.7" y="1359.23" width="49.7" height="5.15" fill="#4DBEEE"/><rect x="1218.7" y="1363.88" width="49.7" height="55.74" fill="#7E2F8E"/><rect x="1218.7" y="1419.11" width="49.7" height="2.83" fill="#eea045"/><rect x="1218.7" y="1421.44" width="49.7" height="2.83" fill="#D95319"/><rect x="1218.7" y="1423.77" width="49.7" height="26.66" fill="#0072BD"/><rect x="1218.7" y="1449.93" width="49.7" height="11.55" fill="#A2142F"/><rect x="1218.7" y="1460.98" width="49.7" height="7.48" fill="#4DBEEE"/><rect x="1218.7" y="1467.96" width="49.7" height="26.66" fill="#77AC30"/><rect x="1218.7" y="1494.12" width="49.7" height="2.83" fill="#6a3050"/><rect x="1218.7" y="1496.45" width="49.7" height="25.5" fill="#EDB120"/><rect x="1218.7" y="1521.45" width="49.7" height="10.15" fill="#0072BD"/></g><rect x="1071.7" y="1301.1" width="195.6" height="229.4" fill="none" stroke="#0d1b2a" stroke-width="1.3"/>
<g shape-rendering="crispEdges"><rect x="1328.3" y="1300.5" width="49.7" height="21.43" fill="#77AC30"/><rect x="1328.3" y="1321.43" width="49.7" height="6.9" fill="#7E2F8E"/><rect x="1328.3" y="1327.83" width="49.7" height="5.73" fill="#EDB120"/><rect x="1328.3" y="1333.06" width="49.7" height="4.57" fill="#D95319"/><rect x="1328.3" y="1337.13" width="49.7" height="9.22" fill="#0072BD"/><rect x="1328.3" y="1345.85" width="49.7" height="18.52" fill="#A2142F"/><rect x="1328.3" y="1363.88" width="49.7" height="15.62" fill="#4DBEEE"/><rect x="1328.3" y="1378.99" width="49.7" height="5.73" fill="#77AC30"/><rect x="1328.3" y="1384.23" width="49.7" height="31.32" fill="#7E2F8E"/><rect x="1328.3" y="1415.04" width="49.7" height="2.83" fill="#eea045"/><rect x="1328.3" y="1417.37" width="49.7" height="5.15" fill="#D95319"/><rect x="1328.3" y="1422.02" width="49.7" height="16.2" fill="#0072BD"/><rect x="1328.3" y="1437.72" width="49.7" height="8.64" fill="#A2142F"/><rect x="1328.3" y="1445.86" width="49.7" height="14.45" fill="#4DBEEE"/><rect x="1328.3" y="1459.82" width="49.7" height="16.2" fill="#77AC30"/><rect x="1328.3" y="1475.51" width="49.7" height="4.57" fill="#7E2F8E"/><rect x="1328.3" y="1479.58" width="49.7" height="13.87" fill="#EDB120"/><rect x="1328.3" y="1492.96" width="49.7" height="2.24" fill="#D95319"/><rect x="1328.3" y="1494.7" width="49.7" height="36.9" fill="#0072BD"/><rect x="1377.5" y="1300.5" width="49.7" height="20.27" fill="#77AC30"/><rect x="1377.5" y="1320.27" width="49.7" height="4.57" fill="#7E2F8E"/><rect x="1377.5" y="1324.34" width="49.7" height="6.31" fill="#EDB120"/><rect x="1377.5" y="1330.15" width="49.7" height="1.66" fill="#D95319"/><rect x="1377.5" y="1331.32" width="49.7" height="12.71" fill="#0072BD"/><rect x="1377.5" y="1343.53" width="49.7" height="22.59" fill="#A2142F"/><rect x="1377.5" y="1365.62" width="49.7" height="8.64" fill="#4DBEEE"/><rect x="1377.5" y="1373.76" width="49.7" height="2.24" fill="#77AC30"/><rect x="1377.5" y="1375.51" width="49.7" height="41.2" fill="#7E2F8E"/><rect x="1377.5" y="1416.21" width="49.7" height="4.57" fill="#EDB120"/><rect x="1377.5" y="1420.28" width="49.7" height="2.83" fill="#D95319"/><rect x="1377.5" y="1422.6" width="49.7" height="20.27" fill="#0072BD"/><rect x="1377.5" y="1442.37" width="49.7" height="11.55" fill="#A2142F"/><rect x="1377.5" y="1453.42" width="49.7" height="15.62" fill="#4DBEEE"/><rect x="1377.5" y="1468.54" width="49.7" height="19.11" fill="#77AC30"/><rect x="1377.5" y="1487.14" width="49.7" height="5.15" fill="#7E2F8E"/><rect x="1377.5" y="1491.79" width="49.7" height="18.52" fill="#EDB120"/><rect x="1377.5" y="1509.82" width="49.7" height="21.78" fill="#0072BD"/><rect x="1426.7" y="1300.5" width="49.7" height="12.71" fill="#77AC30"/><rect x="1426.7" y="1312.71" width="49.7" height="2.83" fill="#6a3050"/><rect x="1426.7" y="1315.04" width="49.7" height="3.41" fill="#eea045"/><rect x="1426.7" y="1317.94" width="49.7" height="2.24" fill="#D95319"/><rect x="1426.7" y="1319.69" width="49.7" height="9.22" fill="#0072BD"/><rect x="1426.7" y="1328.41" width="49.7" height="35.39" fill="#A2142F"/><rect x="1426.7" y="1363.3" width="49.7" height="5.15" fill="#4DBEEE"/><rect x="1426.7" y="1367.95" width="49.7" height="52.25" fill="#7E2F8E"/><rect x="1426.7" y="1419.7" width="49.7" height="4.57" fill="#eea045"/><rect x="1426.7" y="1423.77" width="49.7" height="2.83" fill="#D95319"/><rect x="1426.7" y="1426.09" width="49.7" height="26.66" fill="#0072BD"/><rect x="1426.7" y="1452.26" width="49.7" height="9.22" fill="#A2142F"/><rect x="1426.7" y="1460.98" width="49.7" height="8.64" fill="#4DBEEE"/><rect x="1426.7" y="1469.12" width="49.7" height="25.5" fill="#77AC30"/><rect x="1426.7" y="1494.12" width="49.7" height="3.41" fill="#6a3050"/><rect x="1426.7" y="1497.03" width="49.7" height="23.18" fill="#EDB120"/><rect x="1426.7" y="1519.7" width="49.7" height="11.9" fill="#0072BD"/><rect x="1475.9" y="1300.5" width="49.7" height="10.97" fill="#77AC30"/><rect x="1475.9" y="1310.97" width="49.7" height="2.24" fill="#6a3050"/><rect x="1475.9" y="1312.71" width="49.7" height="3.99" fill="#eea045"/><rect x="1475.9" y="1316.2" width="49.7" height="2.24" fill="#D95319"/><rect x="1475.9" y="1317.94" width="49.7" height="7.48" fill="#0072BD"/><rect x="1475.9" y="1324.92" width="49.7" height="37.13" fill="#A2142F"/><rect x="1475.9" y="1361.55" width="49.7" height="5.73" fill="#4DBEEE"/><rect x="1475.9" y="1366.78" width="49.7" height="55.74" fill="#7E2F8E"/><rect x="1475.9" y="1422.02" width="49.7" height="3.41" fill="#eea045"/><rect x="1475.9" y="1424.93" width="49.7" height="2.24" fill="#D95319"/><rect x="1475.9" y="1426.67" width="49.7" height="26.08" fill="#0072BD"/><rect x="1475.9" y="1452.26" width="49.7" height="9.8" fill="#A2142F"/><rect x="1475.9" y="1461.56" width="49.7" height="7.48" fill="#4DBEEE"/><rect x="1475.9" y="1468.54" width="49.7" height="26.08" fill="#77AC30"/><rect x="1475.9" y="1494.12" width="49.7" height="2.83" fill="#6a3050"/><rect x="1475.9" y="1496.45" width="49.7" height="25.5" fill="#EDB120"/><rect x="1475.9" y="1521.45" width="49.7" height="10.15" fill="#0072BD"/></g><rect x="1328.9" y="1301.1" width="195.6" height="229.4" fill="none" stroke="#0d1b2a" stroke-width="1.3"/>
<g shape-rendering="crispEdges"><rect x="1588" y="1300.5" width="49.7" height="21.43" fill="#77AC30"/><rect x="1588" y="1321.43" width="49.7" height="6.9" fill="#7E2F8E"/><rect x="1588" y="1327.83" width="49.7" height="5.73" fill="#EDB120"/><rect x="1588" y="1333.06" width="49.7" height="4.57" fill="#D95319"/><rect x="1588" y="1337.13" width="49.7" height="9.22" fill="#0072BD"/><rect x="1588" y="1345.85" width="49.7" height="18.52" fill="#A2142F"/><rect x="1588" y="1363.88" width="49.7" height="15.62" fill="#4DBEEE"/><rect x="1588" y="1378.99" width="49.7" height="5.73" fill="#77AC30"/><rect x="1588" y="1384.23" width="49.7" height="31.32" fill="#7E2F8E"/><rect x="1588" y="1415.04" width="49.7" height="2.83" fill="#eea045"/><rect x="1588" y="1417.37" width="49.7" height="5.15" fill="#D95319"/><rect x="1588" y="1422.02" width="49.7" height="16.2" fill="#0072BD"/><rect x="1588" y="1437.72" width="49.7" height="8.64" fill="#A2142F"/><rect x="1588" y="1445.86" width="49.7" height="14.45" fill="#4DBEEE"/><rect x="1588" y="1459.82" width="49.7" height="16.2" fill="#77AC30"/><rect x="1588" y="1475.51" width="49.7" height="4.57" fill="#7E2F8E"/><rect x="1588" y="1479.58" width="49.7" height="13.87" fill="#EDB120"/><rect x="1588" y="1492.96" width="49.7" height="2.24" fill="#D95319"/><rect x="1588" y="1494.7" width="49.7" height="36.9" fill="#0072BD"/><rect x="1637.2" y="1300.5" width="49.7" height="20.27" fill="#77AC30"/><rect x="1637.2" y="1320.27" width="49.7" height="4.57" fill="#7E2F8E"/><rect x="1637.2" y="1324.34" width="49.7" height="5.73" fill="#EDB120"/><rect x="1637.2" y="1329.57" width="49.7" height="2.24" fill="#D95319"/><rect x="1637.2" y="1331.32" width="49.7" height="12.71" fill="#0072BD"/><rect x="1637.2" y="1343.53" width="49.7" height="18.52" fill="#A2142F"/><rect x="1637.2" y="1361.55" width="49.7" height="6.9" fill="#4DBEEE"/><rect x="1637.2" y="1367.95" width="49.7" height="3.41" fill="#77AC30"/><rect x="1637.2" y="1370.85" width="49.7" height="40.04" fill="#7E2F8E"/><rect x="1637.2" y="1410.39" width="49.7" height="5.73" fill="#EDB120"/><rect x="1637.2" y="1415.63" width="49.7" height="2.24" fill="#D95319"/><rect x="1637.2" y="1417.37" width="49.7" height="19.11" fill="#0072BD"/><rect x="1637.2" y="1435.98" width="49.7" height="11.55" fill="#A2142F"/><rect x="1637.2" y="1447.02" width="49.7" height="17.36" fill="#4DBEEE"/><rect x="1637.2" y="1463.89" width="49.7" height="18.52" fill="#77AC30"/><rect x="1637.2" y="1481.91" width="49.7" height="5.15" fill="#7E2F8E"/><rect x="1637.2" y="1486.56" width="49.7" height="19.11" fill="#EDB120"/><rect x="1637.2" y="1505.17" width="49.7" height="26.43" fill="#0072BD"/><rect x="1686.4" y="1300.5" width="49.7" height="12.71" fill="#77AC30"/><rect x="1686.4" y="1312.71" width="49.7" height="2.83" fill="#6a3050"/><rect x="1686.4" y="1315.04" width="49.7" height="3.41" fill="#eea045"/><rect x="1686.4" y="1317.94" width="49.7" height="2.24" fill="#D95319"/><rect x="1686.4" y="1319.69" width="49.7" height="9.22" fill="#0072BD"/><rect x="1686.4" y="1328.41" width="49.7" height="32.48" fill="#A2142F"/><rect x="1686.4" y="1360.39" width="49.7" height="5.15" fill="#4DBEEE"/><rect x="1686.4" y="1365.04" width="49.7" height="52.83" fill="#7E2F8E"/><rect x="1686.4" y="1417.37" width="49.7" height="2.83" fill="#eea045"/><rect x="1686.4" y="1419.7" width="49.7" height="2.83" fill="#D95319"/><rect x="1686.4" y="1422.02" width="49.7" height="26.08" fill="#0072BD"/><rect x="1686.4" y="1447.6" width="49.7" height="8.64" fill="#A2142F"/><rect x="1686.4" y="1455.75" width="49.7" height="9.8" fill="#4DBEEE"/><rect x="1686.4" y="1465.05" width="49.7" height="26.08" fill="#77AC30"/><rect x="1686.4" y="1490.63" width="49.7" height="2.24" fill="#6a3050"/><rect x="1686.4" y="1492.38" width="49.7" height="22.59" fill="#EDB120"/><rect x="1686.4" y="1514.47" width="49.7" height="17.13" fill="#0072BD"/><rect x="1735.6" y="1300.5" width="49.7" height="10.38" fill="#77AC30"/><rect x="1735.6" y="1310.38" width="49.7" height="2.24" fill="#6a3050"/><rect x="1735.6" y="1312.13" width="49.7" height="4.57" fill="#eea045"/><rect x="1735.6" y="1316.2" width="49.7" height="2.24" fill="#D95319"/><rect x="1735.6" y="1317.94" width="49.7" height="9.22" fill="#0072BD"/><rect x="1735.6" y="1326.66" width="49.7" height="31.32" fill="#A2142F"/><rect x="1735.6" y="1357.48" width="49.7" height="5.15" fill="#4DBEEE"/><rect x="1735.6" y="1362.13" width="49.7" height="54.57" fill="#7E2F8E"/><rect x="1735.6" y="1416.21" width="49.7" height="2.83" fill="#eea045"/><rect x="1735.6" y="1418.53" width="49.7" height="2.83" fill="#D95319"/><rect x="1735.6" y="1420.86" width="49.7" height="26.08" fill="#0072BD"/><rect x="1735.6" y="1446.44" width="49.7" height="8.64" fill="#A2142F"/><rect x="1735.6" y="1454.58" width="49.7" height="9.8" fill="#4DBEEE"/><rect x="1735.6" y="1463.89" width="49.7" height="27.25" fill="#77AC30"/><rect x="1735.6" y="1490.63" width="49.7" height="2.24" fill="#6a3050"/><rect x="1735.6" y="1492.38" width="49.7" height="24.92" fill="#EDB120"/><rect x="1735.6" y="1516.8" width="49.7" height="14.8" fill="#0072BD"/></g><rect x="1588.6" y="1301.1" width="195.6" height="229.4" fill="none" stroke="#0d1b2a" stroke-width="1.3"/>
<g shape-rendering="crispEdges"><rect x="295" y="1546" width="49.7" height="41.78" fill="#4DBEEE"/><rect x="295" y="1587.28" width="49.7" height="16.78" fill="#77AC30"/><rect x="295" y="1603.56" width="49.7" height="2.83" fill="#6a3050"/><rect x="295" y="1605.89" width="49.7" height="5.15" fill="#EDB120"/><rect x="295" y="1610.54" width="49.7" height="25.5" fill="#D95319"/><rect x="295" y="1635.54" width="49.7" height="44.11" fill="#77AC30"/><rect x="295" y="1679.15" width="49.7" height="18.52" fill="#7E2F8E"/><rect x="295" y="1697.17" width="49.7" height="3.99" fill="#eea045"/><rect x="295" y="1700.66" width="49.7" height="3.99" fill="#D95319"/><rect x="295" y="1704.15" width="49.7" height="5.73" fill="#0072BD"/><rect x="295" y="1709.39" width="49.7" height="27.83" fill="#A2142F"/><rect x="295" y="1736.71" width="49.7" height="5.15" fill="#4DBEEE"/><rect x="295" y="1741.36" width="49.7" height="5.15" fill="#77AC30"/><rect x="295" y="1746.02" width="49.7" height="2.24" fill="#6a3050"/><rect x="295" y="1747.76" width="49.7" height="3.41" fill="#eea045"/><rect x="295" y="1750.67" width="49.7" height="6.9" fill="#D95319"/><rect x="295" y="1757.06" width="49.7" height="20.04" fill="#0072BD"/><rect x="344.2" y="1546" width="49.7" height="23.76" fill="#77AC30"/><rect x="344.2" y="1569.26" width="49.7" height="2.83" fill="#6a3050"/><rect x="344.2" y="1571.58" width="49.7" height="5.73" fill="#EDB120"/><rect x="344.2" y="1576.82" width="49.7" height="34.81" fill="#D95319"/><rect x="344.2" y="1611.12" width="49.7" height="59.81" fill="#77AC30"/><rect x="344.2" y="1670.43" width="49.7" height="23.76" fill="#7E2F8E"/><rect x="344.2" y="1693.69" width="49.7" height="2.83" fill="#eea045"/><rect x="344.2" y="1696.01" width="49.7" height="7.48" fill="#D95319"/><rect x="344.2" y="1702.99" width="49.7" height="8.06" fill="#0072BD"/><rect x="344.2" y="1710.55" width="49.7" height="35.39" fill="#A2142F"/><rect x="344.2" y="1745.43" width="49.7" height="2.83" fill="#4DBEEE"/><rect x="344.2" y="1747.76" width="49.7" height="5.15" fill="#77AC30"/><rect x="344.2" y="1752.41" width="49.7" height="2.24" fill="#6a3050"/><rect x="344.2" y="1754.16" width="49.7" height="2.83" fill="#eea045"/><rect x="344.2" y="1756.48" width="49.7" height="9.8" fill="#D95319"/><rect x="344.2" y="1765.79" width="49.7" height="11.31" fill="#0072BD"/><rect x="393.4" y="1546" width="49.7" height="22.59" fill="#77AC30"/><rect x="393.4" y="1568.09" width="49.7" height="2.24" fill="#6a3050"/><rect x="393.4" y="1569.84" width="49.7" height="5.73" fill="#EDB120"/><rect x="393.4" y="1575.07" width="49.7" height="33.64" fill="#D95319"/><rect x="393.4" y="1608.21" width="49.7" height="62.13" fill="#77AC30"/><rect x="393.4" y="1669.85" width="49.7" height="26.08" fill="#7E2F8E"/><rect x="393.4" y="1695.43" width="49.7" height="2.83" fill="#eea045"/><rect x="393.4" y="1697.76" width="49.7" height="7.48" fill="#D95319"/><rect x="393.4" y="1704.73" width="49.7" height="7.48" fill="#0072BD"/><rect x="393.4" y="1711.71" width="49.7" height="35.39" fill="#A2142F"/><rect x="393.4" y="1746.6" width="49.7" height="3.99" fill="#4DBEEE"/><rect x="393.4" y="1750.09" width="49.7" height="4.57" fill="#77AC30"/><rect x="393.4" y="1754.16" width="49.7" height="1.66" fill="#6a3050"/><rect x="393.4" y="1755.32" width="49.7" height="3.99" fill="#eea045"/><rect x="393.4" y="1758.81" width="49.7" height="7.48" fill="#D95319"/><rect x="393.4" y="1765.79" width="49.7" height="11.31" fill="#0072BD"/><rect x="442.6" y="1546" width="49.7" height="23.76" fill="#77AC30"/><rect x="442.6" y="1569.26" width="49.7" height="2.83" fill="#6a3050"/><rect x="442.6" y="1571.58" width="49.7" height="5.15" fill="#EDB120"/><rect x="442.6" y="1576.23" width="49.7" height="33.06" fill="#D95319"/><rect x="442.6" y="1608.8" width="49.7" height="63.3" fill="#77AC30"/><rect x="442.6" y="1671.59" width="49.7" height="25.5" fill="#7E2F8E"/><rect x="442.6" y="1696.59" width="49.7" height="3.41" fill="#eea045"/><rect x="442.6" y="1699.5" width="49.7" height="6.9" fill="#D95319"/><rect x="442.6" y="1705.9" width="49.7" height="8.06" fill="#0072BD"/><rect x="442.6" y="1713.46" width="49.7" height="33.64" fill="#A2142F"/><rect x="442.6" y="1746.6" width="49.7" height="4.57" fill="#4DBEEE"/><rect x="442.6" y="1750.67" width="49.7" height="4.57" fill="#77AC30"/><rect x="442.6" y="1754.74" width="49.7" height="1.66" fill="#6a3050"/><rect x="442.6" y="1755.9" width="49.7" height="3.99" fill="#eea045"/><rect x="442.6" y="1759.39" width="49.7" height="6.9" fill="#D95319"/><rect x="442.6" y="1765.79" width="49.7" height="11.31" fill="#0072BD"/></g><rect x="295.6" y="1546.6" width="195.6" height="229.4" fill="none" stroke="#0d1b2a" stroke-width="1.3"/>
<g shape-rendering="crispEdges"><rect x="554" y="1546" width="49.7" height="41.78" fill="#4DBEEE"/><rect x="554" y="1587.28" width="49.7" height="16.78" fill="#77AC30"/><rect x="554" y="1603.56" width="49.7" height="2.83" fill="#6a3050"/><rect x="554" y="1605.89" width="49.7" height="5.15" fill="#EDB120"/><rect x="554" y="1610.54" width="49.7" height="25.5" fill="#D95319"/><rect x="554" y="1635.54" width="49.7" height="44.11" fill="#77AC30"/><rect x="554" y="1679.15" width="49.7" height="18.52" fill="#7E2F8E"/><rect x="554" y="1697.17" width="49.7" height="3.99" fill="#eea045"/><rect x="554" y="1700.66" width="49.7" height="3.99" fill="#D95319"/><rect x="554" y="1704.15" width="49.7" height="5.73" fill="#0072BD"/><rect x="554" y="1709.39" width="49.7" height="27.83" fill="#A2142F"/><rect x="554" y="1736.71" width="49.7" height="5.15" fill="#4DBEEE"/><rect x="554" y="1741.36" width="49.7" height="5.15" fill="#77AC30"/><rect x="554" y="1746.02" width="49.7" height="2.24" fill="#6a3050"/><rect x="554" y="1747.76" width="49.7" height="3.41" fill="#eea045"/><rect x="554" y="1750.67" width="49.7" height="6.9" fill="#D95319"/><rect x="554" y="1757.06" width="49.7" height="20.04" fill="#0072BD"/><rect x="603.2" y="1546" width="49.7" height="22.01" fill="#77AC30"/><rect x="603.2" y="1567.51" width="49.7" height="2.83" fill="#6a3050"/><rect x="603.2" y="1569.84" width="49.7" height="5.15" fill="#EDB120"/><rect x="603.2" y="1574.49" width="49.7" height="35.39" fill="#D95319"/><rect x="603.2" y="1609.38" width="49.7" height="59.23" fill="#77AC30"/><rect x="603.2" y="1668.1" width="49.7" height="26.08" fill="#7E2F8E"/><rect x="603.2" y="1693.69" width="49.7" height="2.83" fill="#eea045"/><rect x="603.2" y="1696.01" width="49.7" height="7.48" fill="#D95319"/><rect x="603.2" y="1702.99" width="49.7" height="7.48" fill="#0072BD"/><rect x="603.2" y="1709.97" width="49.7" height="35.97" fill="#A2142F"/><rect x="603.2" y="1745.43" width="49.7" height="2.83" fill="#4DBEEE"/><rect x="603.2" y="1747.76" width="49.7" height="5.15" fill="#77AC30"/><rect x="603.2" y="1752.41" width="49.7" height="2.24" fill="#6a3050"/><rect x="603.2" y="1754.16" width="49.7" height="3.41" fill="#eea045"/><rect x="603.2" y="1757.06" width="49.7" height="9.22" fill="#D95319"/><rect x="603.2" y="1765.79" width="49.7" height="11.31" fill="#0072BD"/><rect x="652.4" y="1546" width="49.7" height="22.01" fill="#77AC30"/><rect x="652.4" y="1567.51" width="49.7" height="2.83" fill="#6a3050"/><rect x="652.4" y="1569.84" width="49.7" height="5.15" fill="#EDB120"/><rect x="652.4" y="1574.49" width="49.7" height="35.97" fill="#D95319"/><rect x="652.4" y="1609.96" width="49.7" height="61.55" fill="#77AC30"/><rect x="652.4" y="1671.01" width="49.7" height="26.66" fill="#7E2F8E"/><rect x="652.4" y="1697.17" width="49.7" height="3.41" fill="#eea045"/><rect x="652.4" y="1700.08" width="49.7" height="7.48" fill="#D95319"/><rect x="652.4" y="1707.06" width="49.7" height="7.48" fill="#0072BD"/><rect x="652.4" y="1714.04" width="49.7" height="33.64" fill="#A2142F"/><rect x="652.4" y="1747.18" width="49.7" height="3.41" fill="#4DBEEE"/><rect x="652.4" y="1750.09" width="49.7" height="4.57" fill="#77AC30"/><rect x="652.4" y="1754.16" width="49.7" height="2.24" fill="#6a3050"/><rect x="652.4" y="1755.9" width="49.7" height="3.41" fill="#eea045"/><rect x="652.4" y="1758.81" width="49.7" height="7.48" fill="#D95319"/><rect x="652.4" y="1765.79" width="49.7" height="11.31" fill="#0072BD"/><rect x="701.6" y="1546" width="49.7" height="22.01" fill="#77AC30"/><rect x="701.6" y="1567.51" width="49.7" height="2.83" fill="#6a3050"/><rect x="701.6" y="1569.84" width="49.7" height="5.15" fill="#EDB120"/><rect x="701.6" y="1574.49" width="49.7" height="33.64" fill="#D95319"/><rect x="701.6" y="1607.63" width="49.7" height="62.13" fill="#77AC30"/><rect x="701.6" y="1669.27" width="49.7" height="28.41" fill="#7E2F8E"/><rect x="701.6" y="1697.17" width="49.7" height="3.41" fill="#eea045"/><rect x="701.6" y="1700.08" width="49.7" height="7.48" fill="#D95319"/><rect x="701.6" y="1707.06" width="49.7" height="7.48" fill="#0072BD"/><rect x="701.6" y="1714.04" width="49.7" height="33.64" fill="#A2142F"/><rect x="701.6" y="1747.18" width="49.7" height="3.41" fill="#4DBEEE"/><rect x="701.6" y="1750.09" width="49.7" height="4.57" fill="#77AC30"/><rect x="701.6" y="1754.16" width="49.7" height="2.24" fill="#6a3050"/><rect x="701.6" y="1755.9" width="49.7" height="3.41" fill="#eea045"/><rect x="701.6" y="1758.81" width="49.7" height="7.48" fill="#D95319"/><rect x="701.6" y="1765.79" width="49.7" height="11.31" fill="#0072BD"/></g><rect x="554.6" y="1546.6" width="195.6" height="229.4" fill="none" stroke="#0d1b2a" stroke-width="1.3"/>
<g shape-rendering="crispEdges"><rect x="811.5" y="1546" width="49.7" height="41.78" fill="#4DBEEE"/><rect x="811.5" y="1587.28" width="49.7" height="16.78" fill="#77AC30"/><rect x="811.5" y="1603.56" width="49.7" height="2.83" fill="#6a3050"/><rect x="811.5" y="1605.89" width="49.7" height="5.15" fill="#EDB120"/><rect x="811.5" y="1610.54" width="49.7" height="25.5" fill="#D95319"/><rect x="811.5" y="1635.54" width="49.7" height="44.11" fill="#77AC30"/><rect x="811.5" y="1679.15" width="49.7" height="18.52" fill="#7E2F8E"/><rect x="811.5" y="1697.17" width="49.7" height="3.99" fill="#eea045"/><rect x="811.5" y="1700.66" width="49.7" height="3.99" fill="#D95319"/><rect x="811.5" y="1704.15" width="49.7" height="5.73" fill="#0072BD"/><rect x="811.5" y="1709.39" width="49.7" height="27.83" fill="#A2142F"/><rect x="811.5" y="1736.71" width="49.7" height="5.15" fill="#4DBEEE"/><rect x="811.5" y="1741.36" width="49.7" height="5.15" fill="#77AC30"/><rect x="811.5" y="1746.02" width="49.7" height="2.24" fill="#6a3050"/><rect x="811.5" y="1747.76" width="49.7" height="3.41" fill="#eea045"/><rect x="811.5" y="1750.67" width="49.7" height="6.9" fill="#D95319"/><rect x="811.5" y="1757.06" width="49.7" height="20.04" fill="#0072BD"/><rect x="860.7" y="1546" width="49.7" height="24.34" fill="#77AC30"/><rect x="860.7" y="1569.84" width="49.7" height="2.83" fill="#6a3050"/><rect x="860.7" y="1572.16" width="49.7" height="5.73" fill="#EDB120"/><rect x="860.7" y="1577.4" width="49.7" height="36.55" fill="#D95319"/><rect x="860.7" y="1613.45" width="49.7" height="60.39" fill="#77AC30"/><rect x="860.7" y="1673.34" width="49.7" height="23.76" fill="#7E2F8E"/><rect x="860.7" y="1696.59" width="49.7" height="2.83" fill="#eea045"/><rect x="860.7" y="1698.92" width="49.7" height="6.9" fill="#D95319"/><rect x="860.7" y="1705.32" width="49.7" height="8.06" fill="#0072BD"/><rect x="860.7" y="1712.87" width="49.7" height="33.06" fill="#A2142F"/><rect x="860.7" y="1745.43" width="49.7" height="3.41" fill="#4DBEEE"/><rect x="860.7" y="1748.34" width="49.7" height="5.15" fill="#77AC30"/><rect x="860.7" y="1752.99" width="49.7" height="2.24" fill="#6a3050"/><rect x="860.7" y="1754.74" width="49.7" height="2.83" fill="#eea045"/><rect x="860.7" y="1757.06" width="49.7" height="9.22" fill="#D95319"/><rect x="860.7" y="1765.79" width="49.7" height="11.31" fill="#0072BD"/><rect x="909.9" y="1546" width="49.7" height="24.34" fill="#77AC30"/><rect x="909.9" y="1569.84" width="49.7" height="2.83" fill="#6a3050"/><rect x="909.9" y="1572.16" width="49.7" height="5.73" fill="#EDB120"/><rect x="909.9" y="1577.4" width="49.7" height="36.55" fill="#D95319"/><rect x="909.9" y="1613.45" width="49.7" height="60.39" fill="#77AC30"/><rect x="909.9" y="1673.34" width="49.7" height="23.76" fill="#7E2F8E"/><rect x="909.9" y="1696.59" width="49.7" height="2.83" fill="#eea045"/><rect x="909.9" y="1698.92" width="49.7" height="6.9" fill="#D95319"/><rect x="909.9" y="1705.32" width="49.7" height="8.06" fill="#0072BD"/><rect x="909.9" y="1712.87" width="49.7" height="33.06" fill="#A2142F"/><rect x="909.9" y="1745.43" width="49.7" height="3.41" fill="#4DBEEE"/><rect x="909.9" y="1748.34" width="49.7" height="5.15" fill="#77AC30"/><rect x="909.9" y="1752.99" width="49.7" height="2.24" fill="#6a3050"/><rect x="909.9" y="1754.74" width="49.7" height="2.83" fill="#eea045"/><rect x="909.9" y="1757.06" width="49.7" height="9.22" fill="#D95319"/><rect x="909.9" y="1765.79" width="49.7" height="11.31" fill="#0072BD"/><rect x="959.1" y="1546" width="49.7" height="24.34" fill="#77AC30"/><rect x="959.1" y="1569.84" width="49.7" height="2.83" fill="#6a3050"/><rect x="959.1" y="1572.16" width="49.7" height="5.73" fill="#EDB120"/><rect x="959.1" y="1577.4" width="49.7" height="35.97" fill="#D95319"/><rect x="959.1" y="1612.87" width="49.7" height="63.3" fill="#77AC30"/><rect x="959.1" y="1675.66" width="49.7" height="24.34" fill="#7E2F8E"/><rect x="959.1" y="1699.5" width="49.7" height="2.83" fill="#eea045"/><rect x="959.1" y="1701.83" width="49.7" height="6.9" fill="#D95319"/><rect x="959.1" y="1708.22" width="49.7" height="8.64" fill="#0072BD"/><rect x="959.1" y="1716.36" width="49.7" height="30.73" fill="#A2142F"/><rect x="959.1" y="1746.6" width="49.7" height="3.41" fill="#4DBEEE"/><rect x="959.1" y="1749.5" width="49.7" height="5.15" fill="#77AC30"/><rect x="959.1" y="1754.16" width="49.7" height="2.24" fill="#6a3050"/><rect x="959.1" y="1755.9" width="49.7" height="3.41" fill="#eea045"/><rect x="959.1" y="1758.81" width="49.7" height="7.48" fill="#D95319"/><rect x="959.1" y="1765.79" width="49.7" height="11.31" fill="#0072BD"/></g><rect x="812.1" y="1546.6" width="195.6" height="229.4" fill="none" stroke="#0d1b2a" stroke-width="1.3"/>
<g shape-rendering="crispEdges"><rect x="1071.1" y="1546" width="49.7" height="41.78" fill="#4DBEEE"/><rect x="1071.1" y="1587.28" width="49.7" height="16.78" fill="#77AC30"/><rect x="1071.1" y="1603.56" width="49.7" height="2.83" fill="#6a3050"/><rect x="1071.1" y="1605.89" width="49.7" height="5.15" fill="#EDB120"/><rect x="1071.1" y="1610.54" width="49.7" height="25.5" fill="#D95319"/><rect x="1071.1" y="1635.54" width="49.7" height="44.11" fill="#77AC30"/><rect x="1071.1" y="1679.15" width="49.7" height="18.52" fill="#7E2F8E"/><rect x="1071.1" y="1697.17" width="49.7" height="3.99" fill="#eea045"/><rect x="1071.1" y="1700.66" width="49.7" height="3.99" fill="#D95319"/><rect x="1071.1" y="1704.15" width="49.7" height="5.73" fill="#0072BD"/><rect x="1071.1" y="1709.39" width="49.7" height="27.83" fill="#A2142F"/><rect x="1071.1" y="1736.71" width="49.7" height="5.15" fill="#4DBEEE"/><rect x="1071.1" y="1741.36" width="49.7" height="5.15" fill="#77AC30"/><rect x="1071.1" y="1746.02" width="49.7" height="2.24" fill="#6a3050"/><rect x="1071.1" y="1747.76" width="49.7" height="3.41" fill="#eea045"/><rect x="1071.1" y="1750.67" width="49.7" height="6.9" fill="#D95319"/><rect x="1071.1" y="1757.06" width="49.7" height="20.04" fill="#0072BD"/><rect x="1120.3" y="1546" width="49.7" height="24.34" fill="#77AC30"/><rect x="1120.3" y="1569.84" width="49.7" height="2.83" fill="#6a3050"/><rect x="1120.3" y="1572.16" width="49.7" height="5.15" fill="#EDB120"/><rect x="1120.3" y="1576.82" width="49.7" height="37.13" fill="#D95319"/><rect x="1120.3" y="1613.45" width="49.7" height="59.23" fill="#77AC30"/><rect x="1120.3" y="1672.17" width="49.7" height="23.18" fill="#7E2F8E"/><rect x="1120.3" y="1694.85" width="49.7" height="2.83" fill="#eea045"/><rect x="1120.3" y="1697.17" width="49.7" height="7.48" fill="#D95319"/><rect x="1120.3" y="1704.15" width="49.7" height="7.48" fill="#0072BD"/><rect x="1120.3" y="1711.13" width="49.7" height="33.06" fill="#A2142F"/><rect x="1120.3" y="1743.69" width="49.7" height="3.41" fill="#4DBEEE"/><rect x="1120.3" y="1746.6" width="49.7" height="6.9" fill="#77AC30"/><rect x="1120.3" y="1752.99" width="49.7" height="2.24" fill="#6a3050"/><rect x="1120.3" y="1754.74" width="49.7" height="2.83" fill="#eea045"/><rect x="1120.3" y="1757.06" width="49.7" height="9.8" fill="#D95319"/><rect x="1120.3" y="1766.37" width="49.7" height="10.73" fill="#0072BD"/><rect x="1169.5" y="1546" width="49.7" height="24.34" fill="#77AC30"/><rect x="1169.5" y="1569.84" width="49.7" height="2.83" fill="#6a3050"/><rect x="1169.5" y="1572.16" width="49.7" height="5.73" fill="#EDB120"/><rect x="1169.5" y="1577.4" width="49.7" height="35.97" fill="#D95319"/><rect x="1169.5" y="1612.87" width="49.7" height="62.13" fill="#77AC30"/><rect x="1169.5" y="1674.5" width="49.7" height="23.76" fill="#7E2F8E"/><rect x="1169.5" y="1697.76" width="49.7" height="2.83" fill="#eea045"/><rect x="1169.5" y="1700.08" width="49.7" height="8.06" fill="#D95319"/><rect x="1169.5" y="1707.64" width="49.7" height="7.48" fill="#0072BD"/><rect x="1169.5" y="1714.62" width="49.7" height="33.64" fill="#A2142F"/><rect x="1169.5" y="1747.76" width="49.7" height="3.41" fill="#4DBEEE"/><rect x="1169.5" y="1750.67" width="49.7" height="4.57" fill="#77AC30"/><rect x="1169.5" y="1754.74" width="49.7" height="2.24" fill="#6a3050"/><rect x="1169.5" y="1756.48" width="49.7" height="3.41" fill="#eea045"/><rect x="1169.5" y="1759.39" width="49.7" height="7.48" fill="#D95319"/><rect x="1169.5" y="1766.37" width="49.7" height="10.73" fill="#0072BD"/><rect x="1218.7" y="1546" width="49.7" height="24.34" fill="#77AC30"/><rect x="1218.7" y="1569.84" width="49.7" height="2.83" fill="#6a3050"/><rect x="1218.7" y="1572.16" width="49.7" height="5.73" fill="#EDB120"/><rect x="1218.7" y="1577.4" width="49.7" height="34.81" fill="#D95319"/><rect x="1218.7" y="1611.7" width="49.7" height="64.46" fill="#77AC30"/><rect x="1218.7" y="1675.66" width="49.7" height="23.76" fill="#7E2F8E"/><rect x="1218.7" y="1698.92" width="49.7" height="2.83" fill="#eea045"/><rect x="1218.7" y="1701.25" width="49.7" height="6.9" fill="#D95319"/><rect x="1218.7" y="1707.64" width="49.7" height="8.06" fill="#0072BD"/><rect x="1218.7" y="1715.2" width="49.7" height="33.06" fill="#A2142F"/><rect x="1218.7" y="1747.76" width="49.7" height="3.41" fill="#4DBEEE"/><rect x="1218.7" y="1750.67" width="49.7" height="4.57" fill="#77AC30"/><rect x="1218.7" y="1754.74" width="49.7" height="2.24" fill="#6a3050"/><rect x="1218.7" y="1756.48" width="49.7" height="3.41" fill="#eea045"/><rect x="1218.7" y="1759.39" width="49.7" height="7.48" fill="#D95319"/><rect x="1218.7" y="1766.37" width="49.7" height="10.73" fill="#0072BD"/></g><rect x="1071.7" y="1546.6" width="195.6" height="229.4" fill="none" stroke="#0d1b2a" stroke-width="1.3"/>
<g shape-rendering="crispEdges"><rect x="1328.3" y="1546" width="49.7" height="41.78" fill="#4DBEEE"/><rect x="1328.3" y="1587.28" width="49.7" height="16.78" fill="#77AC30"/><rect x="1328.3" y="1603.56" width="49.7" height="2.83" fill="#6a3050"/><rect x="1328.3" y="1605.89" width="49.7" height="5.15" fill="#EDB120"/><rect x="1328.3" y="1610.54" width="49.7" height="25.5" fill="#D95319"/><rect x="1328.3" y="1635.54" width="49.7" height="44.11" fill="#77AC30"/><rect x="1328.3" y="1679.15" width="49.7" height="18.52" fill="#7E2F8E"/><rect x="1328.3" y="1697.17" width="49.7" height="3.99" fill="#eea045"/><rect x="1328.3" y="1700.66" width="49.7" height="3.99" fill="#D95319"/><rect x="1328.3" y="1704.15" width="49.7" height="5.73" fill="#0072BD"/><rect x="1328.3" y="1709.39" width="49.7" height="27.83" fill="#A2142F"/><rect x="1328.3" y="1736.71" width="49.7" height="5.15" fill="#4DBEEE"/><rect x="1328.3" y="1741.36" width="49.7" height="5.15" fill="#77AC30"/><rect x="1328.3" y="1746.02" width="49.7" height="2.24" fill="#6a3050"/><rect x="1328.3" y="1747.76" width="49.7" height="3.41" fill="#eea045"/><rect x="1328.3" y="1750.67" width="49.7" height="6.9" fill="#D95319"/><rect x="1328.3" y="1757.06" width="49.7" height="20.04" fill="#0072BD"/><rect x="1377.5" y="1546" width="49.7" height="24.34" fill="#77AC30"/><rect x="1377.5" y="1569.84" width="49.7" height="2.83" fill="#6a3050"/><rect x="1377.5" y="1572.16" width="49.7" height="5.15" fill="#EDB120"/><rect x="1377.5" y="1576.82" width="49.7" height="37.71" fill="#D95319"/><rect x="1377.5" y="1614.03" width="49.7" height="60.39" fill="#77AC30"/><rect x="1377.5" y="1673.92" width="49.7" height="23.76" fill="#7E2F8E"/><rect x="1377.5" y="1697.17" width="49.7" height="2.83" fill="#eea045"/><rect x="1377.5" y="1699.5" width="49.7" height="7.48" fill="#D95319"/><rect x="1377.5" y="1706.48" width="49.7" height="7.48" fill="#0072BD"/><rect x="1377.5" y="1713.46" width="49.7" height="31.9" fill="#A2142F"/><rect x="1377.5" y="1744.85" width="49.7" height="3.41" fill="#4DBEEE"/><rect x="1377.5" y="1747.76" width="49.7" height="5.73" fill="#77AC30"/><rect x="1377.5" y="1752.99" width="49.7" height="2.24" fill="#6a3050"/><rect x="1377.5" y="1754.74" width="49.7" height="2.83" fill="#eea045"/><rect x="1377.5" y="1757.06" width="49.7" height="9.8" fill="#D95319"/><rect x="1377.5" y="1766.37" width="49.7" height="10.73" fill="#0072BD"/><rect x="1426.7" y="1546" width="49.7" height="24.34" fill="#77AC30"/><rect x="1426.7" y="1569.84" width="49.7" height="2.83" fill="#6a3050"/><rect x="1426.7" y="1572.16" width="49.7" height="5.73" fill="#EDB120"/><rect x="1426.7" y="1577.4" width="49.7" height="37.13" fill="#D95319"/><rect x="1426.7" y="1614.03" width="49.7" height="62.13" fill="#77AC30"/><rect x="1426.7" y="1675.66" width="49.7" height="23.76" fill="#7E2F8E"/><rect x="1426.7" y="1698.92" width="49.7" height="2.83" fill="#eea045"/><rect x="1426.7" y="1701.25" width="49.7" height="7.48" fill="#D95319"/><rect x="1426.7" y="1708.22" width="49.7" height="8.06" fill="#0072BD"/><rect x="1426.7" y="1715.78" width="49.7" height="29.57" fill="#A2142F"/><rect x="1426.7" y="1744.85" width="49.7" height="3.41" fill="#4DBEEE"/><rect x="1426.7" y="1747.76" width="49.7" height="5.73" fill="#77AC30"/><rect x="1426.7" y="1752.99" width="49.7" height="2.24" fill="#6a3050"/><rect x="1426.7" y="1754.74" width="49.7" height="2.83" fill="#eea045"/><rect x="1426.7" y="1757.06" width="49.7" height="9.8" fill="#D95319"/><rect x="1426.7" y="1766.37" width="49.7" height="10.73" fill="#0072BD"/><rect x="1475.9" y="1546" width="49.7" height="24.34" fill="#77AC30"/><rect x="1475.9" y="1569.84" width="49.7" height="2.83" fill="#6a3050"/><rect x="1475.9" y="1572.16" width="49.7" height="5.73" fill="#EDB120"/><rect x="1475.9" y="1577.4" width="49.7" height="37.13" fill="#D95319"/><rect x="1475.9" y="1614.03" width="49.7" height="63.88" fill="#77AC30"/><rect x="1475.9" y="1677.41" width="49.7" height="23.76" fill="#7E2F8E"/><rect x="1475.9" y="1700.66" width="49.7" height="2.83" fill="#eea045"/><rect x="1475.9" y="1702.99" width="49.7" height="7.48" fill="#D95319"/><rect x="1475.9" y="1709.97" width="49.7" height="8.06" fill="#0072BD"/><rect x="1475.9" y="1717.53" width="49.7" height="30.73" fill="#A2142F"/><rect x="1475.9" y="1747.76" width="49.7" height="3.41" fill="#4DBEEE"/><rect x="1475.9" y="1750.67" width="49.7" height="4.57" fill="#77AC30"/><rect x="1475.9" y="1754.74" width="49.7" height="2.24" fill="#6a3050"/><rect x="1475.9" y="1756.48" width="49.7" height="3.41" fill="#eea045"/><rect x="1475.9" y="1759.39" width="49.7" height="7.48" fill="#D95319"/><rect x="1475.9" y="1766.37" width="49.7" height="10.73" fill="#0072BD"/></g><rect x="1328.9" y="1546.6" width="195.6" height="229.4" fill="none" stroke="#0d1b2a" stroke-width="1.3"/>
<g shape-rendering="crispEdges"><rect x="1588" y="1546" width="49.7" height="41.78" fill="#4DBEEE"/><rect x="1588" y="1587.28" width="49.7" height="16.78" fill="#77AC30"/><rect x="1588" y="1603.56" width="49.7" height="2.83" fill="#6a3050"/><rect x="1588" y="1605.89" width="49.7" height="5.15" fill="#EDB120"/><rect x="1588" y="1610.54" width="49.7" height="25.5" fill="#D95319"/><rect x="1588" y="1635.54" width="49.7" height="44.11" fill="#77AC30"/><rect x="1588" y="1679.15" width="49.7" height="18.52" fill="#7E2F8E"/><rect x="1588" y="1697.17" width="49.7" height="3.99" fill="#eea045"/><rect x="1588" y="1700.66" width="49.7" height="3.99" fill="#D95319"/><rect x="1588" y="1704.15" width="49.7" height="5.73" fill="#0072BD"/><rect x="1588" y="1709.39" width="49.7" height="27.83" fill="#A2142F"/><rect x="1588" y="1736.71" width="49.7" height="5.15" fill="#4DBEEE"/><rect x="1588" y="1741.36" width="49.7" height="5.15" fill="#77AC30"/><rect x="1588" y="1746.02" width="49.7" height="2.24" fill="#6a3050"/><rect x="1588" y="1747.76" width="49.7" height="3.41" fill="#eea045"/><rect x="1588" y="1750.67" width="49.7" height="6.9" fill="#D95319"/><rect x="1588" y="1757.06" width="49.7" height="20.04" fill="#0072BD"/><rect x="1637.2" y="1546" width="49.7" height="24.34" fill="#77AC30"/><rect x="1637.2" y="1569.84" width="49.7" height="2.83" fill="#6a3050"/><rect x="1637.2" y="1572.16" width="49.7" height="5.73" fill="#EDB120"/><rect x="1637.2" y="1577.4" width="49.7" height="37.71" fill="#D95319"/><rect x="1637.2" y="1614.61" width="49.7" height="60.39" fill="#77AC30"/><rect x="1637.2" y="1674.5" width="49.7" height="22.01" fill="#7E2F8E"/><rect x="1637.2" y="1696.01" width="49.7" height="2.83" fill="#eea045"/><rect x="1637.2" y="1698.34" width="49.7" height="7.48" fill="#D95319"/><rect x="1637.2" y="1705.32" width="49.7" height="6.9" fill="#0072BD"/><rect x="1637.2" y="1711.71" width="49.7" height="33.06" fill="#A2142F"/><rect x="1637.2" y="1744.27" width="49.7" height="3.41" fill="#4DBEEE"/><rect x="1637.2" y="1747.18" width="49.7" height="5.73" fill="#77AC30"/><rect x="1637.2" y="1752.41" width="49.7" height="2.24" fill="#6a3050"/><rect x="1637.2" y="1754.16" width="49.7" height="2.83" fill="#eea045"/><rect x="1637.2" y="1756.48" width="49.7" height="10.38" fill="#D95319"/><rect x="1637.2" y="1766.37" width="49.7" height="10.73" fill="#0072BD"/><rect x="1686.4" y="1546" width="49.7" height="24.34" fill="#77AC30"/><rect x="1686.4" y="1569.84" width="49.7" height="2.83" fill="#6a3050"/><rect x="1686.4" y="1572.16" width="49.7" height="5.15" fill="#EDB120"/><rect x="1686.4" y="1576.82" width="49.7" height="37.13" fill="#D95319"/><rect x="1686.4" y="1613.45" width="49.7" height="61.55" fill="#77AC30"/><rect x="1686.4" y="1674.5" width="49.7" height="22.59" fill="#7E2F8E"/><rect x="1686.4" y="1696.59" width="49.7" height="2.83" fill="#eea045"/><rect x="1686.4" y="1698.92" width="49.7" height="8.06" fill="#D95319"/><rect x="1686.4" y="1706.48" width="49.7" height="8.06" fill="#0072BD"/><rect x="1686.4" y="1714.04" width="49.7" height="30.15" fill="#A2142F"/><rect x="1686.4" y="1743.69" width="49.7" height="3.41" fill="#4DBEEE"/><rect x="1686.4" y="1746.6" width="49.7" height="6.31" fill="#77AC30"/><rect x="1686.4" y="1752.41" width="49.7" height="2.24" fill="#6a3050"/><rect x="1686.4" y="1754.16" width="49.7" height="3.41" fill="#eea045"/><rect x="1686.4" y="1757.06" width="49.7" height="9.8" fill="#D95319"/><rect x="1686.4" y="1766.37" width="49.7" height="10.73" fill="#0072BD"/><rect x="1735.6" y="1546" width="49.7" height="24.34" fill="#77AC30"/><rect x="1735.6" y="1569.84" width="49.7" height="2.83" fill="#6a3050"/><rect x="1735.6" y="1572.16" width="49.7" height="5.15" fill="#EDB120"/><rect x="1735.6" y="1576.82" width="49.7" height="36.55" fill="#D95319"/><rect x="1735.6" y="1612.87" width="49.7" height="64.46" fill="#77AC30"/><rect x="1735.6" y="1676.82" width="49.7" height="23.18" fill="#7E2F8E"/><rect x="1735.6" y="1699.5" width="49.7" height="2.83" fill="#eea045"/><rect x="1735.6" y="1701.83" width="49.7" height="6.9" fill="#D95319"/><rect x="1735.6" y="1708.22" width="49.7" height="8.06" fill="#0072BD"/><rect x="1735.6" y="1715.78" width="49.7" height="30.73" fill="#A2142F"/><rect x="1735.6" y="1746.02" width="49.7" height="3.41" fill="#4DBEEE"/><rect x="1735.6" y="1748.92" width="49.7" height="6.31" fill="#77AC30"/><rect x="1735.6" y="1754.74" width="49.7" height="2.83" fill="#EDB120"/><rect x="1735.6" y="1757.06" width="49.7" height="9.8" fill="#D95319"/><rect x="1735.6" y="1766.37" width="49.7" height="10.73" fill="#0072BD"/></g><rect x="1588.6" y="1546.6" width="195.6" height="229.4" fill="none" stroke="#0d1b2a" stroke-width="1.3"/>
<g shape-rendering="crispEdges"><rect x="295" y="1788.3" width="49.7" height="3.99" fill="#46609a"/><rect x="295" y="1791.79" width="49.7" height="4.57" fill="#A2142F"/><rect x="295" y="1795.85" width="49.7" height="2.82" fill="#b8a052"/><rect x="295" y="1798.18" width="49.7" height="2.82" fill="#6a3050"/><rect x="295" y="1800.5" width="49.7" height="2.82" fill="#eea045"/><rect x="295" y="1802.83" width="49.7" height="2.82" fill="#2a7f7a"/><rect x="295" y="1805.15" width="49.7" height="32.46" fill="#4DBEEE"/><rect x="295" y="1837.1" width="49.7" height="2.82" fill="#6a3050"/><rect x="295" y="1839.43" width="49.7" height="12.7" fill="#EDB120"/><rect x="295" y="1851.63" width="49.7" height="2.24" fill="#D95319"/><rect x="295" y="1853.37" width="49.7" height="7.47" fill="#0072BD"/><rect x="295" y="1860.34" width="49.7" height="2.82" fill="#6a3050"/><rect x="295" y="1862.67" width="49.7" height="38.85" fill="#77AC30"/><rect x="295" y="1901.01" width="49.7" height="16.77" fill="#EDB120"/><rect x="295" y="1917.28" width="49.7" height="6.89" fill="#D95319"/><rect x="295" y="1923.67" width="49.7" height="20.84" fill="#A2142F"/><rect x="295" y="1944.01" width="49.7" height="51.05" fill="#7E2F8E"/><rect x="295" y="1994.56" width="49.7" height="26.64" fill="#0072BD"/><rect x="344.2" y="1788.3" width="49.7" height="3.99" fill="#46609a"/><rect x="344.2" y="1791.79" width="49.7" height="4.57" fill="#A2142F"/><rect x="344.2" y="1795.85" width="49.7" height="2.82" fill="#b8a052"/><rect x="344.2" y="1798.18" width="49.7" height="2.82" fill="#6a3050"/><rect x="344.2" y="1800.5" width="49.7" height="2.82" fill="#eea045"/><rect x="344.2" y="1802.83" width="49.7" height="2.82" fill="#2a7f7a"/><rect x="344.2" y="1805.15" width="49.7" height="37.1" fill="#4DBEEE"/><rect x="344.2" y="1841.75" width="49.7" height="2.82" fill="#6a3050"/><rect x="344.2" y="1844.08" width="49.7" height="12.12" fill="#EDB120"/><rect x="344.2" y="1855.7" width="49.7" height="2.82" fill="#D95319"/><rect x="344.2" y="1858.02" width="49.7" height="9.8" fill="#0072BD"/><rect x="344.2" y="1867.32" width="49.7" height="2.82" fill="#6a3050"/><rect x="344.2" y="1869.64" width="49.7" height="36.52" fill="#77AC30"/><rect x="344.2" y="1905.66" width="49.7" height="18.51" fill="#EDB120"/><rect x="344.2" y="1923.67" width="49.7" height="8.05" fill="#D95319"/><rect x="344.2" y="1931.23" width="49.7" height="22.58" fill="#A2142F"/><rect x="344.2" y="1953.3" width="49.7" height="53.95" fill="#7E2F8E"/><rect x="344.2" y="2006.76" width="49.7" height="14.44" fill="#0072BD"/><rect x="393.4" y="1788.3" width="49.7" height="3.99" fill="#46609a"/><rect x="393.4" y="1791.79" width="49.7" height="4.57" fill="#A2142F"/><rect x="393.4" y="1795.85" width="49.7" height="2.82" fill="#b8a052"/><rect x="393.4" y="1798.18" width="49.7" height="2.24" fill="#6a3050"/><rect x="393.4" y="1799.92" width="49.7" height="3.99" fill="#0072BD"/><rect x="393.4" y="1803.41" width="49.7" height="31.29" fill="#4DBEEE"/><rect x="393.4" y="1834.2" width="49.7" height="2.24" fill="#6a3050"/><rect x="393.4" y="1835.94" width="49.7" height="9.8" fill="#EDB120"/><rect x="393.4" y="1845.24" width="49.7" height="9.8" fill="#0072BD"/><rect x="393.4" y="1854.53" width="49.7" height="2.82" fill="#6a3050"/><rect x="393.4" y="1856.86" width="49.7" height="30.71" fill="#77AC30"/><rect x="393.4" y="1887.07" width="49.7" height="17.35" fill="#EDB120"/><rect x="393.4" y="1903.92" width="49.7" height="7.47" fill="#D95319"/><rect x="393.4" y="1910.89" width="49.7" height="30.13" fill="#A2142F"/><rect x="393.4" y="1940.52" width="49.7" height="66.15" fill="#7E2F8E"/><rect x="393.4" y="2006.17" width="49.7" height="15.03" fill="#0072BD"/><rect x="442.6" y="1788.3" width="49.7" height="3.99" fill="#46609a"/><rect x="442.6" y="1791.79" width="49.7" height="4.57" fill="#A2142F"/><rect x="442.6" y="1795.85" width="49.7" height="2.24" fill="#b8a052"/><rect x="442.6" y="1797.6" width="49.7" height="2.82" fill="#6a3050"/><rect x="442.6" y="1799.92" width="49.7" height="3.4" fill="#eea045"/><rect x="442.6" y="1802.83" width="49.7" height="2.24" fill="#2a7f7a"/><rect x="442.6" y="1804.57" width="49.7" height="31.29" fill="#4DBEEE"/><rect x="442.6" y="1835.36" width="49.7" height="2.24" fill="#6a3050"/><rect x="442.6" y="1837.1" width="49.7" height="9.21" fill="#EDB120"/><rect x="442.6" y="1845.82" width="49.7" height="9.8" fill="#0072BD"/><rect x="442.6" y="1855.12" width="49.7" height="2.82" fill="#6a3050"/><rect x="442.6" y="1857.44" width="49.7" height="31.29" fill="#77AC30"/><rect x="442.6" y="1888.23" width="49.7" height="16.77" fill="#EDB120"/><rect x="442.6" y="1904.5" width="49.7" height="7.47" fill="#D95319"/><rect x="442.6" y="1911.47" width="49.7" height="31.87" fill="#A2142F"/><rect x="442.6" y="1942.85" width="49.7" height="63.83" fill="#7E2F8E"/><rect x="442.6" y="2006.17" width="49.7" height="15.03" fill="#0072BD"/></g><rect x="295.6" y="1788.9" width="195.6" height="231.2" fill="none" stroke="#0d1b2a" stroke-width="1.3"/>
<g shape-rendering="crispEdges"><rect x="554" y="1788.3" width="49.7" height="3.99" fill="#46609a"/><rect x="554" y="1791.79" width="49.7" height="4.57" fill="#A2142F"/><rect x="554" y="1795.85" width="49.7" height="2.82" fill="#b8a052"/><rect x="554" y="1798.18" width="49.7" height="2.82" fill="#6a3050"/><rect x="554" y="1800.5" width="49.7" height="2.82" fill="#eea045"/><rect x="554" y="1802.83" width="49.7" height="2.82" fill="#2a7f7a"/><rect x="554" y="1805.15" width="49.7" height="32.46" fill="#4DBEEE"/><rect x="554" y="1837.1" width="49.7" height="2.82" fill="#6a3050"/><rect x="554" y="1839.43" width="49.7" height="12.7" fill="#EDB120"/><rect x="554" y="1851.63" width="49.7" height="2.24" fill="#D95319"/><rect x="554" y="1853.37" width="49.7" height="7.47" fill="#0072BD"/><rect x="554" y="1860.34" width="49.7" height="2.82" fill="#6a3050"/><rect x="554" y="1862.67" width="49.7" height="38.85" fill="#77AC30"/><rect x="554" y="1901.01" width="49.7" height="16.77" fill="#EDB120"/><rect x="554" y="1917.28" width="49.7" height="6.89" fill="#D95319"/><rect x="554" y="1923.67" width="49.7" height="20.84" fill="#A2142F"/><rect x="554" y="1944.01" width="49.7" height="51.05" fill="#7E2F8E"/><rect x="554" y="1994.56" width="49.7" height="26.64" fill="#0072BD"/><rect x="603.2" y="1788.3" width="49.7" height="3.99" fill="#46609a"/><rect x="603.2" y="1791.79" width="49.7" height="4.57" fill="#A2142F"/><rect x="603.2" y="1795.85" width="49.7" height="2.82" fill="#b8a052"/><rect x="603.2" y="1798.18" width="49.7" height="2.82" fill="#6a3050"/><rect x="603.2" y="1800.5" width="49.7" height="2.82" fill="#eea045"/><rect x="603.2" y="1802.83" width="49.7" height="2.82" fill="#2a7f7a"/><rect x="603.2" y="1805.15" width="49.7" height="37.1" fill="#4DBEEE"/><rect x="603.2" y="1841.75" width="49.7" height="2.82" fill="#6a3050"/><rect x="603.2" y="1844.08" width="49.7" height="12.7" fill="#EDB120"/><rect x="603.2" y="1856.28" width="49.7" height="2.24" fill="#D95319"/><rect x="603.2" y="1858.02" width="49.7" height="10.38" fill="#0072BD"/><rect x="603.2" y="1867.9" width="49.7" height="2.24" fill="#6a3050"/><rect x="603.2" y="1869.64" width="49.7" height="37.68" fill="#77AC30"/><rect x="603.2" y="1906.82" width="49.7" height="16.77" fill="#EDB120"/><rect x="603.2" y="1923.09" width="49.7" height="7.47" fill="#D95319"/><rect x="603.2" y="1930.06" width="49.7" height="23.16" fill="#A2142F"/><rect x="603.2" y="1952.72" width="49.7" height="53.37" fill="#7E2F8E"/><rect x="603.2" y="2005.59" width="49.7" height="15.61" fill="#0072BD"/><rect x="652.4" y="1788.3" width="49.7" height="3.99" fill="#46609a"/><rect x="652.4" y="1791.79" width="49.7" height="4.57" fill="#A2142F"/><rect x="652.4" y="1795.85" width="49.7" height="2.82" fill="#b8a052"/><rect x="652.4" y="1798.18" width="49.7" height="1.66" fill="#6a3050"/><rect x="652.4" y="1799.34" width="49.7" height="4.57" fill="#0072BD"/><rect x="652.4" y="1803.41" width="49.7" height="31.29" fill="#4DBEEE"/><rect x="652.4" y="1834.2" width="49.7" height="2.24" fill="#6a3050"/><rect x="652.4" y="1835.94" width="49.7" height="10.96" fill="#EDB120"/><rect x="652.4" y="1846.4" width="49.7" height="10.96" fill="#0072BD"/><rect x="652.4" y="1856.86" width="49.7" height="2.82" fill="#6a3050"/><rect x="652.4" y="1859.18" width="49.7" height="33.04" fill="#77AC30"/><rect x="652.4" y="1891.72" width="49.7" height="17.35" fill="#EDB120"/><rect x="652.4" y="1908.57" width="49.7" height="7.47" fill="#D95319"/><rect x="652.4" y="1915.54" width="49.7" height="27.81" fill="#A2142F"/><rect x="652.4" y="1942.85" width="49.7" height="63.25" fill="#7E2F8E"/><rect x="652.4" y="2005.59" width="49.7" height="15.61" fill="#0072BD"/><rect x="701.6" y="1788.3" width="49.7" height="3.99" fill="#46609a"/><rect x="701.6" y="1791.79" width="49.7" height="4.57" fill="#A2142F"/><rect x="701.6" y="1795.85" width="49.7" height="2.82" fill="#b8a052"/><rect x="701.6" y="1798.18" width="49.7" height="1.66" fill="#6a3050"/><rect x="701.6" y="1799.34" width="49.7" height="4.57" fill="#0072BD"/><rect x="701.6" y="1803.41" width="49.7" height="30.71" fill="#4DBEEE"/><rect x="701.6" y="1833.62" width="49.7" height="2.24" fill="#6a3050"/><rect x="701.6" y="1835.36" width="49.7" height="10.38" fill="#EDB120"/><rect x="701.6" y="1845.24" width="49.7" height="9.8" fill="#0072BD"/><rect x="701.6" y="1854.53" width="49.7" height="2.24" fill="#6a3050"/><rect x="701.6" y="1856.28" width="49.7" height="32.45" fill="#77AC30"/><rect x="701.6" y="1888.23" width="49.7" height="16.77" fill="#EDB120"/><rect x="701.6" y="1904.5" width="49.7" height="8.05" fill="#D95319"/><rect x="701.6" y="1912.05" width="49.7" height="30.71" fill="#A2142F"/><rect x="701.6" y="1942.27" width="49.7" height="63.83" fill="#7E2F8E"/><rect x="701.6" y="2005.59" width="49.7" height="15.61" fill="#0072BD"/></g><rect x="554.6" y="1788.9" width="195.6" height="231.2" fill="none" stroke="#0d1b2a" stroke-width="1.3"/>
<g shape-rendering="crispEdges"><rect x="811.5" y="1788.3" width="49.7" height="3.99" fill="#46609a"/><rect x="811.5" y="1791.79" width="49.7" height="4.57" fill="#A2142F"/><rect x="811.5" y="1795.85" width="49.7" height="2.82" fill="#b8a052"/><rect x="811.5" y="1798.18" width="49.7" height="2.82" fill="#6a3050"/><rect x="811.5" y="1800.5" width="49.7" height="2.82" fill="#eea045"/><rect x="811.5" y="1802.83" width="49.7" height="2.82" fill="#2a7f7a"/><rect x="811.5" y="1805.15" width="49.7" height="32.46" fill="#4DBEEE"/><rect x="811.5" y="1837.1" width="49.7" height="2.82" fill="#6a3050"/><rect x="811.5" y="1839.43" width="49.7" height="12.7" fill="#EDB120"/><rect x="811.5" y="1851.63" width="49.7" height="2.24" fill="#D95319"/><rect x="811.5" y="1853.37" width="49.7" height="7.47" fill="#0072BD"/><rect x="811.5" y="1860.34" width="49.7" height="2.82" fill="#6a3050"/><rect x="811.5" y="1862.67" width="49.7" height="38.85" fill="#77AC30"/><rect x="811.5" y="1901.01" width="49.7" height="16.77" fill="#EDB120"/><rect x="811.5" y="1917.28" width="49.7" height="6.89" fill="#D95319"/><rect x="811.5" y="1923.67" width="49.7" height="20.84" fill="#A2142F"/><rect x="811.5" y="1944.01" width="49.7" height="51.05" fill="#7E2F8E"/><rect x="811.5" y="1994.56" width="49.7" height="26.64" fill="#0072BD"/><rect x="860.7" y="1788.3" width="49.7" height="3.99" fill="#46609a"/><rect x="860.7" y="1791.79" width="49.7" height="4.57" fill="#A2142F"/><rect x="860.7" y="1795.85" width="49.7" height="2.82" fill="#b8a052"/><rect x="860.7" y="1798.18" width="49.7" height="2.24" fill="#6a3050"/><rect x="860.7" y="1799.92" width="49.7" height="3.4" fill="#eea045"/><rect x="860.7" y="1802.83" width="49.7" height="2.82" fill="#2a7f7a"/><rect x="860.7" y="1805.15" width="49.7" height="32.46" fill="#4DBEEE"/><rect x="860.7" y="1837.1" width="49.7" height="2.82" fill="#6a3050"/><rect x="860.7" y="1839.43" width="49.7" height="12.12" fill="#EDB120"/><rect x="860.7" y="1851.05" width="49.7" height="2.24" fill="#D95319"/><rect x="860.7" y="1852.79" width="49.7" height="9.8" fill="#0072BD"/><rect x="860.7" y="1862.09" width="49.7" height="2.24" fill="#6a3050"/><rect x="860.7" y="1863.83" width="49.7" height="39.43" fill="#77AC30"/><rect x="860.7" y="1902.76" width="49.7" height="18.51" fill="#EDB120"/><rect x="860.7" y="1920.77" width="49.7" height="7.47" fill="#D95319"/><rect x="860.7" y="1927.74" width="49.7" height="20.25" fill="#A2142F"/><rect x="860.7" y="1947.49" width="49.7" height="58.02" fill="#7E2F8E"/><rect x="860.7" y="2005.01" width="49.7" height="16.19" fill="#0072BD"/><rect x="909.9" y="1788.3" width="49.7" height="3.99" fill="#46609a"/><rect x="909.9" y="1791.79" width="49.7" height="4.57" fill="#A2142F"/><rect x="909.9" y="1795.85" width="49.7" height="2.82" fill="#b8a052"/><rect x="909.9" y="1798.18" width="49.7" height="1.66" fill="#6a3050"/><rect x="909.9" y="1799.34" width="49.7" height="4.57" fill="#0072BD"/><rect x="909.9" y="1803.41" width="49.7" height="28.97" fill="#4DBEEE"/><rect x="909.9" y="1831.88" width="49.7" height="2.24" fill="#6a3050"/><rect x="909.9" y="1833.62" width="49.7" height="9.8" fill="#EDB120"/><rect x="909.9" y="1842.91" width="49.7" height="10.38" fill="#0072BD"/><rect x="909.9" y="1852.79" width="49.7" height="2.82" fill="#6a3050"/><rect x="909.9" y="1855.12" width="49.7" height="33.04" fill="#77AC30"/><rect x="909.9" y="1887.65" width="49.7" height="19.09" fill="#EDB120"/><rect x="909.9" y="1906.24" width="49.7" height="5.15" fill="#D95319"/><rect x="909.9" y="1910.89" width="49.7" height="26.06" fill="#A2142F"/><rect x="909.9" y="1936.45" width="49.7" height="69.64" fill="#7E2F8E"/><rect x="909.9" y="2005.59" width="49.7" height="15.61" fill="#0072BD"/><rect x="959.1" y="1788.3" width="49.7" height="3.99" fill="#46609a"/><rect x="959.1" y="1791.79" width="49.7" height="4.57" fill="#A2142F"/><rect x="959.1" y="1795.85" width="49.7" height="2.82" fill="#b8a052"/><rect x="959.1" y="1798.18" width="49.7" height="1.66" fill="#6a3050"/><rect x="959.1" y="1799.34" width="49.7" height="4.57" fill="#0072BD"/><rect x="959.1" y="1803.41" width="49.7" height="29.55" fill="#4DBEEE"/><rect x="959.1" y="1832.46" width="49.7" height="2.24" fill="#6a3050"/><rect x="959.1" y="1834.2" width="49.7" height="10.38" fill="#EDB120"/><rect x="959.1" y="1844.08" width="49.7" height="9.8" fill="#0072BD"/><rect x="959.1" y="1853.37" width="49.7" height="2.24" fill="#6a3050"/><rect x="959.1" y="1855.12" width="49.7" height="33.62" fill="#77AC30"/><rect x="959.1" y="1888.23" width="49.7" height="17.35" fill="#EDB120"/><rect x="959.1" y="1905.08" width="49.7" height="5.15" fill="#D95319"/><rect x="959.1" y="1909.73" width="49.7" height="27.23" fill="#A2142F"/><rect x="959.1" y="1936.45" width="49.7" height="71.96" fill="#7E2F8E"/><rect x="959.1" y="2007.92" width="49.7" height="13.28" fill="#0072BD"/></g><rect x="812.1" y="1788.9" width="195.6" height="231.2" fill="none" stroke="#0d1b2a" stroke-width="1.3"/>
<g shape-rendering="crispEdges"><rect x="1071.1" y="1788.3" width="49.7" height="3.99" fill="#46609a"/><rect x="1071.1" y="1791.79" width="49.7" height="4.57" fill="#A2142F"/><rect x="1071.1" y="1795.85" width="49.7" height="2.82" fill="#b8a052"/><rect x="1071.1" y="1798.18" width="49.7" height="2.82" fill="#6a3050"/><rect x="1071.1" y="1800.5" width="49.7" height="2.82" fill="#eea045"/><rect x="1071.1" y="1802.83" width="49.7" height="2.82" fill="#2a7f7a"/><rect x="1071.1" y="1805.15" width="49.7" height="32.46" fill="#4DBEEE"/><rect x="1071.1" y="1837.1" width="49.7" height="2.82" fill="#6a3050"/><rect x="1071.1" y="1839.43" width="49.7" height="12.7" fill="#EDB120"/><rect x="1071.1" y="1851.63" width="49.7" height="2.24" fill="#D95319"/><rect x="1071.1" y="1853.37" width="49.7" height="7.47" fill="#0072BD"/><rect x="1071.1" y="1860.34" width="49.7" height="2.82" fill="#6a3050"/><rect x="1071.1" y="1862.67" width="49.7" height="38.85" fill="#77AC30"/><rect x="1071.1" y="1901.01" width="49.7" height="16.77" fill="#EDB120"/><rect x="1071.1" y="1917.28" width="49.7" height="6.89" fill="#D95319"/><rect x="1071.1" y="1923.67" width="49.7" height="20.84" fill="#A2142F"/><rect x="1071.1" y="1944.01" width="49.7" height="51.05" fill="#7E2F8E"/><rect x="1071.1" y="1994.56" width="49.7" height="26.64" fill="#0072BD"/><rect x="1120.3" y="1788.3" width="49.7" height="3.99" fill="#46609a"/><rect x="1120.3" y="1791.79" width="49.7" height="4.57" fill="#A2142F"/><rect x="1120.3" y="1795.85" width="49.7" height="2.82" fill="#b8a052"/><rect x="1120.3" y="1798.18" width="49.7" height="2.24" fill="#6a3050"/><rect x="1120.3" y="1799.92" width="49.7" height="3.4" fill="#eea045"/><rect x="1120.3" y="1802.83" width="49.7" height="2.82" fill="#2a7f7a"/><rect x="1120.3" y="1805.15" width="49.7" height="33.04" fill="#4DBEEE"/><rect x="1120.3" y="1837.68" width="49.7" height="2.82" fill="#6a3050"/><rect x="1120.3" y="1840.01" width="49.7" height="11.54" fill="#EDB120"/><rect x="1120.3" y="1851.05" width="49.7" height="2.24" fill="#D95319"/><rect x="1120.3" y="1852.79" width="49.7" height="8.63" fill="#0072BD"/><rect x="1120.3" y="1860.92" width="49.7" height="2.82" fill="#6a3050"/><rect x="1120.3" y="1863.25" width="49.7" height="40.01" fill="#77AC30"/><rect x="1120.3" y="1902.76" width="49.7" height="18.51" fill="#EDB120"/><rect x="1120.3" y="1920.77" width="49.7" height="7.47" fill="#D95319"/><rect x="1120.3" y="1927.74" width="49.7" height="20.84" fill="#A2142F"/><rect x="1120.3" y="1948.08" width="49.7" height="58.02" fill="#7E2F8E"/><rect x="1120.3" y="2005.59" width="49.7" height="15.61" fill="#0072BD"/><rect x="1169.5" y="1788.3" width="49.7" height="3.99" fill="#46609a"/><rect x="1169.5" y="1791.79" width="49.7" height="4.57" fill="#A2142F"/><rect x="1169.5" y="1795.85" width="49.7" height="2.82" fill="#b8a052"/><rect x="1169.5" y="1798.18" width="49.7" height="1.66" fill="#6a3050"/><rect x="1169.5" y="1799.34" width="49.7" height="4.57" fill="#0072BD"/><rect x="1169.5" y="1803.41" width="49.7" height="28.97" fill="#4DBEEE"/><rect x="1169.5" y="1831.88" width="49.7" height="1.66" fill="#6a3050"/><rect x="1169.5" y="1833.04" width="49.7" height="9.8" fill="#EDB120"/><rect x="1169.5" y="1842.33" width="49.7" height="9.8" fill="#0072BD"/><rect x="1169.5" y="1851.63" width="49.7" height="2.82" fill="#6a3050"/><rect x="1169.5" y="1853.95" width="49.7" height="32.45" fill="#77AC30"/><rect x="1169.5" y="1885.91" width="49.7" height="19.09" fill="#EDB120"/><rect x="1169.5" y="1904.5" width="49.7" height="5.15" fill="#D95319"/><rect x="1169.5" y="1909.15" width="49.7" height="27.81" fill="#A2142F"/><rect x="1169.5" y="1936.45" width="49.7" height="69.64" fill="#7E2F8E"/><rect x="1169.5" y="2005.59" width="49.7" height="15.61" fill="#0072BD"/><rect x="1218.7" y="1788.3" width="49.7" height="3.99" fill="#46609a"/><rect x="1218.7" y="1791.79" width="49.7" height="4.57" fill="#A2142F"/><rect x="1218.7" y="1795.85" width="49.7" height="2.82" fill="#b8a052"/><rect x="1218.7" y="1798.18" width="49.7" height="1.66" fill="#6a3050"/><rect x="1218.7" y="1799.34" width="49.7" height="4.57" fill="#0072BD"/><rect x="1218.7" y="1803.41" width="49.7" height="28.97" fill="#4DBEEE"/><rect x="1218.7" y="1831.88" width="49.7" height="2.24" fill="#6a3050"/><rect x="1218.7" y="1833.62" width="49.7" height="9.8" fill="#EDB120"/><rect x="1218.7" y="1842.91" width="49.7" height="8.05" fill="#0072BD"/><rect x="1218.7" y="1850.47" width="49.7" height="2.24" fill="#6a3050"/><rect x="1218.7" y="1852.21" width="49.7" height="33.04" fill="#77AC30"/><rect x="1218.7" y="1884.75" width="49.7" height="16.77" fill="#EDB120"/><rect x="1218.7" y="1901.01" width="49.7" height="5.73" fill="#D95319"/><rect x="1218.7" y="1906.24" width="49.7" height="27.81" fill="#A2142F"/><rect x="1218.7" y="1933.55" width="49.7" height="71.96" fill="#7E2F8E"/><rect x="1218.7" y="2005.01" width="49.7" height="16.19" fill="#0072BD"/></g><rect x="1071.7" y="1788.9" width="195.6" height="231.2" fill="none" stroke="#0d1b2a" stroke-width="1.3"/>
<g shape-rendering="crispEdges"><rect x="1328.3" y="1788.3" width="49.7" height="3.99" fill="#46609a"/><rect x="1328.3" y="1791.79" width="49.7" height="4.57" fill="#A2142F"/><rect x="1328.3" y="1795.85" width="49.7" height="2.82" fill="#b8a052"/><rect x="1328.3" y="1798.18" width="49.7" height="2.82" fill="#6a3050"/><rect x="1328.3" y="1800.5" width="49.7" height="2.82" fill="#eea045"/><rect x="1328.3" y="1802.83" width="49.7" height="2.82" fill="#2a7f7a"/><rect x="1328.3" y="1805.15" width="49.7" height="32.46" fill="#4DBEEE"/><rect x="1328.3" y="1837.1" width="49.7" height="2.82" fill="#6a3050"/><rect x="1328.3" y="1839.43" width="49.7" height="12.7" fill="#EDB120"/><rect x="1328.3" y="1851.63" width="49.7" height="2.24" fill="#D95319"/><rect x="1328.3" y="1853.37" width="49.7" height="7.47" fill="#0072BD"/><rect x="1328.3" y="1860.34" width="49.7" height="2.82" fill="#6a3050"/><rect x="1328.3" y="1862.67" width="49.7" height="38.85" fill="#77AC30"/><rect x="1328.3" y="1901.01" width="49.7" height="16.77" fill="#EDB120"/><rect x="1328.3" y="1917.28" width="49.7" height="6.89" fill="#D95319"/><rect x="1328.3" y="1923.67" width="49.7" height="20.84" fill="#A2142F"/><rect x="1328.3" y="1944.01" width="49.7" height="51.05" fill="#7E2F8E"/><rect x="1328.3" y="1994.56" width="49.7" height="26.64" fill="#0072BD"/><rect x="1377.5" y="1788.3" width="49.7" height="3.99" fill="#46609a"/><rect x="1377.5" y="1791.79" width="49.7" height="4.57" fill="#A2142F"/><rect x="1377.5" y="1795.85" width="49.7" height="2.82" fill="#b8a052"/><rect x="1377.5" y="1798.18" width="49.7" height="1.66" fill="#6a3050"/><rect x="1377.5" y="1799.34" width="49.7" height="4.57" fill="#0072BD"/><rect x="1377.5" y="1803.41" width="49.7" height="38.27" fill="#4DBEEE"/><rect x="1377.5" y="1841.17" width="49.7" height="2.24" fill="#6a3050"/><rect x="1377.5" y="1842.91" width="49.7" height="12.12" fill="#EDB120"/><rect x="1377.5" y="1854.53" width="49.7" height="10.38" fill="#0072BD"/><rect x="1377.5" y="1864.41" width="49.7" height="2.24" fill="#6a3050"/><rect x="1377.5" y="1866.15" width="49.7" height="41.75" fill="#77AC30"/><rect x="1377.5" y="1907.4" width="49.7" height="20.25" fill="#EDB120"/><rect x="1377.5" y="1927.16" width="49.7" height="6.89" fill="#D95319"/><rect x="1377.5" y="1933.55" width="49.7" height="22" fill="#A2142F"/><rect x="1377.5" y="1955.05" width="49.7" height="53.37" fill="#7E2F8E"/><rect x="1377.5" y="2007.92" width="49.7" height="13.28" fill="#0072BD"/><rect x="1426.7" y="1788.3" width="49.7" height="3.99" fill="#46609a"/><rect x="1426.7" y="1791.79" width="49.7" height="4.57" fill="#A2142F"/><rect x="1426.7" y="1795.85" width="49.7" height="2.82" fill="#b8a052"/><rect x="1426.7" y="1798.18" width="49.7" height="1.66" fill="#6a3050"/><rect x="1426.7" y="1799.34" width="49.7" height="4.57" fill="#0072BD"/><rect x="1426.7" y="1803.41" width="49.7" height="33.62" fill="#4DBEEE"/><rect x="1426.7" y="1836.52" width="49.7" height="2.82" fill="#6a3050"/><rect x="1426.7" y="1838.85" width="49.7" height="9.8" fill="#EDB120"/><rect x="1426.7" y="1848.14" width="49.7" height="8.05" fill="#0072BD"/><rect x="1426.7" y="1855.7" width="49.7" height="2.24" fill="#6a3050"/><rect x="1426.7" y="1857.44" width="49.7" height="35.94" fill="#77AC30"/><rect x="1426.7" y="1892.88" width="49.7" height="19.67" fill="#EDB120"/><rect x="1426.7" y="1912.05" width="49.7" height="5.15" fill="#D95319"/><rect x="1426.7" y="1916.7" width="49.7" height="26.64" fill="#A2142F"/><rect x="1426.7" y="1942.85" width="49.7" height="65.57" fill="#7E2F8E"/><rect x="1426.7" y="2007.92" width="49.7" height="13.28" fill="#0072BD"/><rect x="1475.9" y="1788.3" width="49.7" height="3.99" fill="#46609a"/><rect x="1475.9" y="1791.79" width="49.7" height="4.57" fill="#A2142F"/><rect x="1475.9" y="1795.85" width="49.7" height="2.82" fill="#b8a052"/><rect x="1475.9" y="1798.18" width="49.7" height="1.66" fill="#6a3050"/><rect x="1475.9" y="1799.34" width="49.7" height="4.57" fill="#0072BD"/><rect x="1475.9" y="1803.41" width="49.7" height="31.87" fill="#4DBEEE"/><rect x="1475.9" y="1834.78" width="49.7" height="2.24" fill="#6a3050"/><rect x="1475.9" y="1836.52" width="49.7" height="10.38" fill="#EDB120"/><rect x="1475.9" y="1846.4" width="49.7" height="7.47" fill="#0072BD"/><rect x="1475.9" y="1853.37" width="49.7" height="2.82" fill="#6a3050"/><rect x="1475.9" y="1855.7" width="49.7" height="35.94" fill="#77AC30"/><rect x="1475.9" y="1891.14" width="49.7" height="16.77" fill="#EDB120"/><rect x="1475.9" y="1907.4" width="49.7" height="5.15" fill="#D95319"/><rect x="1475.9" y="1912.05" width="49.7" height="28.97" fill="#A2142F"/><rect x="1475.9" y="1940.52" width="49.7" height="67.9" fill="#7E2F8E"/><rect x="1475.9" y="2007.92" width="49.7" height="13.28" fill="#0072BD"/></g><rect x="1328.9" y="1788.9" width="195.6" height="231.2" fill="none" stroke="#0d1b2a" stroke-width="1.3"/>
<g shape-rendering="crispEdges"><rect x="1588" y="1788.3" width="49.7" height="3.99" fill="#46609a"/><rect x="1588" y="1791.79" width="49.7" height="4.57" fill="#A2142F"/><rect x="1588" y="1795.85" width="49.7" height="2.82" fill="#b8a052"/><rect x="1588" y="1798.18" width="49.7" height="2.82" fill="#6a3050"/><rect x="1588" y="1800.5" width="49.7" height="2.82" fill="#eea045"/><rect x="1588" y="1802.83" width="49.7" height="2.82" fill="#2a7f7a"/><rect x="1588" y="1805.15" width="49.7" height="32.46" fill="#4DBEEE"/><rect x="1588" y="1837.1" width="49.7" height="2.82" fill="#6a3050"/><rect x="1588" y="1839.43" width="49.7" height="12.7" fill="#EDB120"/><rect x="1588" y="1851.63" width="49.7" height="2.24" fill="#D95319"/><rect x="1588" y="1853.37" width="49.7" height="7.47" fill="#0072BD"/><rect x="1588" y="1860.34" width="49.7" height="2.82" fill="#6a3050"/><rect x="1588" y="1862.67" width="49.7" height="38.85" fill="#77AC30"/><rect x="1588" y="1901.01" width="49.7" height="16.77" fill="#EDB120"/><rect x="1588" y="1917.28" width="49.7" height="6.89" fill="#D95319"/><rect x="1588" y="1923.67" width="49.7" height="20.84" fill="#A2142F"/><rect x="1588" y="1944.01" width="49.7" height="51.05" fill="#7E2F8E"/><rect x="1588" y="1994.56" width="49.7" height="26.64" fill="#0072BD"/><rect x="1637.2" y="1788.3" width="49.7" height="3.99" fill="#46609a"/><rect x="1637.2" y="1791.79" width="49.7" height="4.57" fill="#A2142F"/><rect x="1637.2" y="1795.85" width="49.7" height="2.82" fill="#b8a052"/><rect x="1637.2" y="1798.18" width="49.7" height="1.66" fill="#6a3050"/><rect x="1637.2" y="1799.34" width="49.7" height="4.57" fill="#0072BD"/><rect x="1637.2" y="1803.41" width="49.7" height="34.78" fill="#4DBEEE"/><rect x="1637.2" y="1837.68" width="49.7" height="2.82" fill="#6a3050"/><rect x="1637.2" y="1840.01" width="49.7" height="12.12" fill="#EDB120"/><rect x="1637.2" y="1851.63" width="49.7" height="2.24" fill="#D95319"/><rect x="1637.2" y="1853.37" width="49.7" height="10.38" fill="#0072BD"/><rect x="1637.2" y="1863.25" width="49.7" height="2.24" fill="#6a3050"/><rect x="1637.2" y="1864.99" width="49.7" height="42.33" fill="#77AC30"/><rect x="1637.2" y="1906.82" width="49.7" height="19.67" fill="#EDB120"/><rect x="1637.2" y="1926" width="49.7" height="6.89" fill="#D95319"/><rect x="1637.2" y="1932.39" width="49.7" height="20.84" fill="#A2142F"/><rect x="1637.2" y="1952.72" width="49.7" height="55.7" fill="#7E2F8E"/><rect x="1637.2" y="2007.92" width="49.7" height="13.28" fill="#0072BD"/><rect x="1686.4" y="1788.3" width="49.7" height="3.99" fill="#46609a"/><rect x="1686.4" y="1791.79" width="49.7" height="4.57" fill="#A2142F"/><rect x="1686.4" y="1795.85" width="49.7" height="2.82" fill="#b8a052"/><rect x="1686.4" y="1798.18" width="49.7" height="1.66" fill="#6a3050"/><rect x="1686.4" y="1799.34" width="49.7" height="4.57" fill="#0072BD"/><rect x="1686.4" y="1803.41" width="49.7" height="28.97" fill="#4DBEEE"/><rect x="1686.4" y="1831.88" width="49.7" height="2.24" fill="#6a3050"/><rect x="1686.4" y="1833.62" width="49.7" height="9.8" fill="#EDB120"/><rect x="1686.4" y="1842.91" width="49.7" height="9.8" fill="#0072BD"/><rect x="1686.4" y="1852.21" width="49.7" height="2.82" fill="#6a3050"/><rect x="1686.4" y="1854.53" width="49.7" height="35.94" fill="#77AC30"/><rect x="1686.4" y="1889.97" width="49.7" height="18.51" fill="#EDB120"/><rect x="1686.4" y="1907.99" width="49.7" height="5.15" fill="#D95319"/><rect x="1686.4" y="1912.63" width="49.7" height="28.39" fill="#A2142F"/><rect x="1686.4" y="1940.52" width="49.7" height="67.9" fill="#7E2F8E"/><rect x="1686.4" y="2007.92" width="49.7" height="13.28" fill="#0072BD"/><rect x="1735.6" y="1788.3" width="49.7" height="3.99" fill="#46609a"/><rect x="1735.6" y="1791.79" width="49.7" height="4.57" fill="#A2142F"/><rect x="1735.6" y="1795.85" width="49.7" height="2.82" fill="#b8a052"/><rect x="1735.6" y="1798.18" width="49.7" height="1.66" fill="#6a3050"/><rect x="1735.6" y="1799.34" width="49.7" height="4.57" fill="#0072BD"/><rect x="1735.6" y="1803.41" width="49.7" height="28.97" fill="#4DBEEE"/><rect x="1735.6" y="1831.88" width="49.7" height="2.24" fill="#6a3050"/><rect x="1735.6" y="1833.62" width="49.7" height="9.8" fill="#EDB120"/><rect x="1735.6" y="1842.91" width="49.7" height="8.05" fill="#0072BD"/><rect x="1735.6" y="1850.47" width="49.7" height="2.24" fill="#6a3050"/><rect x="1735.6" y="1852.21" width="49.7" height="35.36" fill="#77AC30"/><rect x="1735.6" y="1887.07" width="49.7" height="19.67" fill="#EDB120"/><rect x="1735.6" y="1906.24" width="49.7" height="5.15" fill="#D95319"/><rect x="1735.6" y="1910.89" width="49.7" height="28.39" fill="#A2142F"/><rect x="1735.6" y="1938.78" width="49.7" height="69.64" fill="#7E2F8E"/><rect x="1735.6" y="2007.92" width="49.7" height="13.28" fill="#0072BD"/></g><rect x="1588.6" y="1788.9" width="195.6" height="231.2" fill="none" stroke="#0d1b2a" stroke-width="1.3"/>
<text transform="translate(241.3 1914.3) rotate(-90)" text-anchor="middle" font-family="'Liberation Sans', Arial, Helvetica, sans-serif" font-size="33.8">strain abundance</text>
<text x="264.5" y="1806.7" font-family="'Liberation Sans', Arial, Helvetica, sans-serif" font-size="29">1</text>
<text x="264" y="2049.9" font-family="'Liberation Sans', Arial, Helvetica, sans-serif" font-size="29">0</text>
<text x="315.1" y="2066.2" text-anchor="middle" font-family="'Liberation Sans', Arial, Helvetica, sans-serif" font-size="29">0</text>
<text x="364.9" y="2066.2" text-anchor="middle" font-family="'Liberation Sans', Arial, Helvetica, sans-serif" font-size="29">5</text>
<text x="414.1" y="2064.1" text-anchor="middle" font-family="'Liberation Sans', Arial, Helvetica, sans-serif" font-size="29">10</text>
<text x="464.1" y="2064.1" text-anchor="middle" font-family="'Liberation Sans', Arial, Helvetica, sans-serif" font-size="29">15</text>
<text x="391.9" y="2104.2" text-anchor="middle" font-family="'Liberation Sans', Arial, Helvetica, sans-serif" font-size="41">days</text>
<text x="176" y="2163.2" font-family="'Liberation Sans', Arial, Helvetica, sans-serif" font-weight="bold" font-size="49">c</text>
<rect x="331.91" y="2268.2" width="39.31" height="138.2" fill="#5a8ab8"/>
<rect x="381.67" y="2373.5" width="39.31" height="32.9" fill="#5a8ab8"/>
<rect x="431.44" y="2231.1" width="39.31" height="175.3" fill="#5a8ab8"/>
<rect x="481.2" y="2222.7" width="39.31" height="183.7" fill="#5a8ab8"/>
<rect x="530.96" y="2224" width="39.31" height="182.4" fill="#5a8ab8"/>
<rect x="580.73" y="2370.7" width="39.31" height="35.7" fill="#5a8ab8"/>
<rect x="630.49" y="2275.4" width="39.31" height="131" fill="#5a8ab8"/>
<rect x="680.26" y="2322.2" width="39.31" height="84.2" fill="#5a8ab8"/>
<rect x="730.02" y="2348.8" width="39.31" height="57.6" fill="#5a8ab8"/>
<rect x="779.79" y="2212.1" width="39.31" height="194.3" fill="#5a8ab8"/>
<rect x="829.55" y="2297" width="39.31" height="109.4" fill="#5a8ab8"/>
<rect x="879.31" y="2263.7" width="39.31" height="142.7" fill="#5a8ab8"/>
<rect x="929.08" y="2263.7" width="39.31" height="142.7" fill="#5a8ab8"/>
<path d="M351.56 2406.4V2399.4M351.56 2150.5V2157.5M401.33 2406.4V2399.4M401.33 2150.5V2157.5M451.09 2406.4V2399.4M451.09 2150.5V2157.5M500.86 2406.4V2399.4M500.86 2150.5V2157.5M550.62 2406.4V2399.4M550.62 2150.5V2157.5M600.39 2406.4V2399.4M600.39 2150.5V2157.5M650.15 2406.4V2399.4M650.15 2150.5V2157.5M699.91 2406.4V2399.4M699.91 2150.5V2157.5M749.68 2406.4V2399.4M749.68 2150.5V2157.5M799.44 2406.4V2399.4M799.44 2150.5V2157.5M849.21 2406.4V2399.4M849.21 2150.5V2157.5M898.97 2406.4V2399.4M898.97 2150.5V2157.5M948.74 2406.4V2399.4M948.74 2150.5V2157.5M301.8 2193.15H309.3M998.5 2193.15H991M301.8 2235.8H309.3M998.5 2235.8H991M301.8 2278.45H309.3M998.5 2278.45H991M301.8 2321.1H309.3M998.5 2321.1H991M301.8 2363.75H309.3M998.5 2363.75H991" stroke="#333" stroke-width="1.2" fill="none"/>
<path d="M350.56 2264H359.56M401.33 2373.5V2351.9H411.33M450.09 2230H459.09M499.86 2214.8H508.86M549.62 2220.4H558.62M600.39 2370.7V2348.8H610.39M649.15 2265H658.15M698.91 2316.9H707.91M749.68 2332.1V2348.8M749.68 2332.1H759.68M798.44 2209.1H807.44M848.21 2291.6H857.21M898.97 2259.7V2273.8M891.97 2273.8H905.97M898.97 2259.7H906.97M947.74 2262.4H956.74" stroke="#000" stroke-width="1.6" fill="none"/>
<g fill="none" stroke="#000" stroke-width="2"><circle cx="349.56" cy="2264" r="5"/><circle cx="349.56" cy="2267" r="5"/><circle cx="349.56" cy="2270" r="5"/><circle cx="399.33" cy="2351.9" r="5"/><circle cx="449.09" cy="2230" r="5"/><circle cx="498.86" cy="2214.8" r="5"/><circle cx="498.86" cy="2222.5" r="5"/><circle cx="498.86" cy="2224.2" r="5"/><circle cx="548.62" cy="2220.4" r="5"/><circle cx="548.62" cy="2222" r="5"/><circle cx="548.62" cy="2224" r="5"/><circle cx="598.39" cy="2348.8" r="5"/><circle cx="648.15" cy="2265" r="5"/><circle cx="648.15" cy="2277" r="5"/><circle cx="648.15" cy="2279.7" r="5"/><circle cx="697.91" cy="2316.9" r="5"/><circle cx="697.91" cy="2321" r="5"/><circle cx="697.91" cy="2324.4" r="5"/><circle cx="747.68" cy="2332.1" r="5"/><circle cx="747.68" cy="2354.2" r="5"/><circle cx="797.44" cy="2209.1" r="5"/><circle cx="797.44" cy="2211.8" r="5"/><circle cx="797.44" cy="2213.1" r="5"/><circle cx="847.21" cy="2291.6" r="5"/><circle cx="847.21" cy="2295" r="5"/><circle cx="847.21" cy="2297" r="5"/><circle cx="896.97" cy="2259.7" r="5"/><circle cx="896.97" cy="2262.4" r="5"/><circle cx="896.97" cy="2265" r="5"/><circle cx="946.74" cy="2262.4" r="5"/></g>
<rect x="301.8" y="2150.5" width="696.7" height="255.9" fill="none" stroke="#222" stroke-width="1.3"/>
<text x="223" y="2207.85" font-family="'Liberation Sans', Arial, Helvetica, sans-serif" font-size="32">10<tspan font-size="21.5" dy="-10">-10</tspan></text>
<text x="223" y="2293.15" font-family="'Liberation Sans', Arial, Helvetica, sans-serif" font-size="32">10<tspan font-size="21.5" dy="-10">-12</tspan></text>
<text x="223" y="2378.45" font-family="'Liberation Sans', Arial, Helvetica, sans-serif" font-size="32">10<tspan font-size="21.5" dy="-10">-14</tspan></text>
<text transform="translate(194.8 2334.8) rotate(-90)" text-anchor="middle" font-family="'Liberation Sans', Arial, Helvetica, sans-serif" font-size="40.5">conjugation rate</text>
<g font-family="'Liberation Sans', Arial, Helvetica, sans-serif" font-size="33.5"><text transform="translate(373.56 2447) rotate(-45)" text-anchor="end">p2</text><text transform="translate(422.33 2446) rotate(-45)" text-anchor="end">p3</text><text transform="translate(473.09 2446) rotate(-45)" text-anchor="end">p5</text><text transform="translate(522.86 2442) rotate(-45)" text-anchor="end">p12</text><text transform="translate(573.62 2442) rotate(-45)" text-anchor="end">p13</text><text transform="translate(621.39 2441) rotate(-45)" text-anchor="end">p16</text><text transform="translate(671.15 2442) rotate(-45)" text-anchor="end">p17</text><text transform="translate(724.91 2441) rotate(-45)" text-anchor="end">p18</text><text transform="translate(774.68 2441) rotate(-45)" text-anchor="end">p19</text><text transform="translate(824.44 2440) rotate(-45)" text-anchor="end">p23</text><text transform="translate(870.21 2440) rotate(-45)" text-anchor="end">p24</text><text transform="translate(924.97 2439) rotate(-45)" text-anchor="end">pRP4</text><text transform="translate(981.74 2436) rotate(-45)" text-anchor="end">pR388</text></g></svg>
</body></html>
